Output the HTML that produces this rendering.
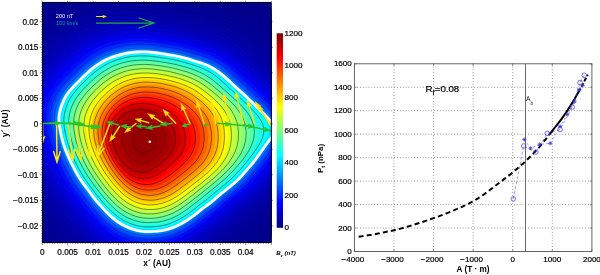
<!DOCTYPE html>
<html lang="en"><head><meta charset="utf-8"><title>Figure</title><style>html,body{margin:0;padding:0;background:#fff;overflow:hidden}svg{display:block}svg text{font-family:"Liberation Sans",Arial,Helvetica,sans-serif}</style></head><body>
<svg width="600" height="275" viewBox="0 0 600 275">
<rect width="600" height="275" fill="#fff"/>
<defs><clipPath id="cp"><rect x="42.4" y="2.4" width="228.8" height="240.2"/></clipPath></defs>
<g clip-path="url(#cp)">
<rect x="42.4" y="2.4" width="228.8" height="240.2" fill="#000090"/>
<path d="M-40.1 141.8 -42.4 132.7 -44.4 123.5 -46.1 114.0 -47.6 104.3 -47.9 94.6 -46.9 85.0 -44.7 75.7 -41.6 66.6 -37.9 57.8 -33.3 49.3 -27.8 41.4 -21.6 34.1 -15.0 27.1 -8.3 20.4 -1.7 13.9 4.9 7.4 11.6 1.3 18.7 -4.5 25.9 -10.0 33.3 -15.2 40.9 -20.0 48.9 -24.0 57.2 -27.4 65.6 -30.3 74.1 -32.9 82.6 -35.0 91.1 -36.6 99.6 -37.8 108.2 -38.5 116.6 -38.7 125.0 -38.6 133.3 -38.2 141.4 -37.5 149.4 -36.4 157.3 -35.2 165.0 -34.1 172.6 -33.0 180.2 -31.8 187.7 -30.4 195.1 -28.8 202.4 -27.0 209.7 -25.0 216.9 -22.8 224.1 -20.5 231.3 -18.3 238.6 -16.0 245.8 -13.3 252.8 -10.2 259.6 -6.7 266.2 -2.8 272.6 1.5 278.7 6.2 284.6 11.2 290.3 16.5 295.9 21.9 301.5 27.2 307.4 32.5 313.5 37.8 319.6 43.3 325.7 49.0 331.9 54.9 338.2 61.0 344.7 67.4 351.5 73.9 358.5 80.8 365.6 88.0 372.9 95.7 380.4 103.8 386.5 112.6 386.0 122.5 379.2 132.4 372.0 141.8 365.7 150.6 360.0 158.9 354.4 166.7 348.9 174.2 343.5 181.4 338.0 188.1 332.4 194.6 327.0 200.8 321.8 206.8 316.6 212.5 311.3 218.0 305.8 223.1 300.2 227.9 294.6 232.5 289.0 237.0 283.5 241.2 278.1 245.4 272.9 249.7 268.0 254.2 263.0 258.6 257.8 262.8 252.5 266.8 247.1 270.7 241.7 274.7 236.4 278.9 231.0 283.3 225.5 287.8 219.7 292.1 213.7 296.3 207.5 300.3 201.0 304.3 194.3 307.9 187.3 311.2 180.1 314.2 172.6 316.7 165.0 318.7 157.2 320.1 149.3 321.1 141.3 321.8 133.2 322.1 125.1 321.9 117.0 321.1 108.9 319.6 101.1 317.4 93.4 314.7 85.9 311.4 78.6 307.7 71.7 303.4 65.1 298.6 58.8 293.4 52.8 288.0 47.1 282.3 41.6 276.4 36.2 270.6 30.9 264.6 25.8 258.6 20.9 252.4 16.2 246.0 11.5 239.6 6.7 233.2 1.8 226.7 -2.9 220.1 -7.5 213.3 -11.7 206.1 -15.7 198.8 -19.6 191.3 -23.5 183.6 -27.2 175.7 -30.8 167.6 -34.3 159.2 -37.4 150.6Z" fill="#000090"/>
<path d="M-38.0 141.8 -40.2 132.8 -42.2 123.7 -43.9 114.3 -45.3 104.7 -45.7 95.1 -44.6 85.6 -42.5 76.4 -39.5 67.4 -35.8 58.6 -31.3 50.3 -25.8 42.5 -19.6 35.2 -13.2 28.3 -6.5 21.7 0.0 15.2 6.5 8.8 13.2 2.7 20.2 -3.0 27.4 -8.4 34.6 -13.6 42.2 -18.3 50.1 -22.3 58.3 -25.6 66.7 -28.5 75.0 -31.0 83.4 -33.1 91.9 -34.7 100.3 -35.9 108.8 -36.6 117.1 -36.9 125.4 -36.8 133.6 -36.3 141.6 -35.6 149.6 -34.5 157.4 -33.4 165.0 -32.2 172.6 -31.1 180.0 -30.0 187.4 -28.6 194.8 -27.0 202.0 -25.2 209.2 -23.2 216.3 -21.0 223.5 -18.8 230.6 -16.6 237.8 -14.4 244.9 -11.7 251.8 -8.6 258.6 -5.1 265.2 -1.3 271.5 3.0 277.6 7.7 283.4 12.6 289.0 17.8 294.5 23.1 300.1 28.4 305.9 33.7 311.9 38.9 318.0 44.4 324.0 50.0 330.1 55.8 336.4 61.9 342.9 68.1 349.5 74.6 356.5 81.4 363.5 88.6 370.7 96.2 378.2 104.2 384.2 112.9 383.6 122.7 377.0 132.5 369.8 141.8 363.6 150.5 357.9 158.7 352.4 166.5 347.0 173.9 341.6 181.0 336.2 187.7 330.7 194.0 325.3 200.2 320.2 206.1 315.0 211.8 309.8 217.2 304.4 222.3 298.8 227.0 293.2 231.6 287.7 236.0 282.2 240.2 276.9 244.3 271.8 248.6 266.9 253.0 262.0 257.3 256.9 261.5 251.6 265.5 246.3 269.4 240.9 273.3 235.6 277.4 230.3 281.9 224.8 286.3 219.1 290.5 213.2 294.6 207.0 298.7 200.6 302.6 194.0 306.2 187.1 309.4 179.9 312.4 172.6 314.9 165.0 316.8 157.3 318.2 149.5 319.3 141.6 319.9 133.5 320.2 125.5 320.0 117.5 319.2 109.5 317.7 101.7 315.6 94.1 312.9 86.7 309.6 79.6 305.9 72.7 301.7 66.2 296.9 59.9 291.8 54.0 286.5 48.3 280.8 42.9 275.0 37.6 269.2 32.3 263.4 27.3 257.4 22.4 251.2 17.8 244.9 13.1 238.6 8.3 232.2 3.5 225.9 -1.2 219.3 -5.7 212.5 -9.9 205.5 -13.8 198.2 -17.7 190.7 -21.5 183.1 -25.2 175.3 -28.8 167.3 -32.2 159.1 -35.3 150.5Z" fill="#000091"/>
<path d="M-35.8 141.8 -38.1 132.9 -40.0 123.9 -41.7 114.6 -43.1 105.1 -43.5 95.6 -42.4 86.2 -40.3 77.1 -37.3 68.2 -33.6 59.5 -29.2 51.2 -23.8 43.5 -17.7 36.3 -11.3 29.5 -4.7 23.0 1.8 16.6 8.2 10.2 14.8 4.2 21.8 -1.4 28.8 -6.8 36.0 -11.9 43.5 -16.6 51.3 -20.6 59.5 -23.9 67.7 -26.7 76.0 -29.2 84.3 -31.3 92.6 -32.9 101.0 -34.0 109.4 -34.7 117.6 -35.0 125.8 -34.9 133.9 -34.4 141.9 -33.7 149.7 -32.7 157.4 -31.5 165.0 -30.4 172.5 -29.3 179.9 -28.2 187.2 -26.8 194.4 -25.2 201.6 -23.4 208.7 -21.5 215.8 -19.3 222.8 -17.1 229.9 -15.0 237.1 -12.7 244.1 -10.1 250.9 -7.0 257.6 -3.6 264.1 0.3 270.4 4.5 276.4 9.1 282.1 14.0 287.7 19.1 293.1 24.4 298.7 29.6 304.4 34.8 310.4 40.0 316.3 45.4 322.3 51.0 328.4 56.8 334.6 62.7 341.0 68.9 347.6 75.4 354.4 82.1 361.4 89.2 368.5 96.7 375.9 104.6 381.8 113.3 381.3 122.9 374.8 132.6 367.6 141.8 361.5 150.4 355.9 158.5 350.4 166.2 345.1 173.5 339.7 180.5 334.3 187.2 328.9 193.5 323.6 199.5 318.5 205.4 313.5 211.0 308.3 216.4 302.9 221.4 297.4 226.1 291.9 230.6 286.4 235.0 281.0 239.1 275.7 243.3 270.7 247.5 265.8 251.8 260.9 256.1 255.9 260.3 250.7 264.2 245.4 268.0 240.1 271.9 234.9 276.0 229.6 280.4 224.2 284.7 218.6 288.9 212.7 293.0 206.6 297.0 200.3 300.9 193.7 304.4 186.8 307.7 179.8 310.6 172.5 313.1 165.0 315.0 157.4 316.4 149.6 317.4 141.8 318.0 133.9 318.3 125.9 318.1 118.0 317.4 110.1 315.9 102.4 313.8 94.9 311.1 87.6 307.9 80.5 304.2 73.7 300.0 67.2 295.3 61.1 290.2 55.2 284.9 49.6 279.4 44.2 273.6 38.9 267.9 33.8 262.1 28.7 256.1 23.9 250.1 19.3 243.8 14.7 237.5 10.0 231.3 5.2 225.0 0.6 218.5 -3.9 211.8 -8.0 204.8 -11.9 197.6 -15.7 190.2 -19.5 182.7 -23.2 175.0 -26.8 167.0 -30.1 158.9 -33.2 150.5Z" fill="#000091"/>
<path d="M-33.7 141.8 -35.9 133.0 -37.8 124.1 -39.5 114.9 -40.9 105.5 -41.2 96.1 -40.2 86.8 -38.1 77.8 -35.1 69.0 -31.5 60.4 -27.1 52.2 -21.7 44.6 -15.7 37.5 -9.4 30.7 -2.9 24.2 3.5 17.9 9.9 11.7 16.4 5.7 23.3 0.1 30.3 -5.2 37.4 -10.3 44.8 -14.9 52.5 -18.8 60.6 -22.1 68.7 -24.9 76.9 -27.4 85.2 -29.4 93.4 -31.0 101.7 -32.1 109.9 -32.8 118.1 -33.1 126.3 -33.0 134.3 -32.6 142.1 -31.8 149.9 -30.8 157.5 -29.7 165.0 -28.5 172.4 -27.5 179.7 -26.3 187.0 -25.0 194.1 -23.4 201.2 -21.7 208.3 -19.7 215.3 -17.6 222.2 -15.4 229.2 -13.3 236.3 -11.1 243.2 -8.5 250.0 -5.4 256.6 -2.0 263.1 1.8 269.2 5.9 275.2 10.5 280.9 15.3 286.4 20.4 291.8 25.6 297.2 30.8 302.9 36.0 308.8 41.1 314.7 46.4 320.6 51.9 326.6 57.7 332.8 63.6 339.1 69.7 345.6 76.1 352.4 82.7 359.3 89.7 366.4 97.2 373.7 105.0 379.5 113.6 379.0 123.1 372.5 132.7 365.5 141.8 359.4 150.3 353.9 158.3 348.4 166.0 343.1 173.2 337.9 180.1 332.5 186.7 327.2 192.9 322.0 198.9 316.9 204.7 311.9 210.3 306.8 215.6 301.4 220.6 295.9 225.2 290.5 229.7 285.1 234.0 279.8 238.1 274.5 242.2 269.5 246.3 264.7 250.7 259.9 254.9 254.9 259.0 249.8 262.9 244.5 266.7 239.3 270.5 234.1 274.6 228.9 278.9 223.6 283.2 218.0 287.4 212.2 291.4 206.2 295.4 199.9 299.2 193.4 302.7 186.6 305.9 179.6 308.8 172.4 311.2 165.0 313.1 157.5 314.5 149.8 315.5 142.0 316.1 134.2 316.4 126.3 316.3 118.5 315.5 110.7 314.0 103.1 311.9 95.6 309.3 88.4 306.1 81.4 302.5 74.6 298.3 68.2 293.7 62.2 288.7 56.3 283.4 50.8 277.9 45.5 272.2 40.3 266.5 35.2 260.8 30.2 254.9 25.4 248.9 20.9 242.7 16.3 236.5 11.7 230.3 6.9 224.1 2.3 217.6 -2.1 211.0 -6.2 204.1 -10.0 197.0 -13.8 189.7 -17.6 182.3 -21.2 174.6 -24.7 166.8 -28.0 158.7 -31.0 150.4Z" fill="#000091"/>
<path d="M-31.5 141.8 -33.7 133.1 -35.6 124.3 -37.3 115.2 -38.7 105.9 -39.0 96.6 -38.0 87.4 -35.9 78.5 -33.0 69.7 -29.4 61.3 -25.0 53.2 -19.7 45.6 -13.8 38.6 -7.5 31.9 -1.1 25.5 5.3 19.2 11.6 13.1 18.0 7.1 24.8 1.6 31.8 -3.6 38.8 -8.6 46.1 -13.2 53.7 -17.1 61.7 -20.3 69.8 -23.1 77.9 -25.5 86.0 -27.6 94.2 -29.1 102.4 -30.3 110.5 -30.9 118.6 -31.2 126.7 -31.1 134.6 -30.7 142.4 -30.0 150.1 -29.0 157.6 -27.8 165.0 -26.7 172.3 -25.7 179.6 -24.5 186.7 -23.2 193.8 -21.6 200.8 -19.9 207.8 -18.0 214.7 -15.9 221.6 -13.7 228.5 -11.6 235.5 -9.4 242.4 -6.8 249.1 -3.8 255.6 -0.5 262.0 3.3 268.1 7.4 274.0 11.9 279.6 16.7 285.1 21.7 290.4 26.9 295.8 32.0 301.4 37.1 307.3 42.2 313.1 47.4 319.0 52.9 324.9 58.6 331.0 64.4 337.2 70.5 343.7 76.8 350.4 83.3 357.3 90.3 364.2 97.6 371.4 105.4 377.2 113.9 376.7 123.3 370.3 132.8 363.3 141.8 357.3 150.2 351.8 158.1 346.5 165.7 341.2 172.9 336.0 179.7 330.7 186.2 325.4 192.4 320.3 198.3 315.2 204.0 310.3 209.5 305.2 214.8 299.9 219.7 294.5 224.3 289.2 228.7 283.8 233.0 278.5 237.1 273.3 241.1 268.4 245.2 263.7 249.5 258.9 253.7 254.0 257.7 248.9 261.6 243.7 265.3 238.5 269.1 233.4 273.1 228.2 277.4 222.9 281.7 217.4 285.8 211.7 289.8 205.7 293.7 199.5 297.5 193.1 300.9 186.4 304.1 179.5 307.0 172.3 309.4 165.0 311.3 157.5 312.7 150.0 313.6 142.3 314.3 134.5 314.6 126.7 314.4 119.0 313.6 111.3 312.2 103.7 310.1 96.4 307.5 89.2 304.3 82.3 300.7 75.6 296.6 69.3 292.0 63.3 287.1 57.5 281.9 52.0 276.4 46.8 270.8 41.6 265.2 36.6 259.5 31.6 253.7 26.9 247.7 22.4 241.6 17.9 235.5 13.3 229.4 8.6 223.2 4.1 216.8 -0.3 210.3 -4.3 203.4 -8.1 196.4 -11.9 189.2 -15.6 181.8 -19.2 174.3 -22.7 166.5 -25.9 158.5 -28.9 150.3Z" fill="#000091"/>
<path d="M-29.4 141.8 -31.5 133.2 -33.4 124.4 -35.1 115.5 -36.5 106.3 -36.8 97.1 -35.8 88.0 -33.7 79.1 -30.8 70.5 -27.3 62.2 -23.0 54.1 -17.7 46.7 -11.8 39.7 -5.6 33.1 0.7 26.8 7.0 20.6 13.2 14.5 19.6 8.6 26.3 3.1 33.2 -2.0 40.1 -7.0 47.3 -11.5 54.9 -15.4 62.8 -18.6 70.8 -21.3 78.8 -23.7 86.9 -25.7 95.0 -27.3 103.1 -28.4 111.1 -29.0 119.2 -29.3 127.1 -29.2 134.9 -28.8 142.6 -28.1 150.2 -27.1 157.7 -25.9 165.0 -24.9 172.2 -23.8 179.4 -22.7 186.5 -21.4 193.5 -19.8 200.5 -18.1 207.3 -16.2 214.2 -14.2 221.0 -12.0 227.9 -9.9 234.7 -7.8 241.5 -5.2 248.2 -2.3 254.6 1.1 260.9 4.8 267.0 8.9 272.8 13.3 278.4 18.1 283.8 23.0 289.0 28.1 294.4 33.2 300.0 38.2 305.7 43.3 311.5 48.5 317.3 53.9 323.1 59.5 329.2 65.2 335.3 71.2 341.7 77.5 348.4 84.0 355.2 90.8 362.0 98.1 369.2 105.8 374.9 114.2 374.4 123.5 368.0 132.9 361.1 141.8 355.2 150.1 349.8 158.0 344.5 165.4 339.3 172.5 334.1 179.3 328.9 185.7 323.7 191.8 318.6 197.7 313.6 203.4 308.7 208.8 303.7 214.0 298.5 218.9 293.1 223.4 287.8 227.8 282.5 232.0 277.3 236.0 272.2 240.0 267.3 244.1 262.6 248.3 257.9 252.5 253.0 256.5 248.0 260.3 242.8 264.0 237.7 267.7 232.6 271.7 227.5 275.9 222.3 280.2 216.8 284.2 211.2 288.2 205.3 292.1 199.1 295.8 192.8 299.2 186.1 302.4 179.3 305.2 172.2 307.6 165.0 309.4 157.6 310.8 150.1 311.7 142.5 312.4 134.9 312.7 127.2 312.5 119.5 311.7 111.9 310.3 104.4 308.3 97.1 305.6 90.0 302.5 83.2 299.0 76.6 294.9 70.3 290.4 64.4 285.5 58.7 280.3 53.3 275.0 48.1 269.4 43.0 263.8 38.0 258.2 33.1 252.5 28.4 246.6 24.0 240.5 19.5 234.5 15.0 228.4 10.4 222.3 5.9 216.0 1.5 209.5 -2.5 202.8 -6.2 195.8 -9.9 188.7 -13.6 181.4 -17.2 173.9 -20.6 166.2 -23.8 158.3 -26.8 150.2Z" fill="#000092"/>
<path d="M-27.2 141.8 -29.4 133.3 -31.2 124.6 -32.9 115.7 -34.2 106.7 -34.5 97.6 -33.6 88.6 -31.5 79.8 -28.7 71.3 -25.2 63.0 -20.9 55.1 -15.7 47.7 -9.9 40.8 -3.7 34.3 2.5 28.0 8.8 21.9 14.9 15.9 21.2 10.1 27.9 4.7 34.7 -0.4 41.5 -5.4 48.6 -9.8 56.2 -13.6 64.0 -16.8 71.9 -19.5 79.8 -21.9 87.7 -23.9 95.7 -25.4 103.7 -26.5 111.7 -27.1 119.7 -27.4 127.5 -27.3 135.3 -26.9 142.9 -26.2 150.4 -25.2 157.8 -24.1 165.0 -23.0 172.2 -22.0 179.2 -20.9 186.2 -19.6 193.2 -18.1 200.1 -16.4 206.9 -14.5 213.6 -12.4 220.4 -10.3 227.2 -8.3 234.0 -6.1 240.7 -3.6 247.3 -0.7 253.7 2.6 259.9 6.3 265.9 10.3 271.6 14.7 277.1 19.4 282.5 24.3 287.7 29.4 293.0 34.4 298.5 39.4 304.2 44.4 309.9 49.5 315.6 54.9 321.4 60.4 327.4 66.1 333.5 72.0 339.8 78.2 346.3 84.6 353.1 91.4 359.8 98.6 366.9 106.2 372.6 114.5 372.1 123.7 365.8 133.0 359.0 141.8 353.1 150.0 347.7 157.8 342.5 165.2 337.4 172.2 332.3 178.9 327.1 185.2 321.9 191.3 316.9 197.1 312.0 202.7 307.1 208.1 302.2 213.2 297.0 218.0 291.7 222.5 286.5 226.8 281.2 231.0 276.0 235.0 271.0 238.9 266.2 243.0 261.5 247.1 256.8 251.2 252.0 255.2 247.0 259.0 242.0 262.6 236.9 266.3 231.9 270.3 226.9 274.5 221.7 278.6 216.3 282.7 210.6 286.6 204.8 290.4 198.8 294.1 192.4 297.5 185.9 300.6 179.1 303.4 172.2 305.7 165.0 307.6 157.7 308.9 150.3 309.9 142.8 310.5 135.2 310.8 127.6 310.6 120.0 309.9 112.5 308.4 105.1 306.4 97.9 303.8 90.9 300.8 84.1 297.3 77.6 293.3 71.4 288.8 65.5 283.9 59.9 278.8 54.5 273.5 49.4 268.0 44.3 262.5 39.4 256.9 34.5 251.3 30.0 245.4 25.5 239.5 21.1 233.4 16.6 227.5 12.1 221.4 7.6 215.2 3.3 208.8 -0.7 202.1 -4.4 195.2 -8.0 188.2 -11.6 181.0 -15.2 173.6 -18.6 166.0 -21.8 158.1 -24.7 150.1Z" fill="#000092"/>
<path d="M-25.1 141.8 -27.2 133.4 -29.0 124.8 -30.7 116.0 -32.0 107.1 -32.3 98.1 -31.3 89.2 -29.3 80.5 -26.5 72.1 -23.0 63.9 -18.8 56.1 -13.7 48.8 -7.9 42.0 -1.9 35.5 4.3 29.3 10.5 23.3 16.6 17.3 22.8 11.5 29.4 6.2 36.1 1.2 42.9 -3.7 49.9 -8.1 57.4 -11.9 65.1 -15.0 72.9 -17.7 80.7 -20.1 88.6 -22.0 96.5 -23.5 104.4 -24.6 112.3 -25.3 120.2 -25.5 127.9 -25.4 135.6 -25.0 143.1 -24.3 150.5 -23.4 157.8 -22.2 165.0 -21.2 172.1 -20.2 179.1 -19.1 186.0 -17.8 192.9 -16.3 199.7 -14.6 206.4 -12.8 213.1 -10.7 219.8 -8.6 226.5 -6.6 233.2 -4.5 239.8 -2.0 246.3 0.9 252.7 4.2 258.8 7.8 264.7 11.8 270.4 16.2 275.9 20.8 281.1 25.7 286.3 30.7 291.5 35.6 297.0 40.5 302.6 45.5 308.3 50.5 313.9 55.8 319.6 61.3 325.5 66.9 331.6 72.8 337.8 78.9 344.3 85.3 351.0 92.0 357.7 99.1 364.7 106.6 370.3 114.8 369.8 123.9 363.6 133.1 356.8 141.8 351.0 149.9 345.7 157.6 340.5 164.9 335.4 171.9 330.4 178.5 325.3 184.8 320.2 190.7 315.2 196.5 310.3 202.0 305.5 207.3 300.6 212.4 295.5 217.2 290.3 221.6 285.1 225.9 279.9 230.0 274.8 233.9 269.8 237.8 265.0 241.8 260.4 246.0 255.8 250.0 251.0 253.9 246.1 257.7 241.1 261.3 236.1 264.9 231.1 268.8 226.2 273.0 221.0 277.1 215.7 281.1 210.1 285.0 204.4 288.7 198.4 292.4 192.1 295.7 185.7 298.8 179.0 301.6 172.1 303.9 165.0 305.7 157.8 307.1 150.5 308.0 143.0 308.6 135.5 308.9 128.0 308.7 120.5 308.0 113.0 306.6 105.7 304.6 98.6 302.0 91.7 299.0 85.0 295.5 78.5 291.6 72.4 287.1 66.6 282.3 61.0 277.3 55.7 272.0 50.7 266.6 45.7 261.1 40.8 255.6 36.0 250.0 31.5 244.3 27.1 238.4 22.8 232.4 18.3 226.5 13.8 220.5 9.4 214.4 5.1 208.0 1.2 201.4 -2.5 194.6 -6.1 187.6 -9.7 180.5 -13.2 173.2 -16.5 165.7 -19.7 158.0 -22.6 150.0Z" fill="#000092"/>
<path d="M-22.9 141.8 -25.0 133.5 -26.8 125.0 -28.5 116.3 -29.8 107.5 -30.1 98.5 -29.1 89.8 -27.1 81.2 -24.3 72.9 -20.9 64.8 -16.7 57.1 -11.7 49.8 -6.0 43.1 0.0 36.7 6.2 30.6 12.2 24.6 18.3 18.7 24.5 13.0 30.9 7.7 37.6 2.7 44.3 -2.1 51.2 -6.4 58.6 -10.2 66.2 -13.3 73.9 -15.9 81.7 -18.2 89.5 -20.2 97.3 -21.7 105.1 -22.7 112.9 -23.4 120.7 -23.6 128.3 -23.6 135.9 -23.1 143.4 -22.5 150.7 -21.5 157.9 -20.4 165.0 -19.3 172.0 -18.3 178.9 -17.3 185.8 -16.0 192.6 -14.5 199.3 -12.8 205.9 -11.0 212.5 -9.0 219.1 -6.9 225.8 -4.9 232.4 -2.8 239.0 -0.4 245.4 2.5 251.7 5.7 257.8 9.3 263.6 13.3 269.2 17.6 274.6 22.2 279.8 27.0 284.9 31.9 290.1 36.8 295.5 41.7 301.0 46.5 306.6 51.6 312.2 56.8 317.9 62.2 323.7 67.8 329.7 73.6 335.9 79.6 342.3 85.9 348.9 92.5 355.5 99.6 362.4 107.0 367.9 115.1 367.5 124.1 361.3 133.2 354.6 141.8 348.9 149.8 343.7 157.4 338.5 164.6 333.5 171.5 328.5 178.1 323.5 184.3 318.4 190.2 313.5 195.8 308.7 201.3 303.9 206.6 299.1 211.6 294.0 216.3 288.9 220.7 283.7 224.9 278.7 229.0 273.6 232.9 268.6 236.7 263.9 240.7 259.4 244.8 254.8 248.8 250.1 252.7 245.2 256.4 240.2 259.9 235.3 263.5 230.4 267.4 225.5 271.5 220.4 275.6 215.1 279.5 209.6 283.3 203.9 287.1 198.0 290.7 191.8 294.0 185.4 297.0 178.8 299.8 172.0 302.1 165.0 303.9 157.9 305.2 150.6 306.1 143.3 306.7 135.9 307.0 128.4 306.8 121.0 306.1 113.6 304.7 106.4 302.8 99.4 300.2 92.5 297.2 85.9 293.8 79.5 289.9 73.5 285.5 67.7 280.7 62.2 275.8 57.0 270.5 51.9 265.2 47.0 259.8 42.2 254.4 37.5 248.8 33.0 243.1 28.7 237.3 24.4 231.4 19.9 225.6 15.5 219.6 11.1 213.6 6.9 207.3 3.0 200.7 -0.6 194.0 -4.1 187.1 -7.7 180.1 -11.2 172.9 -14.5 165.4 -17.6 157.8 -20.5 149.9Z" fill="#000093"/>
<path d="M-20.8 141.8 -22.9 133.6 -24.6 125.2 -26.3 116.6 -27.6 107.8 -27.9 99.0 -26.9 90.4 -24.9 81.9 -22.2 73.7 -18.8 65.7 -14.7 58.0 -9.6 50.9 -4.0 44.2 1.9 37.9 8.0 31.8 14.0 25.9 19.9 20.1 26.1 14.5 32.5 9.3 39.0 4.3 45.7 -0.4 52.5 -4.8 59.8 -8.4 67.3 -11.5 75.0 -14.1 82.6 -16.4 90.3 -18.3 98.1 -19.8 105.8 -20.9 113.5 -21.5 121.2 -21.8 128.8 -21.7 136.2 -21.3 143.6 -20.6 150.9 -19.6 158.0 -18.5 165.0 -17.5 171.9 -16.5 178.8 -15.5 185.5 -14.2 192.2 -12.7 198.9 -11.1 205.5 -9.3 212.0 -7.3 218.5 -5.2 225.1 -3.2 231.7 -1.2 238.2 1.3 244.5 4.1 250.7 7.3 256.7 10.8 262.5 14.7 268.0 19.0 273.4 23.5 278.5 28.3 283.6 33.2 288.7 38.0 294.0 42.8 299.5 47.6 305.0 52.6 310.6 57.8 316.2 63.1 321.9 68.6 327.8 74.4 333.9 80.3 340.3 86.5 346.8 93.1 353.3 100.1 360.2 107.4 365.6 115.4 365.2 124.3 359.1 133.3 352.5 141.8 346.8 149.7 341.6 157.3 336.6 164.4 331.6 171.2 326.7 177.6 321.7 183.8 316.7 189.6 311.8 195.2 307.0 200.6 302.4 205.9 297.6 210.8 292.6 215.5 287.5 219.8 282.4 224.0 277.4 228.0 272.3 231.9 267.4 235.7 262.8 239.6 258.3 243.6 253.8 247.6 249.1 251.4 244.3 255.1 239.4 258.6 234.5 262.1 229.6 266.0 224.8 270.0 219.8 274.0 214.6 277.9 209.1 281.7 203.5 285.4 197.6 289.0 191.5 292.3 185.2 295.3 178.7 298.0 171.9 300.3 165.0 302.0 157.9 303.3 150.8 304.2 143.5 304.9 136.2 305.1 128.8 305.0 121.5 304.2 114.2 302.9 107.1 300.9 100.1 298.4 93.4 295.4 86.8 292.1 80.5 288.2 74.5 283.8 68.8 279.1 63.4 274.2 58.2 269.1 53.2 263.8 48.4 258.4 43.6 253.1 38.9 247.6 34.5 242.0 30.2 236.2 26.0 230.4 21.6 224.6 17.2 218.8 12.9 212.7 8.7 206.5 4.9 200.1 1.3 193.4 -2.2 186.6 -5.7 179.7 -9.1 172.5 -12.4 165.2 -15.5 157.6 -18.3 149.8Z" fill="#000093"/>
<path d="M-18.6 141.8 -20.7 133.7 -22.5 125.4 -24.1 116.9 -25.3 108.2 -25.6 99.5 -24.7 91.0 -22.8 82.6 -20.0 74.5 -16.7 66.5 -12.6 59.0 -7.6 51.9 -2.1 45.3 3.8 39.1 9.8 33.1 15.7 27.3 21.6 21.5 27.7 16.0 34.0 10.8 40.5 5.9 47.0 1.2 53.8 -3.1 61.0 -6.7 68.5 -9.7 76.0 -12.3 83.6 -14.6 91.2 -16.5 98.8 -18.0 106.5 -19.0 114.1 -19.6 121.7 -19.9 129.2 -19.8 136.6 -19.4 143.9 -18.7 151.0 -17.8 158.1 -16.7 165.0 -15.7 171.8 -14.7 178.6 -13.6 185.3 -12.4 191.9 -10.9 198.5 -9.3 205.0 -7.5 211.5 -5.6 217.9 -3.5 224.4 -1.6 230.9 0.5 237.3 2.9 243.6 5.7 249.7 8.8 255.6 12.3 261.4 16.2 266.9 20.4 272.1 24.9 277.2 29.6 282.2 34.4 287.2 39.2 292.5 44.0 297.9 48.7 303.4 53.6 308.9 58.7 314.4 64.0 320.1 69.5 325.9 75.1 332.0 81.0 338.3 87.2 344.7 93.7 351.1 100.5 357.9 107.8 363.3 115.7 362.9 124.5 356.8 133.4 350.3 141.8 344.8 149.6 339.6 157.1 334.6 164.1 329.7 170.8 324.8 177.2 319.9 183.3 314.9 189.1 310.1 194.6 305.4 200.0 300.8 205.1 296.0 210.0 291.1 214.6 286.0 218.9 281.0 223.0 276.1 227.0 271.1 230.8 266.3 234.6 261.6 238.4 257.2 242.4 252.7 246.4 248.1 250.1 243.4 253.7 238.5 257.2 233.7 260.8 228.9 264.5 224.1 268.5 219.1 272.5 214.0 276.4 208.6 280.1 203.0 283.8 197.2 287.3 191.2 290.5 185.0 293.5 178.5 296.2 171.8 298.4 165.0 300.2 158.0 301.5 151.0 302.4 143.8 303.0 136.5 303.2 129.2 303.1 122.0 302.4 114.8 301.0 107.8 299.1 100.9 296.6 94.2 293.7 87.7 290.3 81.5 286.5 75.6 282.2 69.9 277.6 64.6 272.7 59.4 267.6 54.5 262.4 49.7 257.1 45.0 251.8 40.4 246.4 36.0 240.8 31.8 235.1 27.6 229.4 23.2 223.6 18.9 217.9 14.6 211.9 10.5 205.8 6.7 199.4 3.2 192.8 -0.3 186.1 -3.8 179.2 -7.1 172.2 -10.4 164.9 -13.4 157.4 -16.2 149.7Z" fill="#000094"/>
<path d="M-16.5 141.8 -18.5 133.8 -20.3 125.6 -21.9 117.2 -23.1 108.6 -23.4 100.0 -22.5 91.6 -20.6 83.3 -17.9 75.2 -14.6 67.4 -10.5 60.0 -5.6 53.0 -0.1 46.5 5.7 40.3 11.6 34.4 17.5 28.6 23.3 22.9 29.3 17.4 35.5 12.3 41.9 7.5 48.4 2.9 55.1 -1.4 62.2 -5.0 69.6 -8.0 77.1 -10.5 84.5 -12.8 92.1 -14.6 99.6 -16.1 107.2 -17.1 114.7 -17.7 122.2 -18.0 129.6 -17.9 136.9 -17.5 144.1 -16.8 151.2 -15.9 158.2 -14.8 165.0 -13.8 171.8 -12.9 178.4 -11.8 185.1 -10.6 191.6 -9.1 198.1 -7.6 204.5 -5.8 210.9 -3.8 217.3 -1.8 223.7 0.1 230.1 2.1 236.5 4.5 242.7 7.3 248.7 10.4 254.6 13.9 260.2 17.7 265.7 21.8 270.9 26.3 275.9 30.9 280.8 35.7 285.8 40.4 291.0 45.1 296.4 49.8 301.8 54.7 307.2 59.7 312.7 64.9 318.3 70.3 324.1 75.9 330.0 81.7 336.2 87.8 342.6 94.2 349.0 101.0 355.7 108.2 361.0 116.0 360.5 124.7 354.6 133.5 348.1 141.8 342.7 149.6 337.6 156.9 332.6 163.9 327.7 170.5 322.9 176.8 318.1 182.8 313.2 188.5 308.4 194.0 303.8 199.3 299.2 204.4 294.5 209.2 289.6 213.8 284.6 218.0 279.7 222.1 274.8 226.0 269.9 229.8 265.1 233.5 260.5 237.3 256.1 241.2 251.7 245.1 247.2 248.9 242.5 252.4 237.7 255.9 232.9 259.4 228.2 263.1 223.4 267.1 218.5 271.0 213.4 274.8 208.1 278.5 202.6 282.1 196.9 285.6 190.9 288.8 184.7 291.7 178.3 294.4 171.8 296.6 165.0 298.3 158.1 299.6 151.1 300.5 144.0 301.1 136.9 301.4 129.7 301.2 122.5 300.5 115.4 299.1 108.4 297.2 101.6 294.8 95.0 291.9 88.6 288.6 82.4 284.8 76.6 280.6 71.0 276.0 65.7 271.2 60.7 266.1 55.8 261.0 51.1 255.7 46.4 250.5 41.8 245.2 37.5 239.6 33.3 234.0 29.2 228.3 24.9 222.7 20.6 217.0 16.4 211.1 12.3 205.0 8.6 198.7 5.1 192.2 1.6 185.6 -1.8 178.8 -5.1 171.8 -8.3 164.6 -11.3 157.2 -14.1 149.6Z" fill="#000094"/>
<path d="M-14.4 141.8 -16.4 133.9 -18.1 125.8 -19.6 117.5 -20.9 109.0 -21.2 100.5 -20.3 92.2 -18.4 84.0 -15.7 76.0 -12.4 68.3 -8.4 60.9 -3.6 54.0 1.8 47.6 7.6 41.5 13.4 35.7 19.2 29.9 25.0 24.3 30.9 18.9 37.1 13.9 43.4 9.1 49.8 4.5 56.4 0.3 63.4 -3.2 70.7 -6.2 78.1 -8.7 85.5 -10.9 92.9 -12.8 100.4 -14.2 107.8 -15.2 115.3 -15.8 122.7 -16.1 130.0 -16.0 137.2 -15.6 144.4 -15.0 151.4 -14.0 158.2 -13.0 165.0 -12.0 171.7 -11.0 178.3 -10.0 184.8 -8.8 191.3 -7.4 197.7 -5.8 204.1 -4.0 210.4 -2.1 216.7 -0.1 223.0 1.8 229.4 3.8 235.6 6.1 241.7 8.9 247.7 11.9 253.5 15.4 259.1 19.1 264.5 23.3 269.6 27.6 274.6 32.2 279.5 36.9 284.4 41.6 289.5 46.2 294.8 50.9 300.2 55.7 305.5 60.7 310.9 65.8 316.5 71.2 322.2 76.7 328.1 82.4 334.2 88.5 340.5 94.8 346.8 101.5 353.4 108.6 358.7 116.3 358.2 124.9 352.4 133.6 346.0 141.8 340.6 149.5 335.5 156.7 330.6 163.6 325.8 170.2 321.1 176.4 316.3 182.3 311.4 188.0 306.7 193.4 302.1 198.6 297.6 203.6 293.0 208.4 288.2 212.9 283.2 217.1 278.3 221.2 273.5 225.0 268.6 228.7 263.9 232.4 259.4 236.2 255.1 240.1 250.7 243.9 246.2 247.6 241.6 251.1 236.8 254.5 232.1 258.0 227.4 261.7 222.7 265.6 217.9 269.5 212.8 273.2 207.6 276.9 202.2 280.5 196.5 283.9 190.6 287.0 184.5 290.0 178.2 292.6 171.7 294.8 165.0 296.5 158.2 297.7 151.3 298.6 144.3 299.2 137.2 299.5 130.1 299.3 123.0 298.6 116.0 297.3 109.1 295.4 102.4 293.0 95.8 290.1 89.5 286.9 83.4 283.1 77.6 278.9 72.2 274.4 66.9 269.6 61.9 264.7 57.1 259.5 52.4 254.4 47.8 249.2 43.3 243.9 39.0 238.5 34.9 232.9 30.8 227.3 26.6 221.7 22.3 216.1 18.1 210.3 14.2 204.3 10.4 198.1 7.0 191.6 3.6 185.1 0.2 178.3 -3.1 171.4 -6.3 164.3 -9.3 157.0 -12.0 149.5Z" fill="#000095"/>
<path d="M-12.2 141.8 -14.2 134.0 -15.9 126.0 -17.4 117.8 -18.7 109.4 -19.0 101.0 -18.1 92.8 -16.2 84.7 -13.5 76.8 -10.3 69.2 -6.4 61.9 -1.6 55.1 3.8 48.7 9.4 42.7 15.2 36.9 21.0 31.3 26.6 25.7 32.5 20.4 38.6 15.4 44.8 10.7 51.2 6.1 57.7 2.0 64.7 -1.5 71.9 -4.4 79.1 -6.9 86.4 -9.1 93.8 -10.9 101.1 -12.4 108.5 -13.4 115.9 -14.0 123.2 -14.2 130.4 -14.1 137.6 -13.7 144.6 -13.1 151.5 -12.2 158.3 -11.1 165.0 -10.1 171.6 -9.2 178.1 -8.2 184.6 -7.0 191.0 -5.6 197.3 -4.0 203.6 -2.3 209.8 -0.4 216.0 1.6 222.3 3.4 228.6 5.4 234.8 7.8 240.8 10.5 246.7 13.5 252.5 16.9 258.0 20.6 263.3 24.7 268.4 29.0 273.3 33.5 278.1 38.2 283.0 42.8 288.0 47.4 293.3 52.0 298.6 56.7 303.8 61.6 309.2 66.7 314.7 72.0 320.3 77.5 326.1 83.2 332.2 89.1 338.4 95.3 344.6 102.0 351.2 109.0 356.4 116.6 355.9 125.1 350.1 133.7 343.8 141.8 338.5 149.4 333.5 156.5 328.6 163.3 323.9 169.8 319.2 176.0 314.4 181.8 309.7 187.4 305.0 192.8 300.5 197.9 296.0 202.9 291.4 207.6 286.7 212.1 281.8 216.2 277.0 220.2 272.2 224.0 267.4 227.7 262.7 231.3 258.3 235.1 254.0 238.9 249.7 242.7 245.2 246.3 240.6 249.8 236.0 253.2 231.3 256.6 226.7 260.2 222.0 264.1 217.2 267.9 212.3 271.7 207.1 275.3 201.7 278.8 196.1 282.2 190.3 285.3 184.3 288.2 178.0 290.8 171.6 292.9 165.0 294.6 158.3 295.9 151.4 296.7 144.5 297.3 137.5 297.6 130.5 297.4 123.5 296.7 116.6 295.4 109.8 293.6 103.1 291.2 96.7 288.4 90.4 285.1 84.4 281.4 78.7 277.3 73.3 272.8 68.1 268.1 63.1 263.2 58.4 258.1 53.8 253.0 49.2 247.9 44.7 242.7 40.5 237.3 36.4 231.8 32.4 226.3 28.2 220.8 24.0 215.2 19.9 209.5 16.0 203.5 12.3 197.4 8.9 191.0 5.5 184.5 2.1 177.9 -1.1 171.1 -4.2 164.1 -7.2 156.9 -9.9 149.4Z" fill="#000095"/>
<path d="M-10.1 141.8 -12.0 134.1 -13.7 126.2 -15.2 118.1 -16.4 109.8 -16.7 101.5 -15.8 93.3 -14.0 85.4 -11.4 77.6 -8.2 70.1 -4.3 62.9 0.4 56.1 5.7 49.9 11.3 43.9 17.0 38.2 22.7 32.6 28.3 27.1 34.1 21.8 40.1 16.9 46.3 12.3 52.5 7.8 59.0 3.7 65.9 0.2 73.0 -2.6 80.2 -5.1 87.4 -7.3 94.6 -9.1 101.9 -10.5 109.2 -11.5 116.5 -12.1 123.7 -12.3 130.9 -12.2 137.9 -11.9 144.9 -11.2 151.7 -10.3 158.4 -9.3 165.0 -8.3 171.5 -7.4 178.0 -6.4 184.3 -5.2 190.7 -3.8 196.9 -2.3 203.1 -0.5 209.3 1.3 215.4 3.2 221.6 5.1 227.8 7.1 233.9 9.4 239.9 12.0 245.7 15.1 251.4 18.4 256.9 22.1 262.1 26.1 267.1 30.4 272.0 34.8 276.7 39.4 281.5 44.0 286.5 48.5 291.7 53.1 296.9 57.7 302.1 62.6 307.4 67.7 312.9 72.9 318.4 78.3 324.2 83.9 330.2 89.7 336.3 95.9 342.4 102.5 348.9 109.4 354.0 116.9 353.6 125.3 347.9 133.8 341.7 141.8 336.4 149.3 331.4 156.4 326.7 163.1 322.0 169.5 317.3 175.6 312.6 181.4 307.9 186.9 303.3 192.1 298.8 197.2 294.4 202.2 289.9 206.8 285.2 211.2 280.4 215.3 275.6 219.3 270.9 223.0 266.1 226.7 261.5 230.2 257.1 233.9 252.9 237.7 248.6 241.5 244.2 245.1 239.7 248.5 235.1 251.8 230.5 255.2 225.9 258.8 221.3 262.6 216.6 266.4 211.7 270.1 206.6 273.6 201.3 277.1 195.7 280.5 190.0 283.6 184.0 286.4 177.9 289.0 171.5 291.1 165.0 292.8 158.4 294.0 151.6 294.9 144.8 295.4 137.9 295.7 130.9 295.5 124.0 294.9 117.1 293.6 110.4 291.7 103.9 289.4 97.5 286.6 91.3 283.4 85.4 279.7 79.7 275.6 74.4 271.2 69.2 266.6 64.4 261.7 59.7 256.7 55.1 251.7 50.6 246.7 46.2 241.5 42.0 236.2 38.0 230.7 34.0 225.3 29.9 219.8 25.7 214.3 21.7 208.6 17.8 202.8 14.1 196.7 10.8 190.4 7.4 184.0 4.1 177.5 0.9 170.7 -2.2 163.8 -5.1 156.7 -7.8 149.3Z" fill="#000096"/>
<path d="M-7.9 141.8 -9.9 134.2 -11.5 126.4 -13.0 118.4 -14.2 110.2 -14.5 102.0 -13.6 93.9 -11.8 86.1 -9.2 78.4 -6.1 70.9 -2.2 63.8 2.5 57.2 7.7 51.0 13.2 45.1 18.9 39.5 24.5 34.0 30.0 28.5 35.7 23.3 41.6 18.4 47.8 13.8 53.9 9.4 60.3 5.4 67.1 2.0 74.1 -0.9 81.2 -3.3 88.3 -5.5 95.5 -7.2 102.7 -8.6 109.9 -9.6 117.1 -10.2 124.2 -10.4 131.3 -10.3 138.2 -10.0 145.1 -9.3 151.9 -8.5 158.5 -7.4 165.0 -6.5 171.4 -5.6 177.8 -4.6 184.1 -3.4 190.4 -2.0 196.5 -0.5 202.7 1.2 208.7 3.0 214.8 4.9 220.9 6.8 227.0 8.7 233.1 11.0 239.0 13.6 244.8 16.6 250.4 19.9 255.7 23.5 260.9 27.5 265.9 31.7 270.7 36.1 275.3 40.7 280.1 45.2 285.1 49.7 290.2 54.2 295.3 58.8 300.5 63.6 305.7 68.6 311.0 73.7 316.5 79.0 322.2 84.6 328.1 90.4 334.2 96.5 340.3 102.9 346.6 109.8 351.7 117.2 351.3 125.5 345.6 133.9 339.5 141.8 334.3 149.2 329.4 156.2 324.7 162.8 320.1 169.1 315.5 175.2 310.8 180.9 306.2 186.3 301.6 191.5 297.2 196.6 292.8 201.4 288.4 206.0 283.7 210.4 279.0 214.4 274.3 218.3 269.6 222.0 264.9 225.6 260.3 229.2 256.0 232.8 251.8 236.5 247.6 240.3 243.3 243.8 238.8 247.2 234.2 250.5 229.7 253.8 225.2 257.4 220.6 261.1 216.0 264.9 211.1 268.5 206.1 272.0 200.8 275.5 195.4 278.8 189.7 281.8 183.8 284.6 177.7 287.2 171.4 289.3 165.0 290.9 158.4 292.1 151.8 293.0 145.0 293.6 138.2 293.8 131.3 293.7 124.5 293.0 117.7 291.7 111.1 289.9 104.6 287.6 98.3 284.8 92.2 281.7 86.3 278.0 80.8 274.0 75.5 269.6 70.4 265.1 65.6 260.3 61.0 255.3 56.4 250.4 52.0 245.4 47.6 240.3 43.5 235.0 39.5 229.6 35.6 224.2 31.5 218.9 27.4 213.4 23.4 207.8 19.6 202.0 16.0 196.0 12.7 189.8 9.4 183.5 6.1 177.0 2.9 170.4 -0.1 163.5 -3.0 156.5 -5.6 149.3Z" fill="#000097"/>
<path d="M-5.8 141.8 -7.7 134.3 -9.3 126.5 -10.8 118.7 -12.0 110.6 -12.3 102.5 -11.4 94.5 -9.6 86.8 -7.1 79.2 -3.9 71.8 -0.1 64.8 4.5 58.2 9.6 52.1 15.1 46.3 20.7 40.7 26.2 35.3 31.7 29.9 37.3 24.8 43.2 20.0 49.2 15.4 55.3 11.1 61.6 7.1 68.3 3.7 75.2 0.9 82.3 -1.5 89.3 -3.6 96.4 -5.4 103.5 -6.8 110.6 -7.7 117.7 -8.3 124.7 -8.5 131.7 -8.5 138.6 -8.1 145.3 -7.5 152.0 -6.6 158.6 -5.6 165.0 -4.6 171.4 -3.7 177.6 -2.7 183.9 -1.6 190.0 -0.2 196.2 1.3 202.2 2.9 208.2 4.8 214.2 6.6 220.2 8.5 226.3 10.4 232.2 12.6 238.1 15.2 243.8 18.2 249.3 21.4 254.6 25.0 259.7 28.9 264.6 33.1 269.3 37.5 274.0 41.9 278.7 46.4 283.6 50.8 288.6 55.2 293.7 59.8 298.8 64.6 303.9 69.5 309.2 74.5 314.7 79.8 320.3 85.3 326.1 91.0 332.1 97.0 338.1 103.4 344.4 110.2 349.4 117.5 349.0 125.7 343.4 134.0 337.3 141.8 332.2 149.1 327.4 156.0 322.7 162.6 318.1 168.8 313.6 174.7 309.0 180.4 304.4 185.8 299.9 190.9 295.6 195.9 291.3 200.7 286.9 205.2 282.3 209.5 277.6 213.5 272.9 217.4 268.3 221.0 263.7 224.6 259.2 228.1 254.9 231.7 250.7 235.4 246.6 239.0 242.3 242.5 237.9 245.9 233.4 249.1 228.9 252.4 224.4 255.9 220.0 259.7 215.4 263.4 210.5 266.9 205.6 270.4 200.4 273.8 195.0 277.1 189.4 280.1 183.6 282.9 177.6 285.4 171.4 287.5 165.0 289.1 158.5 290.3 151.9 291.1 145.3 291.7 138.5 291.9 131.8 291.8 125.0 291.1 118.3 289.9 111.8 288.1 105.4 285.8 99.1 283.0 93.1 279.9 87.3 276.4 81.8 272.4 76.6 268.0 71.6 263.5 66.8 258.8 62.3 253.9 57.8 249.0 53.4 244.1 49.1 239.0 45.0 233.9 41.1 228.6 37.2 223.2 33.2 217.9 29.1 212.5 25.2 207.0 21.4 201.3 17.8 195.4 14.5 189.2 11.3 183.0 8.1 176.6 4.9 170.0 1.9 163.3 -0.9 156.3 -3.5 149.2Z" fill="#000098"/>
<path d="M-3.6 141.8 -5.5 134.4 -7.1 126.7 -8.6 118.9 -9.8 111.0 -10.1 103.0 -9.2 95.1 -7.4 87.4 -4.9 80.0 -1.8 72.7 1.9 65.8 6.5 59.3 11.6 53.2 17.0 47.5 22.5 42.0 27.9 36.6 33.3 31.3 38.9 26.2 44.7 21.5 50.7 17.0 56.7 12.7 62.9 8.8 69.5 5.4 76.4 2.7 83.3 0.3 90.2 -1.8 97.2 -3.5 104.2 -4.9 111.3 -5.8 118.3 -6.4 125.2 -6.6 132.1 -6.6 138.9 -6.2 145.6 -5.6 152.2 -4.7 158.6 -3.7 165.0 -2.8 171.3 -1.9 177.5 -0.9 183.6 0.2 189.7 1.6 195.8 3.0 201.7 4.7 207.7 6.5 213.6 8.3 219.5 10.1 225.5 12.0 231.4 14.2 237.2 16.8 242.8 19.7 248.2 22.9 253.5 26.5 258.5 30.3 263.4 34.5 268.0 38.8 272.6 43.2 277.2 47.6 282.1 52.0 287.1 56.3 292.1 60.8 297.1 65.5 302.2 70.4 307.4 75.4 312.8 80.6 318.3 86.0 324.1 91.6 330.0 97.6 335.9 103.9 342.1 110.6 347.1 117.8 346.7 125.9 341.2 134.1 335.2 141.8 330.1 149.0 325.3 155.8 320.7 162.3 316.2 168.5 311.7 174.3 307.2 179.9 302.7 185.2 298.2 190.3 293.9 195.2 289.7 199.9 285.3 204.4 280.8 208.7 276.1 212.6 271.5 216.4 267.0 220.1 262.4 223.5 258.0 227.0 253.7 230.5 249.7 234.2 245.6 237.8 241.3 241.3 237.0 244.6 232.5 247.8 228.1 251.0 223.7 254.5 219.3 258.2 214.7 261.8 210.0 265.4 205.0 268.8 199.9 272.2 194.6 275.4 189.1 278.4 183.3 281.1 177.4 283.6 171.3 285.6 165.0 287.2 158.6 288.4 152.1 289.2 145.5 289.8 138.9 290.0 132.2 289.9 125.5 289.2 118.9 288.0 112.4 286.2 106.1 283.9 100.0 281.3 94.0 278.2 88.3 274.7 82.9 270.7 77.7 266.5 72.8 262.0 68.1 257.3 63.6 252.5 59.1 247.7 54.8 242.8 50.6 237.8 46.5 232.7 42.7 227.5 38.8 222.2 34.8 217.0 30.8 211.6 26.9 206.2 23.2 200.5 19.7 194.7 16.4 188.6 13.2 182.5 10.0 176.2 6.9 169.7 4.0 163.0 1.2 156.1 -1.4 149.1Z" fill="#000099"/>
<path d="M-1.5 141.8 -3.3 134.4 -4.9 126.9 -6.4 119.2 -7.6 111.4 -7.8 103.5 -7.0 95.7 -5.2 88.1 -2.7 80.7 0.3 73.6 4.0 66.7 8.5 60.3 13.6 54.4 18.9 48.7 24.3 43.3 29.7 38.0 35.0 32.7 40.5 27.7 46.2 23.0 52.1 18.6 58.1 14.4 64.2 10.5 70.7 7.2 77.5 4.4 84.3 2.1 91.2 0.0 98.1 -1.7 105.0 -3.0 111.9 -4.0 118.9 -4.5 125.7 -4.8 132.5 -4.7 139.2 -4.3 145.8 -3.7 152.3 -2.9 158.7 -1.9 165.0 -0.9 171.2 -0.1 177.3 0.9 183.4 2.0 189.4 3.3 195.4 4.8 201.3 6.4 207.1 8.2 213.0 10.0 218.8 11.8 224.7 13.7 230.6 15.9 236.2 18.4 241.8 21.3 247.2 24.4 252.4 27.9 257.3 31.8 262.1 35.8 266.7 40.1 271.2 44.5 275.8 48.8 280.6 53.1 285.5 57.4 290.5 61.9 295.4 66.5 300.5 71.3 305.6 76.2 310.9 81.4 316.4 86.7 322.1 92.3 327.9 98.2 333.7 104.4 339.9 111.0 344.8 118.1 344.4 126.1 338.9 134.2 333.0 141.8 328.0 148.9 323.3 155.6 318.7 162.0 314.3 168.1 309.9 173.9 305.4 179.4 300.9 184.7 296.5 189.7 292.3 194.5 288.1 199.2 283.8 203.6 279.3 207.8 274.7 211.7 270.2 215.5 265.7 219.1 261.2 222.5 256.8 225.9 252.6 229.4 248.6 233.0 244.5 236.6 240.4 240.0 236.1 243.3 231.7 246.4 227.3 249.6 222.9 253.1 218.6 256.7 214.1 260.3 209.4 263.8 204.5 267.2 199.5 270.5 194.2 273.7 188.8 276.6 183.1 279.3 177.2 281.8 171.2 283.8 165.0 285.4 158.7 286.5 152.3 287.4 145.8 287.9 139.2 288.2 132.6 288.0 126.0 287.4 119.5 286.1 113.1 284.4 106.9 282.1 100.8 279.5 94.9 276.5 89.3 273.0 83.9 269.1 78.8 264.9 73.9 260.5 69.3 255.9 64.8 251.1 60.5 246.3 56.2 241.5 52.0 236.6 48.0 231.5 44.2 226.4 40.4 221.2 36.5 216.0 32.5 210.8 28.7 205.4 25.0 199.8 21.5 194.0 18.3 188.0 15.2 182.0 12.0 175.7 8.9 169.3 6.0 162.7 3.2 156.0 0.7 149.0Z" fill="#00009a"/>
<path d="M0.7 141.8 -1.2 134.5 -2.8 127.1 -4.2 119.5 -5.3 111.8 -5.6 104.0 -4.8 96.3 -3.0 88.8 -0.6 81.5 2.4 74.5 6.1 67.7 10.5 61.4 15.5 55.5 20.7 49.9 26.1 44.5 31.4 39.3 36.7 34.1 42.1 29.2 47.8 24.6 53.6 20.2 59.4 16.0 65.5 12.2 71.9 8.9 78.6 6.2 85.4 3.9 92.1 1.9 99.0 0.2 105.8 -1.2 112.6 -2.1 119.5 -2.6 126.2 -2.9 132.9 -2.8 139.6 -2.4 146.1 -1.8 152.5 -1.0 158.8 -0.0 165.0 0.9 171.1 1.8 177.2 2.7 183.2 3.8 189.1 5.1 195.0 6.6 200.8 8.2 206.6 9.9 212.3 11.7 218.1 13.5 224.0 15.3 229.7 17.5 235.3 20.0 240.8 22.8 246.1 26.0 251.2 29.4 256.1 33.2 260.9 37.2 265.4 41.4 269.9 45.7 274.4 50.0 279.1 54.2 284.0 58.5 288.9 62.9 293.7 67.5 298.7 72.2 303.8 77.1 309.0 82.1 314.4 87.4 320.0 92.9 325.8 98.7 331.6 104.9 337.6 111.4 342.5 118.4 342.1 126.3 336.7 134.3 330.8 141.8 325.9 148.8 321.2 155.5 316.8 161.8 312.4 167.8 308.0 173.5 303.6 178.9 299.2 184.1 294.8 189.1 290.6 193.8 286.5 198.5 282.3 202.8 277.8 207.0 273.3 210.8 268.8 214.5 264.4 218.1 259.9 221.5 255.6 224.8 251.5 228.3 247.5 231.8 243.5 235.4 239.4 238.8 235.1 242.0 230.8 245.1 226.5 248.3 222.2 251.6 217.9 255.2 213.5 258.8 208.8 262.2 204.0 265.6 199.0 268.8 193.9 272.0 188.5 274.9 182.9 277.6 177.1 279.9 171.1 282.0 165.0 283.5 158.8 284.7 152.4 285.5 146.0 286.0 139.5 286.3 133.0 286.1 126.5 285.5 120.1 284.3 113.8 282.5 107.6 280.3 101.6 277.7 95.8 274.7 90.2 271.3 85.0 267.4 79.9 263.3 75.1 258.9 70.5 254.4 66.1 249.7 61.8 245.0 57.6 240.2 53.5 235.4 49.5 230.4 45.8 225.3 42.0 220.2 38.1 215.0 34.2 209.9 30.4 204.5 26.8 199.1 23.4 193.3 20.2 187.5 17.1 181.4 14.0 175.3 11.0 169.0 8.1 162.5 5.3 155.8 2.8 148.9Z" fill="#00009b"/>
<path d="M2.8 141.8 1.0 134.6 -0.6 127.3 -2.0 119.8 -3.1 112.2 -3.4 104.5 -2.5 96.9 -0.8 89.5 1.6 82.3 4.5 75.3 8.1 68.7 12.5 62.4 17.5 56.6 22.6 51.1 27.9 45.8 33.2 40.6 38.4 35.5 43.7 30.6 49.3 26.1 55.0 21.8 60.8 17.6 66.8 13.9 73.2 10.6 79.7 8.0 86.4 5.7 93.1 3.7 99.8 2.0 106.6 0.7 113.3 -0.2 120.1 -0.8 126.7 -1.0 133.4 -0.9 139.9 -0.6 146.3 0.0 152.7 0.9 158.9 1.8 165.0 2.7 171.0 3.6 177.0 4.5 182.9 5.6 188.8 6.9 194.6 8.3 200.3 9.9 206.0 11.7 211.7 13.4 217.5 15.2 223.2 17.0 228.9 19.1 234.4 21.6 239.8 24.4 245.1 27.5 250.1 30.9 255.0 34.6 259.6 38.5 264.1 42.7 268.5 47.0 273.0 51.2 277.6 55.4 282.4 59.6 287.2 63.9 292.1 68.4 297.0 73.1 302.0 77.9 307.1 82.9 312.5 88.1 318.0 93.6 323.7 99.3 329.4 105.4 335.4 111.8 340.1 118.7 339.7 126.5 334.4 134.4 328.7 141.8 323.8 148.7 319.2 155.3 314.8 161.5 310.4 167.4 306.1 173.1 301.8 178.5 297.4 183.6 293.1 188.4 289.0 193.2 284.9 197.7 280.7 202.0 276.4 206.1 271.9 209.9 267.5 213.6 263.1 217.1 258.7 220.4 254.4 223.7 250.4 227.2 246.4 230.7 242.5 234.1 238.4 237.5 234.2 240.7 229.9 243.7 225.7 246.9 221.4 250.2 217.2 253.7 212.8 257.3 208.3 260.7 203.5 264.0 198.6 267.2 193.5 270.3 188.2 273.1 182.6 275.8 176.9 278.1 171.0 280.1 165.0 281.7 158.8 282.8 152.6 283.6 146.3 284.1 139.9 284.4 133.4 284.2 127.0 283.6 120.7 282.4 114.4 280.7 108.4 278.5 102.5 275.9 96.7 273.0 91.2 269.6 86.0 265.8 81.0 261.7 76.3 257.4 71.8 252.9 67.4 248.3 63.2 243.6 59.0 238.9 54.9 234.2 51.0 229.2 47.3 224.2 43.6 219.1 39.8 214.1 36.0 209.0 32.2 203.7 28.6 198.3 25.2 192.7 22.1 186.9 19.0 180.9 15.9 174.8 13.0 168.6 10.1 162.2 7.4 155.6 4.9 148.8Z" fill="#00009d"/>
<path d="M4.9 141.8 3.2 134.7 1.6 127.5 0.2 120.1 -0.9 112.5 -1.1 105.0 -0.3 97.5 1.4 90.2 3.7 83.1 6.7 76.2 10.2 69.6 14.6 63.5 19.4 57.7 24.5 52.3 29.7 47.1 34.9 42.0 40.0 36.9 45.3 32.1 50.8 27.6 56.5 23.4 62.2 19.3 68.1 15.5 74.4 12.4 80.9 9.7 87.5 7.5 94.0 5.5 100.7 3.9 107.3 2.6 114.0 1.7 120.6 1.1 127.2 0.9 133.8 1.0 140.2 1.3 146.6 1.9 152.8 2.7 159.0 3.7 165.0 4.6 171.0 5.4 176.9 6.3 182.7 7.4 188.5 8.7 194.2 10.1 199.9 11.7 205.5 13.4 211.1 15.1 216.8 16.8 222.4 18.6 228.0 20.7 233.5 23.2 238.8 25.9 244.0 29.0 249.0 32.3 253.8 36.0 258.4 39.9 262.8 44.0 267.1 48.2 271.5 52.4 276.1 56.5 280.9 60.7 285.6 65.0 290.4 69.4 295.2 74.0 300.2 78.8 305.3 83.7 310.5 88.8 316.0 94.2 321.6 99.8 327.2 105.8 333.1 112.2 337.8 119.0 337.4 126.7 332.2 134.5 326.5 141.8 321.7 148.6 317.2 155.1 312.8 161.3 308.5 167.1 304.3 172.7 300.0 178.0 295.7 183.0 291.5 187.8 287.4 192.5 283.3 197.0 279.2 201.3 274.9 205.3 270.5 209.0 266.1 212.6 261.8 216.1 257.5 219.4 253.2 222.7 249.2 226.0 245.4 229.5 241.5 232.9 237.5 236.2 233.3 239.4 229.1 242.4 224.9 245.5 220.7 248.8 216.5 252.2 212.2 255.7 207.7 259.1 203.0 262.3 198.2 265.5 193.1 268.6 187.9 271.4 182.4 274.0 176.8 276.3 171.0 278.3 165.0 279.8 158.9 281.0 152.8 281.7 146.5 282.3 140.2 282.5 133.8 282.4 127.5 281.7 121.3 280.6 115.1 278.9 109.1 276.7 103.3 274.2 97.6 271.2 92.2 267.9 87.1 264.2 82.2 260.1 77.5 255.9 73.0 251.4 68.7 246.9 64.5 242.3 60.4 237.7 56.4 232.9 52.6 228.1 48.9 223.1 45.2 218.1 41.5 213.1 37.7 208.1 34.0 202.9 30.4 197.6 27.1 192.0 24.0 186.3 20.9 180.4 17.9 174.4 15.0 168.3 12.2 161.9 9.5 155.4 7.1 148.7Z" fill="#00009e"/>
<path d="M7.1 141.8 5.3 134.8 3.8 127.7 2.4 120.4 1.3 112.9 1.1 105.5 1.9 98.1 3.6 90.9 5.9 83.9 8.8 77.1 12.3 70.6 16.6 64.5 21.4 58.9 26.4 53.5 31.5 48.4 36.7 43.3 41.7 38.4 46.9 33.6 52.4 29.2 57.9 25.0 63.6 20.9 69.4 17.2 75.6 14.1 82.0 11.5 88.5 9.3 95.0 7.3 101.5 5.7 108.1 4.4 114.7 3.6 121.2 3.0 127.8 2.8 134.2 2.9 140.6 3.2 146.8 3.8 153.0 4.6 159.0 5.5 165.0 6.4 170.9 7.2 176.7 8.1 182.5 9.2 188.2 10.5 193.8 11.9 199.4 13.4 205.0 15.1 210.5 16.8 216.1 18.5 221.7 20.3 227.2 22.4 232.6 24.8 237.8 27.5 242.9 30.5 247.9 33.8 252.6 37.4 257.1 41.3 261.5 45.3 265.8 49.5 270.1 53.6 274.6 57.7 279.3 61.8 284.0 66.0 288.7 70.4 293.5 74.9 298.4 79.6 303.4 84.5 308.6 89.5 314.0 94.8 319.5 100.4 325.0 106.3 330.9 112.6 335.5 119.4 335.1 126.9 330.0 134.6 324.3 141.8 319.6 148.5 315.1 154.9 310.8 161.0 306.6 166.8 302.4 172.3 298.2 177.5 293.9 182.4 289.8 187.2 285.7 191.8 281.7 196.2 277.7 200.5 273.4 204.4 269.1 208.1 264.8 211.7 260.5 215.1 256.2 218.3 252.1 221.6 248.1 224.9 244.3 228.3 240.4 231.7 236.5 235.0 232.4 238.1 228.2 241.0 224.1 244.1 219.9 247.3 215.8 250.8 211.6 254.2 207.1 257.5 202.5 260.7 197.7 263.9 192.7 266.9 187.5 269.7 182.2 272.2 176.6 274.5 170.9 276.5 165.0 278.0 159.0 279.1 152.9 279.9 146.8 280.4 140.5 280.6 134.3 280.5 128.0 279.9 121.8 278.7 115.8 277.0 109.9 274.9 104.1 272.4 98.5 269.5 93.2 266.2 88.1 262.5 83.3 258.5 78.6 254.4 74.2 250.0 70.0 245.5 65.9 240.9 61.8 236.4 57.8 231.7 54.1 226.9 50.4 222.0 46.8 217.1 43.1 212.2 39.4 207.2 35.7 202.1 32.2 196.8 28.9 191.3 25.9 185.7 22.9 179.9 19.9 174.0 17.0 167.9 14.2 161.7 11.6 155.2 9.2 148.6Z" fill="#0000a0"/>
<path d="M9.2 141.8 7.5 134.9 6.0 127.9 4.6 120.7 3.6 113.3 3.3 106.0 4.1 98.7 5.8 91.6 8.1 84.7 10.9 78.0 14.4 71.6 18.6 65.6 23.3 60.0 28.3 54.7 33.4 49.6 38.4 44.7 43.4 39.8 48.5 35.1 53.9 30.7 59.4 26.5 64.9 22.6 70.7 18.9 76.8 15.8 83.1 13.3 89.5 11.1 96.0 9.2 102.4 7.6 108.9 6.3 115.4 5.4 121.8 4.9 128.3 4.7 134.6 4.8 140.9 5.1 147.1 5.7 153.2 6.5 159.1 7.4 165.0 8.2 170.8 9.1 176.5 10.0 182.2 11.0 187.8 12.3 193.4 13.6 198.9 15.1 204.4 16.8 209.9 18.5 215.4 20.2 220.9 21.9 226.3 24.0 231.7 26.4 236.8 29.0 241.9 32.0 246.7 35.3 251.4 38.8 255.9 42.6 260.2 46.6 264.4 50.7 268.7 54.8 273.1 58.8 277.8 62.8 282.4 67.0 287.0 71.3 291.7 75.8 296.6 80.5 301.5 85.3 306.6 90.3 311.9 95.5 317.4 101.0 322.9 106.8 328.6 112.9 333.2 119.7 332.8 127.1 327.7 134.7 322.2 141.8 317.5 148.5 313.1 154.8 308.8 160.7 304.7 166.4 300.5 171.8 296.4 177.0 292.2 181.9 288.1 186.6 284.1 191.1 280.2 195.5 276.1 199.7 272.0 203.5 267.7 207.2 263.4 210.7 259.2 214.1 255.0 217.3 250.9 220.5 247.0 223.8 243.2 227.1 239.4 230.5 235.5 233.7 231.5 236.7 227.4 239.7 223.3 242.7 219.2 245.9 215.1 249.3 210.9 252.7 206.5 255.9 202.0 259.1 197.3 262.2 192.4 265.2 187.2 267.9 181.9 270.5 176.5 272.7 170.8 274.6 165.0 276.1 159.1 277.2 153.1 278.0 147.0 278.5 140.9 278.7 134.7 278.6 128.5 278.0 122.4 276.8 116.4 275.2 110.6 273.1 104.9 270.6 99.4 267.8 94.1 264.5 89.1 260.9 84.4 256.9 79.8 252.8 75.5 248.5 71.3 244.1 67.2 239.6 63.2 235.1 59.3 230.5 55.6 225.8 52.0 220.9 48.4 216.1 44.8 211.2 41.1 206.3 37.5 201.3 34.0 196.1 30.8 190.7 27.8 185.1 24.8 179.4 21.9 173.5 19.0 167.5 16.3 161.4 13.7 155.0 11.3 148.5Z" fill="#0000a2"/>
<path d="M11.4 141.8 9.7 135.0 8.2 128.1 6.9 121.0 5.8 113.7 5.5 106.4 6.3 99.3 7.9 92.3 10.2 85.5 13.0 78.9 16.4 72.5 20.6 66.6 25.3 61.1 30.2 55.9 35.2 50.9 40.1 46.0 45.1 41.2 50.1 36.5 55.4 32.2 60.8 28.1 66.3 24.2 72.0 20.6 78.0 17.6 84.3 15.1 90.6 12.9 96.9 11.0 103.3 9.4 109.6 8.2 116.0 7.3 122.4 6.8 128.8 6.6 135.0 6.6 141.2 7.0 147.3 7.5 153.3 8.3 159.2 9.2 165.0 10.1 170.7 10.9 176.4 11.8 182.0 12.8 187.5 14.1 193.0 15.4 198.5 16.9 203.9 18.5 209.3 20.2 214.7 21.9 220.1 23.6 225.5 25.6 230.7 27.9 235.9 30.6 240.8 33.5 245.6 36.8 250.2 40.3 254.6 44.0 258.9 47.9 263.0 52.0 267.3 56.0 271.7 60.0 276.2 63.9 280.8 68.0 285.3 72.3 290.0 76.7 294.7 81.3 299.6 86.0 304.7 91.0 309.9 96.1 315.3 101.5 320.7 107.3 326.4 113.3 330.9 120.0 330.5 127.3 325.5 134.8 320.0 141.8 315.4 148.4 311.0 154.6 306.9 160.5 302.7 166.1 298.7 171.4 294.6 176.5 290.4 181.3 286.4 186.0 282.4 190.4 278.6 194.8 274.6 198.9 270.5 202.7 266.2 206.3 262.1 209.8 257.9 213.1 253.7 216.3 249.7 219.4 245.8 222.6 242.1 226.0 238.4 229.3 234.5 232.4 230.6 235.4 226.5 238.3 222.5 241.3 218.4 244.5 214.4 247.8 210.3 251.1 206.0 254.4 201.5 257.5 196.8 260.6 192.0 263.5 186.9 266.2 181.7 268.7 176.3 270.9 170.7 272.8 165.0 274.3 159.2 275.4 153.2 276.1 147.3 276.6 141.2 276.8 135.1 276.7 129.0 276.1 123.0 275.0 117.1 273.4 111.4 271.3 105.8 268.8 100.3 266.0 95.1 262.8 90.2 259.2 85.5 255.4 81.0 251.3 76.7 247.0 72.6 242.6 68.6 238.2 64.6 233.8 60.7 229.3 57.1 224.6 53.6 219.8 50.0 215.0 46.4 210.3 42.8 205.4 39.2 200.5 35.8 195.3 32.6 190.0 29.7 184.5 26.7 178.8 23.8 173.1 21.0 167.2 18.3 161.1 15.7 154.9 13.4 148.4Z" fill="#0000a4"/>
<path d="M13.5 141.8 11.8 135.1 10.4 128.3 9.1 121.3 8.0 114.1 7.8 106.9 8.5 99.9 10.1 93.0 12.4 86.3 15.2 79.7 18.5 73.5 22.6 67.7 27.2 62.2 32.0 57.1 37.0 52.2 41.9 47.3 46.7 42.6 51.7 38.0 56.9 33.7 62.3 29.7 67.7 25.8 73.3 22.3 79.2 19.3 85.4 16.8 91.6 14.7 97.9 12.8 104.1 11.3 110.4 10.0 116.7 9.2 123.0 8.7 129.3 8.5 135.5 8.5 141.6 8.9 147.6 9.4 153.5 10.2 159.3 11.1 165.0 11.9 170.6 12.7 176.2 13.6 181.7 14.6 187.2 15.8 192.6 17.2 198.0 18.6 203.3 20.3 208.6 21.9 214.0 23.5 219.3 25.2 224.6 27.2 229.8 29.5 234.9 32.1 239.8 35.0 244.5 38.2 249.0 41.7 253.4 45.4 257.6 49.2 261.7 53.2 265.8 57.2 270.2 61.1 274.6 65.0 279.2 69.1 283.7 73.3 288.2 77.6 292.9 82.1 297.7 86.8 302.7 91.7 307.9 96.7 313.2 102.1 318.5 107.8 324.1 113.7 328.6 120.3 328.2 127.5 323.2 134.9 317.8 141.8 313.3 148.3 309.0 154.4 304.9 160.2 300.8 165.7 296.8 171.0 292.7 176.0 288.7 180.8 284.7 185.4 280.8 189.8 277.0 194.0 273.1 198.1 269.0 201.8 264.8 205.4 260.7 208.8 256.6 212.1 252.5 215.2 248.5 218.3 244.7 221.5 241.1 224.8 237.4 228.0 233.6 231.2 229.7 234.1 225.6 237.0 221.6 239.9 217.7 243.0 213.7 246.3 209.7 249.6 205.4 252.8 201.0 255.9 196.4 258.9 191.6 261.8 186.6 264.5 181.5 266.9 176.1 269.1 170.6 271.0 165.0 272.4 159.3 273.5 153.4 274.2 147.5 274.7 141.5 275.0 135.5 274.8 129.5 274.2 123.6 273.1 117.8 271.5 112.1 269.5 106.6 267.1 101.2 264.3 96.1 261.1 91.2 257.6 86.6 253.8 82.2 249.8 77.9 245.6 73.9 241.2 69.9 236.9 66.0 232.5 62.2 228.1 58.6 223.5 55.1 218.7 51.6 214.0 48.1 209.3 44.5 204.5 41.0 199.6 37.6 194.6 34.5 189.3 31.6 183.9 28.7 178.3 25.8 172.7 23.0 166.8 20.4 160.8 17.8 154.7 15.5 148.3Z" fill="#0000a6"/>
<path d="M15.7 141.8 14.0 135.2 12.6 128.5 11.3 121.6 10.2 114.5 10.0 107.4 10.8 100.5 12.3 93.7 14.6 87.0 17.3 80.6 20.6 74.5 24.6 68.7 29.2 63.4 33.9 58.3 38.8 53.4 43.6 48.7 48.4 44.0 53.3 39.5 58.5 35.3 63.8 31.3 69.1 27.5 74.6 24.0 80.5 21.1 86.5 18.6 92.6 16.5 98.8 14.6 105.0 13.1 111.2 11.9 117.4 11.1 123.6 10.6 129.8 10.3 135.9 10.4 141.9 10.7 147.8 11.3 153.6 12.0 159.4 12.9 165.0 13.8 170.6 14.6 176.1 15.4 181.5 16.4 186.9 17.6 192.2 18.9 197.5 20.4 202.8 22.0 208.0 23.6 213.3 25.2 218.6 26.9 223.8 28.8 228.9 31.1 233.9 33.7 238.7 36.5 243.4 39.7 247.8 43.1 252.1 46.7 256.2 50.6 260.3 54.5 264.4 58.4 268.7 62.2 273.1 66.1 277.5 70.1 282.0 74.3 286.5 78.6 291.1 83.0 295.9 87.6 300.8 92.4 305.9 97.4 311.1 102.7 316.4 108.2 321.9 114.1 326.2 120.6 325.9 127.7 321.0 135.0 315.7 141.8 311.2 148.2 307.0 154.2 302.9 160.0 298.9 165.4 294.9 170.6 290.9 175.5 286.9 180.2 283.0 184.7 279.2 189.1 275.4 193.3 271.6 197.3 267.5 201.0 263.4 204.5 259.4 207.9 255.3 211.1 251.3 214.2 247.3 217.2 243.6 220.4 240.0 223.6 236.3 226.8 232.6 229.9 228.7 232.8 224.8 235.7 220.8 238.5 217.0 241.6 213.1 244.8 209.0 248.1 204.8 251.2 200.5 254.3 195.9 257.2 191.2 260.1 186.3 262.7 181.2 265.2 176.0 267.3 170.6 269.2 165.0 270.6 159.3 271.6 153.6 272.4 147.7 272.9 141.9 273.1 135.9 272.9 130.0 272.4 124.2 271.3 118.5 269.7 112.9 267.7 107.4 265.3 102.1 262.6 97.1 259.5 92.3 256.0 87.7 252.2 83.3 248.2 79.2 244.1 75.2 239.8 71.3 235.5 67.4 231.2 63.7 226.8 60.1 222.3 56.7 217.7 53.3 213.0 49.7 208.3 46.2 203.6 42.7 198.8 39.4 193.8 36.3 188.6 33.4 183.3 30.6 177.8 27.8 172.2 25.0 166.5 22.4 160.6 19.9 154.5 17.6 148.2Z" fill="#0000a9"/>
<path d="M17.8 141.8 16.2 135.3 14.8 128.7 13.5 121.9 12.5 114.9 12.2 107.9 13.0 101.1 14.5 94.4 16.7 87.8 19.4 81.5 22.7 75.4 26.6 69.8 31.1 64.5 35.8 59.5 40.6 54.7 45.4 50.0 50.1 45.4 54.9 40.9 60.0 36.8 65.2 32.9 70.5 29.1 75.9 25.7 81.7 22.8 87.6 20.4 93.7 18.3 99.8 16.5 105.8 14.9 112.0 13.8 118.1 12.9 124.2 12.4 130.3 12.2 136.3 12.3 142.2 12.6 148.1 13.2 153.8 13.9 159.5 14.8 165.0 15.6 170.5 16.4 175.9 17.2 181.3 18.2 186.6 19.4 191.8 20.7 197.1 22.1 202.2 23.7 207.4 25.3 212.6 26.9 217.8 28.5 223.0 30.5 228.0 32.7 232.9 35.2 237.6 38.1 242.2 41.2 246.6 44.5 250.9 48.1 254.9 51.9 258.9 55.7 263.0 59.6 267.2 63.4 271.5 67.2 275.9 71.1 280.3 75.2 284.7 79.5 289.3 83.8 294.0 88.4 298.8 93.1 303.9 98.0 309.0 103.2 314.2 108.7 319.6 114.5 323.9 120.9 323.6 127.9 318.7 135.1 313.5 141.8 309.1 148.1 304.9 154.0 300.9 159.7 297.0 165.1 293.1 170.2 289.1 175.1 285.2 179.7 281.3 184.1 277.5 188.4 273.8 192.5 270.0 196.5 266.1 200.1 262.0 203.6 258.0 206.9 254.0 210.1 250.0 213.1 246.1 216.2 242.5 219.3 238.9 222.4 235.3 225.6 231.6 228.6 227.8 231.5 223.9 234.3 220.0 237.1 216.2 240.2 212.4 243.4 208.4 246.6 204.3 249.7 199.9 252.6 195.5 255.6 190.8 258.4 186.0 261.0 181.0 263.4 175.8 265.5 170.5 267.3 165.0 268.7 159.4 269.8 153.7 270.5 148.0 271.0 142.2 271.2 136.3 271.1 130.5 270.5 124.8 269.4 119.1 267.8 113.6 265.9 108.2 263.5 103.0 260.8 98.0 257.8 93.3 254.3 88.8 250.6 84.5 246.7 80.4 242.6 76.5 238.4 72.6 234.2 68.8 230.0 65.1 225.6 61.6 221.1 58.2 216.6 54.9 212.0 51.4 207.4 47.9 202.8 44.5 198.0 41.2 193.1 38.2 188.0 35.3 182.7 32.5 177.3 29.7 171.8 27.0 166.1 24.5 160.3 22.0 154.3 19.8 148.1Z" fill="#0000ac"/>
<path d="M20.0 141.8 18.3 135.4 17.0 128.8 15.7 122.1 14.7 115.3 14.4 108.4 15.2 101.7 16.7 95.0 18.9 88.6 21.5 82.4 24.7 76.4 28.7 70.8 33.1 65.6 37.7 60.7 42.4 56.0 47.1 51.3 51.8 46.8 56.5 42.4 61.5 38.3 66.7 34.5 71.8 30.8 77.2 27.4 82.9 24.5 88.8 22.1 94.7 20.1 100.7 18.3 106.7 16.8 112.7 15.6 118.8 14.8 124.8 14.3 130.8 14.1 136.7 14.2 142.6 14.5 148.3 15.0 154.0 15.8 159.5 16.6 165.0 17.4 170.4 18.2 175.7 19.0 181.0 20.0 186.3 21.2 191.5 22.5 196.6 23.9 201.7 25.4 206.8 27.0 211.9 28.6 217.0 30.2 222.1 32.1 227.1 34.3 231.9 36.8 236.6 39.6 241.1 42.6 245.4 45.9 249.6 49.5 253.6 53.2 257.6 57.0 261.5 60.8 265.7 64.5 270.0 68.3 274.3 72.2 278.6 76.2 283.0 80.4 287.5 84.7 292.1 89.2 296.9 93.8 301.8 98.7 306.9 103.8 312.0 109.2 317.4 114.9 321.6 121.2 321.3 128.1 316.5 135.2 311.4 141.8 307.0 148.0 302.9 153.9 298.9 159.4 295.1 164.7 291.2 169.8 287.3 174.6 283.4 179.1 279.6 183.5 275.9 187.7 272.2 191.8 268.5 195.7 264.6 199.3 260.6 202.7 256.6 206.0 252.7 209.1 248.8 212.1 245.0 215.1 241.3 218.1 237.8 221.3 234.3 224.4 230.7 227.4 226.9 230.2 223.1 233.0 219.2 235.7 215.5 238.7 211.7 241.9 207.8 245.0 203.7 248.1 199.4 251.0 195.0 253.9 190.5 256.7 185.7 259.3 180.8 261.6 175.7 263.7 170.4 265.5 165.0 266.9 159.5 267.9 153.9 268.6 148.2 269.1 142.5 269.3 136.8 269.2 131.0 268.6 125.4 267.5 119.8 266.0 114.4 264.1 109.1 261.7 103.9 259.1 99.0 256.1 94.4 252.7 89.9 249.0 85.7 245.2 81.6 241.2 77.7 237.0 74.0 232.8 70.2 228.7 66.6 224.4 63.1 220.0 59.8 215.5 56.5 210.9 53.0 206.4 49.6 201.9 46.2 197.2 43.0 192.3 40.0 187.3 37.2 182.1 34.5 176.8 31.7 171.3 29.1 165.8 26.5 160.0 24.1 154.1 21.9 148.0Z" fill="#0000af"/>
<path d="M22.1 141.8 20.5 135.5 19.1 129.0 17.9 122.4 16.9 115.7 16.7 108.9 17.4 102.3 18.9 95.7 21.0 89.4 23.6 83.2 26.8 77.4 30.7 71.9 35.0 66.8 39.6 61.9 44.2 57.2 48.9 52.7 53.4 48.2 58.1 43.9 63.1 39.9 68.1 36.1 73.2 32.4 78.5 29.1 84.1 26.3 89.9 23.9 95.8 21.9 101.7 20.1 107.6 18.6 113.5 17.5 119.5 16.7 125.4 16.2 131.3 16.0 137.1 16.1 142.9 16.4 148.6 16.9 154.1 17.6 159.6 18.5 165.0 19.3 170.3 20.0 175.6 20.9 180.8 21.8 186.0 23.0 191.1 24.2 196.1 25.6 201.2 27.1 206.2 28.7 211.2 30.2 216.3 31.8 221.3 33.7 226.1 35.9 230.9 38.3 235.5 41.1 240.0 44.1 244.3 47.4 248.4 50.8 252.3 54.5 256.2 58.2 260.1 62.0 264.2 65.7 268.4 69.4 272.7 73.2 276.9 77.2 281.3 81.3 285.7 85.5 290.2 89.9 294.9 94.5 299.8 99.3 304.8 104.3 309.8 109.7 315.1 115.3 319.3 121.5 318.9 128.3 314.3 135.3 309.2 141.8 304.9 147.9 300.8 153.7 296.9 159.2 293.1 164.4 289.3 169.4 285.5 174.1 281.7 178.6 277.9 182.9 274.2 187.1 270.6 191.1 267.0 194.9 263.1 198.4 259.2 201.8 255.3 205.0 251.4 208.1 247.5 211.1 243.8 214.0 240.2 217.0 236.7 220.1 233.3 223.2 229.7 226.1 226.0 228.9 222.2 231.6 218.4 234.4 214.7 237.3 211.0 240.4 207.1 243.5 203.1 246.5 198.9 249.4 194.6 252.3 190.1 255.0 185.4 257.5 180.5 259.8 175.5 261.9 170.3 263.7 165.0 265.0 159.6 266.0 154.1 266.7 148.5 267.2 142.9 267.4 137.2 267.3 131.5 266.7 125.9 265.7 120.5 264.2 115.1 262.3 109.9 260.0 104.8 257.4 100.0 254.4 95.4 251.0 91.0 247.4 86.8 243.7 82.9 239.7 79.0 235.6 75.3 231.5 71.6 227.4 68.0 223.2 64.6 218.8 61.3 214.4 58.1 209.9 54.7 205.5 51.3 201.0 48.0 196.4 44.8 191.6 41.9 186.6 39.1 181.5 36.4 176.3 33.7 170.9 31.1 165.4 28.6 159.8 26.2 153.9 24.0 148.0Z" fill="#0000b2"/>
<path d="M24.3 141.8 22.7 135.6 21.3 129.2 20.1 122.7 19.1 116.1 18.9 109.4 19.6 102.8 21.1 96.4 23.2 90.2 25.8 84.1 28.9 78.3 32.7 72.9 37.0 67.9 41.5 63.1 46.0 58.5 50.6 54.0 55.1 49.6 59.7 45.3 64.6 41.4 69.6 37.7 74.6 34.1 79.8 30.8 85.3 28.0 91.0 25.7 96.8 23.7 102.6 21.9 108.4 20.5 114.3 19.4 120.1 18.6 126.0 18.1 131.8 17.9 137.5 18.0 143.2 18.3 148.8 18.8 154.3 19.5 159.7 20.3 165.0 21.1 170.2 21.9 175.4 22.7 180.6 23.6 185.6 24.8 190.7 26.0 195.7 27.4 200.6 28.9 205.5 30.4 210.5 31.9 215.5 33.5 220.4 35.3 225.2 37.5 229.9 39.9 234.5 42.6 238.9 45.6 243.1 48.8 247.1 52.2 251.0 55.8 254.8 59.5 258.7 63.2 262.7 66.8 266.9 70.5 271.1 74.2 275.3 78.1 279.5 82.2 283.9 86.4 288.3 90.7 293.0 95.2 297.8 99.9 302.7 104.9 307.7 110.2 312.9 115.7 317.0 121.8 316.6 128.5 312.0 135.4 307.0 141.8 302.8 147.8 298.8 153.5 295.0 158.9 291.2 164.1 287.5 169.0 283.7 173.6 279.9 178.0 276.2 182.3 272.6 186.4 269.1 190.3 265.4 194.1 261.6 197.6 257.8 200.9 253.9 204.1 250.1 207.1 246.3 210.0 242.6 212.9 239.1 215.9 235.7 218.9 232.2 221.9 228.7 224.8 225.1 227.6 221.4 230.3 217.6 233.0 214.0 235.9 210.3 238.9 206.5 242.0 202.5 244.9 198.4 247.8 194.2 250.6 189.7 253.3 185.1 255.8 180.3 258.1 175.4 260.1 170.2 261.8 165.0 263.2 159.7 264.2 154.2 264.9 148.7 265.3 143.2 265.5 137.6 265.4 132.0 264.9 126.5 263.8 121.1 262.3 115.9 260.4 110.7 258.2 105.7 255.6 101.0 252.7 96.5 249.4 92.1 245.8 88.0 242.1 84.1 238.2 80.3 234.2 76.6 230.2 73.0 226.1 69.5 221.9 66.1 217.7 62.9 213.3 59.7 208.9 56.4 204.5 53.0 200.1 49.8 195.5 46.6 190.8 43.7 185.9 41.0 180.9 38.3 175.7 35.7 170.5 33.1 165.1 30.6 159.5 28.3 153.8 26.1 147.9Z" fill="#0000b6"/>
<path d="M26.4 141.8 24.8 135.7 23.5 129.4 22.3 123.0 21.3 116.5 21.1 109.9 21.8 103.4 23.3 97.1 25.4 91.0 27.9 85.0 31.0 79.3 34.7 74.0 38.9 69.0 43.3 64.3 47.9 59.8 52.3 55.4 56.8 51.0 61.3 46.8 66.1 42.9 71.0 39.2 76.0 35.7 81.1 32.5 86.5 29.7 92.1 27.4 97.8 25.5 103.6 23.8 109.3 22.3 115.1 21.2 120.8 20.5 126.6 20.0 132.3 19.8 138.0 19.9 143.6 20.2 149.1 20.7 154.5 21.4 159.8 22.2 165.0 23.0 170.2 23.7 175.3 24.5 180.3 25.4 185.3 26.5 190.3 27.7 195.2 29.1 200.1 30.6 204.9 32.1 209.8 33.6 214.7 35.1 219.6 37.0 224.3 39.1 228.9 41.5 233.4 44.1 237.7 47.0 241.9 50.2 245.8 53.6 249.7 57.1 253.4 60.8 257.3 64.4 261.2 68.0 265.3 71.5 269.5 75.2 273.6 79.1 277.8 83.1 282.1 87.2 286.5 91.5 291.0 95.9 295.8 100.6 300.6 105.5 305.5 110.7 310.6 116.1 314.7 122.1 314.3 128.7 309.8 135.5 304.9 141.8 300.7 147.7 296.8 153.3 293.0 158.6 289.3 163.7 285.6 168.5 281.9 173.1 278.2 177.5 274.5 181.7 271.0 185.7 267.5 189.6 263.9 193.3 260.2 196.7 256.4 200.0 252.6 203.1 248.8 206.1 245.1 209.0 241.4 211.8 237.9 214.7 234.6 217.7 231.2 220.7 227.7 223.6 224.2 226.3 220.5 228.9 216.8 231.6 213.2 234.4 209.6 237.4 205.9 240.5 202.0 243.4 197.9 246.2 193.7 248.9 189.3 251.6 184.8 254.0 180.1 256.3 175.2 258.3 170.2 260.0 165.0 261.3 159.7 262.3 154.4 263.0 149.0 263.4 143.5 263.6 138.0 263.5 132.5 263.0 127.1 262.0 121.8 260.5 116.6 258.6 111.5 256.4 106.6 253.9 101.9 251.0 97.5 247.8 93.3 244.3 89.2 240.6 85.3 236.8 81.6 232.8 78.0 228.8 74.4 224.8 70.9 220.7 67.6 216.5 64.4 212.2 61.3 207.9 58.0 203.6 54.7 199.2 51.5 194.7 48.4 190.1 45.6 185.3 42.9 180.3 40.3 175.2 37.6 170.0 35.1 164.7 32.6 159.2 30.3 153.6 28.2 147.8Z" fill="#0000bb"/>
<path d="M28.5 141.8 27.0 135.8 25.7 129.6 24.5 123.3 23.6 116.9 23.3 110.4 24.0 104.0 25.5 97.8 27.5 91.8 30.0 85.9 33.0 80.3 36.7 75.0 40.9 70.1 45.2 65.5 49.7 61.0 54.1 56.7 58.5 52.4 62.9 48.3 67.7 44.5 72.5 40.8 77.3 37.3 82.4 34.2 87.7 31.5 93.3 29.2 98.9 27.3 104.5 25.6 110.2 24.2 115.8 23.1 121.5 22.3 127.2 21.9 132.8 21.7 138.4 21.7 143.9 22.0 149.3 22.5 154.6 23.2 159.9 24.0 165.0 24.8 170.1 25.5 175.1 26.3 180.1 27.2 185.0 28.3 189.9 29.5 194.7 30.8 199.5 32.3 204.3 33.8 209.1 35.3 214.0 36.8 218.7 38.6 223.4 40.7 227.9 43.0 232.4 45.6 236.6 48.5 240.7 51.6 244.6 54.9 248.4 58.4 252.1 62.0 255.8 65.6 259.7 69.1 263.8 72.6 267.8 76.3 271.9 80.1 276.0 84.0 280.3 88.1 284.6 92.3 289.1 96.6 293.7 101.2 298.5 106.0 303.3 111.1 308.3 116.5 312.4 122.4 312.0 128.9 307.5 135.6 302.7 141.8 298.6 147.6 294.7 153.1 291.0 158.4 287.4 163.4 283.7 168.1 280.1 172.6 276.4 176.9 272.8 181.0 269.3 185.0 265.9 188.8 262.4 192.5 258.7 195.9 254.9 199.1 251.2 202.2 247.5 205.1 243.8 207.9 240.2 210.7 236.8 213.6 233.5 216.6 230.2 219.5 226.8 222.3 223.2 225.0 219.6 227.6 216.0 230.2 212.5 233.0 208.9 236.0 205.2 238.9 201.4 241.8 197.4 244.6 193.3 247.3 189.0 249.9 184.5 252.3 179.8 254.5 175.0 256.5 170.1 258.2 165.0 259.5 159.8 260.4 154.6 261.1 149.2 261.6 143.8 261.8 138.4 261.6 133.0 261.1 127.7 260.1 122.5 258.7 117.4 256.8 112.4 254.7 107.5 252.2 102.9 249.3 98.5 246.1 94.4 242.7 90.4 239.1 86.6 235.3 82.9 231.4 79.3 227.5 75.8 223.5 72.4 219.5 69.1 215.4 66.0 211.1 62.9 206.9 59.7 202.6 56.4 198.3 53.3 193.9 50.2 189.3 47.4 184.6 44.8 179.7 42.2 174.7 39.6 169.6 37.1 164.4 34.7 159.0 32.4 153.4 30.3 147.7Z" fill="#0000c0"/>
<path d="M30.7 141.8 29.2 135.9 27.9 129.8 26.7 123.6 25.8 117.3 25.6 110.9 26.3 104.6 27.7 98.5 29.7 92.5 32.1 86.8 35.1 81.2 38.7 76.1 42.8 71.3 47.1 66.7 51.5 62.3 55.8 58.0 60.1 53.8 64.6 49.8 69.2 46.0 73.9 42.4 78.7 39.0 83.7 35.8 89.0 33.2 94.4 31.0 99.9 29.1 105.5 27.4 111.0 26.0 116.6 25.0 122.2 24.2 127.8 23.8 133.3 23.6 138.8 23.6 144.2 23.9 149.5 24.4 154.8 25.1 159.9 25.9 165.0 26.6 170.0 27.3 174.9 28.1 179.8 29.0 184.7 30.1 189.5 31.3 194.3 32.6 199.0 34.0 203.7 35.5 208.4 36.9 213.2 38.5 217.9 40.2 222.5 42.3 226.9 44.6 231.3 47.1 235.5 50.0 239.5 53.0 243.3 56.3 247.1 59.7 250.7 63.3 254.4 66.8 258.3 70.2 262.2 73.7 266.2 77.3 270.2 81.1 274.3 84.9 278.4 88.9 282.7 93.0 287.1 97.4 291.7 101.8 296.4 106.6 301.1 111.6 306.1 116.9 310.0 122.7 309.7 129.1 305.3 135.7 300.5 141.8 296.5 147.5 292.7 153.0 289.0 158.1 285.4 163.0 281.9 167.7 278.3 172.2 274.7 176.4 271.1 180.4 267.7 184.3 264.3 188.1 260.8 191.7 257.2 195.0 253.5 198.2 249.9 201.2 246.2 204.1 242.6 206.9 239.1 209.7 235.7 212.5 232.4 215.4 229.2 218.3 225.8 221.0 222.3 223.7 218.8 226.2 215.2 228.8 211.7 231.6 208.2 234.5 204.6 237.4 200.8 240.2 196.9 243.0 192.8 245.6 188.6 248.2 184.2 250.6 179.6 252.7 174.9 254.7 170.0 256.4 165.0 257.6 159.9 258.6 154.7 259.2 149.5 259.7 144.2 259.9 138.9 259.8 133.5 259.2 128.3 258.2 123.1 256.8 118.1 255.0 113.2 252.9 108.5 250.4 103.9 247.6 99.6 244.5 95.5 241.1 91.5 237.5 87.8 233.8 84.2 230.0 80.7 226.1 77.2 222.2 73.9 218.3 70.6 214.2 67.6 210.0 64.5 205.8 61.3 201.7 58.1 197.4 55.0 193.1 52.0 188.6 49.3 183.9 46.7 179.1 44.1 174.2 41.6 169.2 39.1 164.0 36.7 158.7 34.5 153.2 32.5 147.6Z" fill="#0000c5"/>
<path d="M32.8 141.8 31.4 136.0 30.1 130.0 28.9 123.9 28.0 117.6 27.8 111.4 28.5 105.2 29.9 99.2 31.8 93.3 34.3 87.6 37.2 82.2 40.8 77.1 44.8 72.4 49.0 67.9 53.3 63.6 57.6 59.4 61.8 55.2 66.2 51.2 70.7 47.5 75.4 44.0 80.1 40.6 85.0 37.5 90.2 34.9 95.5 32.8 101.0 30.9 106.4 29.3 111.9 27.9 117.4 26.8 122.9 26.1 128.4 25.6 133.8 25.5 139.2 25.5 144.5 25.8 149.8 26.3 155.0 27.0 160.0 27.7 165.0 28.5 169.9 29.2 174.8 29.9 179.6 30.8 184.4 31.9 189.1 33.0 193.8 34.3 198.4 35.7 203.1 37.2 207.7 38.6 212.4 40.1 217.0 41.8 221.6 43.8 226.0 46.1 230.2 48.6 234.4 51.4 238.3 54.4 242.1 57.7 245.8 61.0 249.3 64.5 253.0 68.0 256.8 71.4 260.7 74.8 264.6 78.3 268.5 82.0 272.5 85.8 276.6 89.7 280.8 93.8 285.2 98.1 289.7 102.5 294.3 107.2 299.0 112.1 303.8 117.3 307.7 123.0 307.4 129.3 303.1 135.8 298.4 141.8 294.4 147.4 290.7 152.8 287.0 157.9 283.5 162.7 280.0 167.3 276.5 171.7 272.9 175.8 269.4 179.8 266.0 183.7 262.7 187.4 259.3 190.9 255.8 194.2 252.1 197.3 248.5 200.3 244.9 203.1 241.4 205.9 237.9 208.6 234.6 211.4 231.4 214.2 228.1 217.0 224.8 219.8 221.4 222.4 217.9 224.9 214.4 227.4 211.0 230.1 207.5 233.0 204.0 235.9 200.2 238.6 196.4 241.3 192.4 244.0 188.2 246.5 183.9 248.8 179.4 251.0 174.7 252.9 169.9 254.5 165.0 255.8 160.0 256.7 154.9 257.4 149.7 257.8 144.5 258.0 139.3 257.9 134.0 257.4 128.9 256.4 123.8 255.0 118.9 253.2 114.0 251.1 109.4 248.7 104.9 245.9 100.6 242.8 96.6 239.5 92.7 236.0 89.0 232.3 85.5 228.6 82.0 224.8 78.6 221.0 75.3 217.1 72.1 213.0 69.1 208.9 66.1 204.8 63.0 200.7 59.8 196.5 56.8 192.3 53.8 187.8 51.1 183.3 48.6 178.5 46.0 173.7 43.5 168.7 41.1 163.6 38.8 158.4 36.6 153.0 34.6 147.5Z" fill="#0000cb"/>
<path d="M35.0 141.8 33.5 136.1 32.3 130.2 31.1 124.2 30.2 118.0 30.0 111.9 30.7 105.8 32.1 99.9 34.0 94.1 36.4 88.5 39.3 83.2 42.8 78.2 46.7 73.5 50.9 69.1 55.1 64.9 59.3 60.7 63.5 56.6 67.8 52.7 72.2 49.0 76.8 45.6 81.5 42.3 86.3 39.2 91.4 36.7 96.7 34.5 102.0 32.7 107.4 31.1 112.7 29.7 118.2 28.7 123.6 28.0 129.0 27.5 134.3 27.3 139.6 27.4 144.9 27.7 150.0 28.2 155.1 28.8 160.1 29.6 165.0 30.3 169.8 31.0 174.6 31.8 179.4 32.6 184.1 33.7 188.7 34.8 193.3 36.1 197.9 37.5 202.5 38.9 207.0 40.3 211.7 41.8 216.2 43.4 220.6 45.4 225.0 47.7 229.2 50.1 233.2 52.9 237.1 55.9 240.8 59.0 244.4 62.4 248.0 65.8 251.5 69.2 255.3 72.5 259.1 75.9 263.0 79.4 266.9 83.0 270.8 86.7 274.8 90.6 278.9 94.6 283.2 98.8 287.7 103.1 292.2 107.7 296.8 112.6 301.6 117.7 305.4 123.3 305.1 129.5 300.8 135.9 296.2 141.8 292.3 147.4 288.6 152.6 285.1 157.6 281.6 162.4 278.1 166.9 274.7 171.2 271.2 175.3 267.7 179.2 264.4 183.0 261.1 186.6 257.8 190.1 254.3 193.3 250.7 196.4 247.2 199.3 243.6 202.1 240.1 204.8 236.7 207.5 233.4 210.2 230.3 213.0 227.1 215.8 223.9 218.5 220.5 221.1 217.1 223.5 213.6 226.0 210.2 228.7 206.8 231.5 203.3 234.4 199.7 237.1 195.9 239.7 191.9 242.3 187.8 244.8 183.6 247.1 179.1 249.2 174.6 251.1 169.8 252.7 165.0 253.9 160.1 254.8 155.1 255.5 150.0 255.9 144.8 256.1 139.7 256.0 134.5 255.5 129.5 254.5 124.5 253.2 119.6 251.4 114.9 249.3 110.3 247.0 105.9 244.2 101.7 241.2 97.7 237.9 93.9 234.5 90.3 230.9 86.8 227.2 83.4 223.4 80.0 219.7 76.8 215.8 73.7 211.9 70.7 207.9 67.7 203.8 64.6 199.7 61.5 195.7 58.5 191.4 55.6 187.1 53.0 182.6 50.4 177.9 48.0 173.2 45.5 168.3 43.1 163.3 40.8 158.1 38.7 152.9 36.7 147.4Z" fill="#0000d2"/>
<path d="M37.1 141.8 35.7 136.2 34.5 130.4 33.4 124.5 32.5 118.4 32.3 112.4 32.9 106.4 34.3 100.6 36.2 94.9 38.5 89.4 41.3 84.1 44.8 79.2 48.7 74.6 52.7 70.3 56.9 66.1 61.1 62.0 65.2 58.0 69.4 54.2 73.8 50.6 78.3 47.2 82.9 43.9 87.6 40.9 92.6 38.4 97.8 36.3 103.0 34.5 108.3 32.9 113.6 31.6 118.9 30.6 124.3 29.8 129.6 29.4 134.8 29.2 140.1 29.3 145.2 29.6 150.3 30.0 155.3 30.7 160.2 31.4 165.0 32.2 169.8 32.8 174.5 33.6 179.1 34.4 183.8 35.5 188.3 36.6 192.9 37.8 197.4 39.2 201.8 40.6 206.4 42.0 210.9 43.4 215.4 45.1 219.7 47.0 224.0 49.2 228.1 51.7 232.1 54.4 235.9 57.3 239.6 60.4 243.1 63.7 246.6 67.0 250.1 70.4 253.8 73.7 257.6 77.0 261.4 80.4 265.2 84.0 269.0 87.6 273.0 91.4 277.1 95.4 281.3 99.5 285.6 103.8 290.1 108.3 294.6 113.1 299.3 118.1 303.1 123.6 302.8 129.7 298.6 136.0 294.0 141.8 290.2 147.3 286.6 152.4 283.1 157.3 279.7 162.0 276.3 166.5 272.8 170.7 269.4 174.7 266.0 178.6 262.8 182.3 259.5 185.9 256.2 189.3 252.8 192.5 249.3 195.5 245.8 198.4 242.3 201.1 238.9 203.8 235.5 206.4 232.3 209.1 229.2 211.9 226.1 214.6 222.9 217.2 219.6 219.8 216.2 222.2 212.8 224.6 209.5 227.3 206.2 230.0 202.7 232.8 199.1 235.5 195.4 238.1 191.5 240.7 187.5 243.1 183.3 245.4 178.9 247.4 174.4 249.3 169.8 250.9 165.0 252.1 160.1 253.0 155.2 253.6 150.2 254.0 145.2 254.2 140.1 254.1 135.0 253.6 130.0 252.7 125.1 251.3 120.3 249.6 115.7 247.6 111.2 245.2 106.8 242.6 102.7 239.6 98.8 236.3 95.1 233.0 91.5 229.4 88.1 225.8 84.7 222.1 81.4 218.4 78.2 214.6 75.2 210.7 72.2 206.8 69.3 202.8 66.3 198.8 63.3 194.8 60.3 190.6 57.4 186.4 54.8 181.9 52.3 177.3 49.9 172.6 47.5 167.9 45.1 162.9 42.9 157.9 40.8 152.7 38.8 147.3Z" fill="#0000d9"/>
<path d="M39.3 141.8 37.9 136.2 36.7 130.6 35.6 124.8 34.7 118.8 34.5 112.9 35.1 107.0 36.5 101.3 38.3 95.7 40.6 90.3 43.4 85.1 46.8 80.3 50.6 75.8 54.6 71.5 58.7 67.4 62.8 63.4 66.8 59.4 71.0 55.6 75.3 52.1 79.7 48.8 84.2 45.5 88.9 42.6 93.8 40.1 98.9 38.1 104.1 36.3 109.3 34.7 114.5 33.4 119.7 32.4 124.9 31.7 130.2 31.3 135.3 31.1 140.5 31.2 145.5 31.4 150.5 31.9 155.4 32.5 160.3 33.3 165.0 34.0 169.7 34.7 174.3 35.4 178.9 36.2 183.4 37.2 187.9 38.3 192.4 39.6 196.8 40.9 201.2 42.3 205.7 43.6 210.1 45.1 214.5 46.7 218.8 48.6 223.0 50.8 227.1 53.2 231.0 55.8 234.7 58.7 238.3 61.8 241.8 65.0 245.2 68.3 248.7 71.6 252.3 74.8 256.0 78.1 259.8 81.4 263.5 84.9 267.3 88.5 271.2 92.3 275.2 96.2 279.3 100.2 283.6 104.4 288.0 108.8 292.4 113.5 297.1 118.5 300.8 123.9 300.5 129.9 296.3 136.1 291.9 141.8 288.1 147.2 284.5 152.3 281.1 157.1 277.7 161.7 274.4 166.1 271.0 170.2 267.7 174.2 264.3 178.0 261.1 181.6 258.0 185.1 254.7 188.5 251.3 191.6 247.9 194.6 244.4 197.4 241.0 200.1 237.6 202.7 234.3 205.3 231.2 208.0 228.1 210.7 225.1 213.4 221.9 216.0 218.7 218.4 215.3 220.8 212.0 223.2 208.7 225.8 205.5 228.6 202.1 231.3 198.5 233.9 194.9 236.5 191.0 239.0 187.1 241.4 183.0 243.6 178.7 245.7 174.2 247.5 169.7 249.0 165.0 250.2 160.2 251.1 155.4 251.7 150.5 252.1 145.5 252.3 140.5 252.2 135.5 251.7 130.6 250.8 125.8 249.5 121.1 247.8 116.5 245.8 112.1 243.5 107.8 240.9 103.8 237.9 99.9 234.7 96.2 231.4 92.7 227.9 89.4 224.3 86.1 220.7 82.8 217.1 79.7 213.4 76.7 209.6 73.8 205.7 70.9 201.7 67.9 197.8 65.0 193.9 62.1 189.8 59.3 185.6 56.6 181.2 54.2 176.7 51.8 172.1 49.5 167.4 47.1 162.6 44.9 157.6 42.8 152.5 40.9 147.2Z" fill="#0000e1"/>
<path d="M41.4 141.8 40.0 136.3 38.8 130.8 37.8 125.0 36.9 119.2 36.7 113.4 37.3 107.6 38.6 102.0 40.5 96.5 42.7 91.2 45.5 86.1 48.8 81.3 52.6 76.9 56.5 72.7 60.5 68.7 64.5 64.7 68.5 60.8 72.6 57.1 76.8 53.6 81.2 50.4 85.6 47.2 90.2 44.3 95.0 41.9 100.0 39.8 105.1 38.1 110.2 36.6 115.3 35.3 120.5 34.3 125.6 33.6 130.8 33.2 135.8 33.0 140.9 33.1 145.9 33.3 150.8 33.8 155.6 34.4 160.3 35.1 165.0 35.8 169.6 36.5 174.2 37.2 178.7 38.0 183.1 39.0 187.5 40.1 191.9 41.3 196.3 42.6 200.6 44.0 205.0 45.3 209.3 46.7 213.7 48.3 217.9 50.2 222.0 52.3 226.0 54.7 229.9 57.3 233.5 60.1 237.1 63.1 240.5 66.3 243.9 69.5 247.3 72.8 250.8 76.0 254.5 79.2 258.1 82.5 261.8 85.9 265.5 89.5 269.4 93.1 273.3 96.9 277.4 100.9 281.6 105.0 285.9 109.4 290.3 114.0 294.8 118.9 298.5 124.2 298.1 130.2 294.1 136.2 289.7 141.8 286.0 147.1 282.5 152.1 279.1 156.8 275.8 161.3 272.5 165.6 269.2 169.7 265.9 173.6 262.6 177.3 259.5 180.9 256.4 184.4 253.2 187.7 249.9 190.8 246.5 193.7 243.1 196.5 239.7 199.1 236.4 201.7 233.1 204.2 230.0 206.8 227.1 209.5 224.0 212.2 220.9 214.7 217.8 217.1 214.5 219.5 211.2 221.9 208.0 224.4 204.8 227.1 201.4 229.8 198.0 232.4 194.3 234.9 190.6 237.3 186.7 239.7 182.6 241.9 178.4 243.9 174.1 245.7 169.6 247.2 165.0 248.4 160.3 249.3 155.5 249.9 150.7 250.3 145.8 250.4 140.9 250.3 136.0 249.9 131.2 248.9 126.5 247.6 121.8 246.0 117.3 244.0 113.0 241.8 108.8 239.2 104.8 236.3 101.0 233.2 97.4 229.9 94.0 226.5 90.7 222.9 87.4 219.4 84.2 215.8 81.1 212.2 78.2 208.4 75.3 204.6 72.5 200.7 69.6 196.9 66.7 193.0 63.8 189.0 61.1 184.9 58.5 180.6 56.1 176.1 53.8 171.6 51.4 167.0 49.2 162.2 47.0 157.3 44.9 152.3 43.0 147.1Z" fill="#0000ea"/>
<path d="M43.6 141.8 42.2 136.4 41.0 131.0 40.0 125.3 39.1 119.6 38.9 113.9 39.6 108.2 40.8 102.7 42.6 97.3 44.9 92.0 47.6 87.0 50.8 82.4 54.5 78.0 58.4 73.9 62.4 69.9 66.3 66.1 70.2 62.2 74.2 58.6 78.4 55.2 82.7 51.9 87.0 48.8 91.5 46.0 96.2 43.6 101.2 41.6 106.2 39.9 111.2 38.4 116.2 37.1 121.2 36.2 126.3 35.5 131.3 35.1 136.4 34.9 141.3 35.0 146.2 35.2 151.0 35.7 155.8 36.3 160.4 37.0 165.0 37.7 169.5 38.3 174.0 39.0 178.4 39.8 182.8 40.8 187.2 41.9 191.5 43.1 195.7 44.4 200.0 45.7 204.3 47.0 208.6 48.4 212.8 49.9 217.0 51.8 221.0 53.9 224.9 56.2 228.7 58.8 232.4 61.5 235.8 64.5 239.2 67.6 242.5 70.8 245.8 74.0 249.3 77.1 252.9 80.2 256.5 83.5 260.1 86.9 263.8 90.4 267.6 94.0 271.4 97.7 275.4 101.6 279.6 105.7 283.8 110.0 288.1 114.5 292.6 119.3 296.1 124.5 295.8 130.4 291.9 136.3 287.5 141.8 283.9 147.0 280.5 151.9 277.1 156.6 273.9 161.0 270.7 165.2 267.4 169.2 264.1 173.1 260.9 176.7 257.8 180.3 254.8 183.7 251.7 186.9 248.4 189.9 245.0 192.8 241.7 195.5 238.4 198.2 235.2 200.7 232.0 203.2 228.9 205.7 226.0 208.3 223.0 210.9 220.0 213.4 216.8 215.8 213.6 218.1 210.4 220.5 207.3 223.0 204.1 225.6 200.8 228.2 197.4 230.8 193.8 233.3 190.2 235.7 186.3 238.0 182.3 240.1 178.2 242.1 173.9 243.9 169.5 245.4 165.0 246.5 160.4 247.4 155.7 248.0 151.0 248.4 146.2 248.6 141.4 248.4 136.5 248.0 131.8 247.1 127.1 245.8 122.6 244.2 118.2 242.2 113.9 240.0 109.8 237.5 105.9 234.6 102.1 231.6 98.6 228.4 95.2 225.0 91.9 221.5 88.8 218.0 85.6 214.5 82.6 211.0 79.7 207.3 76.9 203.5 74.1 199.7 71.3 195.9 68.4 192.1 65.6 188.2 62.9 184.1 60.3 179.9 58.0 175.5 55.7 171.1 53.4 166.5 51.2 161.9 49.0 157.1 47.0 152.1 45.2 147.0Z" fill="#0000f4"/>
<path d="M45.7 141.8 44.4 136.5 43.2 131.1 42.2 125.6 41.4 120.0 41.2 114.3 41.8 108.8 43.0 103.3 44.8 98.1 47.0 92.9 49.6 88.0 52.9 83.4 56.5 79.1 60.3 75.1 64.2 71.2 68.0 67.4 71.9 63.6 75.8 60.0 79.9 56.7 84.1 53.5 88.4 50.5 92.8 47.7 97.5 45.3 102.3 43.4 107.2 41.7 112.1 40.2 117.1 39.0 122.0 38.0 127.0 37.4 131.9 36.9 136.9 36.8 141.7 36.8 146.5 37.1 151.3 37.5 155.9 38.1 160.5 38.8 165.0 39.5 169.4 40.1 173.8 40.8 178.2 41.6 182.5 42.6 186.8 43.6 191.0 44.8 195.2 46.1 199.4 47.4 203.6 48.7 207.8 50.0 212.0 51.6 216.0 53.4 220.0 55.4 223.9 57.7 227.6 60.2 231.2 62.9 234.6 65.9 237.9 68.9 241.1 72.0 244.4 75.2 247.8 78.2 251.4 81.3 254.9 84.5 258.5 87.8 262.1 91.3 265.8 94.8 269.5 98.5 273.5 102.3 277.5 106.3 281.7 110.5 285.9 115.0 290.3 119.7 293.8 124.8 293.5 130.6 289.6 136.4 285.4 141.8 281.8 146.9 278.4 151.7 275.2 156.3 272.0 160.7 268.8 164.8 265.6 168.8 262.4 172.5 259.3 176.1 256.2 179.6 253.2 182.9 250.1 186.1 246.9 189.1 243.6 191.9 240.4 194.6 237.1 197.2 233.9 199.6 230.8 202.1 227.8 204.6 224.9 207.2 222.0 209.7 219.0 212.2 215.9 214.5 212.8 216.8 209.6 219.1 206.5 221.5 203.4 224.1 200.2 226.7 196.8 229.2 193.3 231.6 189.7 234.0 185.9 236.3 182.0 238.4 178.0 240.3 173.8 242.1 169.4 243.5 165.0 244.7 160.5 245.5 155.9 246.1 151.2 246.5 146.5 246.7 141.8 246.6 137.1 246.1 132.4 245.2 127.8 244.0 123.3 242.4 119.0 240.5 114.8 238.3 110.7 235.8 106.9 233.0 103.2 230.0 99.8 226.8 96.4 223.5 93.2 220.1 90.1 216.7 87.0 213.3 84.0 209.7 81.2 206.1 78.4 202.4 75.7 198.7 72.9 195.0 70.1 191.2 67.3 187.3 64.7 183.4 62.2 179.2 59.9 174.9 57.6 170.6 55.4 166.1 53.2 161.5 51.1 156.8 49.1 151.9 47.3 146.9Z" fill="#0001ff"/>
<path d="M47.8 141.8 46.5 136.6 45.4 131.3 44.4 125.9 43.6 120.4 43.4 114.8 44.0 109.4 45.2 104.0 47.0 98.8 49.1 93.8 51.7 89.0 54.9 84.5 58.4 80.3 62.2 76.3 66.0 72.5 69.8 68.7 73.5 65.0 77.4 61.5 81.4 58.2 85.6 55.1 89.7 52.1 94.1 49.4 98.7 47.1 103.4 45.1 108.2 43.5 113.1 42.0 117.9 40.8 122.8 39.9 127.7 39.2 132.5 38.8 137.4 38.7 142.1 38.7 146.9 39.0 151.5 39.4 156.1 40.0 160.6 40.7 165.0 41.4 169.4 42.0 173.7 42.6 177.9 43.4 182.2 44.4 186.4 45.4 190.5 46.5 194.6 47.8 198.7 49.1 202.9 50.3 207.0 51.7 211.1 53.2 215.1 55.0 219.0 57.0 222.8 59.2 226.5 61.7 230.0 64.4 233.3 67.2 236.6 70.2 239.8 73.3 243.0 76.4 246.3 79.4 249.8 82.4 253.3 85.5 256.8 88.8 260.3 92.2 263.9 95.7 267.7 99.3 271.5 103.0 275.5 107.0 279.6 111.1 283.7 115.5 288.1 120.1 291.5 125.1 291.2 130.8 287.4 136.5 283.2 141.8 279.7 146.8 276.4 151.5 273.2 156.0 270.0 160.3 266.9 164.4 263.8 168.3 260.6 172.0 257.6 175.5 254.6 178.9 251.6 182.2 248.6 185.3 245.4 188.2 242.2 191.0 239.0 193.6 235.8 196.2 232.7 198.6 229.6 201.0 226.7 203.5 223.8 206.0 221.0 208.5 218.0 210.9 215.0 213.2 211.9 215.4 208.8 217.7 205.8 220.1 202.7 222.6 199.5 225.2 196.2 227.6 192.8 230.0 189.3 232.4 185.6 234.6 181.7 236.7 177.7 238.6 173.6 240.3 169.4 241.7 165.0 242.8 160.6 243.7 156.0 244.2 151.5 244.6 146.8 244.8 142.2 244.7 137.6 244.2 133.0 243.4 128.5 242.1 124.1 240.6 119.8 238.7 115.7 236.6 111.7 234.1 107.9 231.4 104.4 228.4 100.9 225.3 97.7 222.1 94.5 218.7 91.5 215.3 88.4 212.0 85.5 208.5 82.7 205.0 80.0 201.3 77.3 197.7 74.6 194.0 71.8 190.3 69.1 186.5 66.5 182.6 64.0 178.5 61.8 174.3 59.6 170.1 57.3 165.7 55.2 161.2 53.1 156.5 51.2 151.8 49.4 146.8Z" fill="#000dff"/>
<path d="M50.0 141.8 48.7 136.7 47.6 131.5 46.6 126.2 45.8 120.8 45.6 115.3 46.2 110.0 47.4 104.7 49.1 99.6 51.2 94.7 53.8 89.9 56.9 85.5 60.4 81.4 64.0 77.5 67.8 73.7 71.5 70.1 75.2 66.5 79.0 63.0 83.0 59.8 87.0 56.7 91.1 53.8 95.4 51.1 99.9 48.8 104.5 46.9 109.3 45.3 114.0 43.9 118.8 42.7 123.6 41.8 128.4 41.1 133.1 40.7 137.9 40.6 142.6 40.6 147.2 40.9 151.8 41.3 156.3 41.9 160.7 42.5 165.0 43.2 169.3 43.8 173.5 44.5 177.7 45.2 181.9 46.2 186.0 47.2 190.1 48.3 194.1 49.5 198.1 50.8 202.2 52.0 206.3 53.3 210.3 54.8 214.2 56.6 218.0 58.5 221.8 60.7 225.3 63.2 228.8 65.8 232.1 68.6 235.3 71.5 238.4 74.6 241.6 77.6 244.9 80.5 248.3 83.5 251.7 86.6 255.1 89.8 258.6 93.1 262.1 96.5 265.8 100.1 269.6 103.7 273.5 107.6 277.5 111.7 281.6 116.0 285.8 120.5 289.2 125.4 288.9 131.0 285.1 136.6 281.1 141.8 277.6 146.7 274.3 151.4 271.2 155.8 268.1 160.0 265.1 164.0 262.0 167.8 258.9 171.4 255.9 174.9 252.9 178.2 250.0 181.4 247.1 184.5 244.0 187.4 240.8 190.1 237.7 192.7 234.6 195.2 231.4 197.5 228.4 199.9 225.5 202.3 222.7 204.8 219.9 207.3 217.1 209.6 214.1 211.9 211.0 214.1 208.0 216.3 205.0 218.7 202.0 221.2 198.9 223.7 195.7 226.1 192.3 228.4 188.8 230.7 185.2 232.9 181.4 234.9 177.5 236.8 173.5 238.5 169.3 239.9 165.0 241.0 160.6 241.8 156.2 242.4 151.7 242.7 147.2 242.9 142.6 242.8 138.1 242.4 133.6 241.5 129.2 240.3 124.8 238.7 120.6 236.9 116.6 234.8 112.7 232.4 109.0 229.7 105.5 226.8 102.1 223.8 98.9 220.6 95.8 217.3 92.8 214.0 89.8 210.7 87.0 207.3 84.2 203.8 81.6 200.2 78.9 196.6 76.2 193.1 73.5 189.4 70.8 185.7 68.3 181.9 65.9 177.9 63.7 173.7 61.5 169.5 59.3 165.2 57.2 160.8 55.2 156.3 53.3 151.6 51.5 146.8Z" fill="#001bff"/>
<path d="M52.1 141.8 50.9 136.8 49.8 131.7 48.8 126.5 48.0 121.2 47.8 115.8 48.4 110.6 49.6 105.4 51.3 100.4 53.3 95.6 55.9 90.9 58.9 86.6 62.3 82.5 65.9 78.7 69.6 75.0 73.3 71.4 76.9 67.9 80.6 64.5 84.5 61.3 88.5 58.3 92.5 55.4 96.7 52.8 101.1 50.5 105.7 48.7 110.3 47.1 115.0 45.7 119.6 44.5 124.3 43.6 129.0 43.0 133.7 42.6 138.4 42.4 143.0 42.5 147.5 42.7 152.0 43.2 156.4 43.7 160.7 44.4 165.0 45.0 169.2 45.6 173.4 46.3 177.5 47.1 181.5 47.9 185.6 48.9 189.6 50.0 193.6 51.2 197.5 52.5 201.5 53.7 205.5 55.0 209.4 56.4 213.3 58.2 217.1 60.1 220.7 62.2 224.2 64.6 227.6 67.2 230.8 70.0 234.0 72.8 237.0 75.8 240.1 78.8 243.4 81.7 246.7 84.6 250.1 87.6 253.4 90.8 256.8 94.0 260.3 97.3 263.9 100.8 267.6 104.5 271.5 108.2 275.4 112.2 279.4 116.4 283.6 120.9 286.9 125.8 286.6 131.2 282.9 136.7 278.9 141.8 275.5 146.6 272.3 151.2 269.2 155.5 266.2 159.6 263.2 163.6 260.2 167.3 257.1 170.9 254.2 174.3 251.3 177.5 248.4 180.7 245.5 183.7 242.5 186.5 239.4 189.2 236.3 191.7 233.3 194.2 230.2 196.5 227.2 198.8 224.4 201.2 221.7 203.6 218.9 206.1 216.1 208.4 213.2 210.6 210.2 212.7 207.2 214.9 204.3 217.2 201.3 219.7 198.3 222.1 195.1 224.5 191.8 226.8 188.4 229.0 184.8 231.2 181.1 233.2 177.3 235.0 173.3 236.7 169.2 238.1 165.0 239.1 160.7 239.9 156.4 240.5 152.0 240.9 147.5 241.0 143.0 240.9 138.6 240.5 134.1 239.6 129.8 238.5 125.6 236.9 121.5 235.1 117.5 233.1 113.7 230.7 110.0 228.1 106.6 225.2 103.3 222.2 100.1 219.1 97.1 215.9 94.1 212.7 91.2 209.4 88.4 206.1 85.7 202.6 83.1 199.1 80.5 195.6 77.9 192.1 75.2 188.5 72.6 184.9 70.1 181.1 67.7 177.2 65.6 173.2 63.4 169.0 61.3 164.8 59.2 160.5 57.2 156.0 55.3 151.4 53.6 146.7Z" fill="#002bff"/>
<path d="M54.3 141.8 53.0 136.9 52.0 131.9 51.0 126.8 50.2 121.6 50.1 116.3 50.6 111.2 51.8 106.1 53.5 101.2 55.5 96.4 57.9 91.9 60.9 87.6 64.3 83.7 67.8 79.9 71.4 76.3 75.0 72.7 78.6 69.3 82.2 65.9 86.0 62.8 89.9 59.9 93.9 57.0 98.0 54.5 102.3 52.3 106.8 50.4 111.4 48.9 115.9 47.5 120.5 46.4 125.1 45.5 129.7 44.9 134.3 44.5 138.9 44.3 143.4 44.4 147.9 44.6 152.3 45.0 156.6 45.6 160.8 46.2 165.0 46.9 169.1 47.5 173.2 48.1 177.2 48.9 181.2 49.7 185.2 50.7 189.1 51.8 193.0 53.0 196.9 54.2 200.8 55.4 204.7 56.6 208.6 58.1 212.4 59.7 216.1 61.6 219.6 63.8 223.1 66.1 226.4 68.6 229.6 71.3 232.7 74.1 235.7 77.1 238.7 80.0 241.9 82.8 245.1 85.7 248.4 88.6 251.7 91.7 255.1 94.9 258.5 98.2 262.0 101.6 265.7 105.2 269.5 108.9 273.3 112.8 277.2 116.9 281.3 121.3 284.6 126.1 284.3 131.4 280.7 136.8 276.7 141.8 273.4 146.5 270.3 151.0 267.2 155.3 264.3 159.3 261.3 163.2 258.4 166.8 255.4 170.3 252.5 173.6 249.6 176.9 246.9 180.0 244.0 182.9 241.0 185.7 238.0 188.3 235.0 190.8 232.0 193.2 229.0 195.5 226.0 197.7 223.3 200.1 220.6 202.5 217.9 204.8 215.1 207.1 212.3 209.3 209.3 211.4 206.4 213.5 203.5 215.8 200.6 218.2 197.6 220.6 194.5 222.9 191.3 225.2 187.9 227.4 184.4 229.5 180.8 231.5 177.0 233.3 173.1 234.9 169.1 236.2 165.0 237.3 160.8 238.1 156.5 238.6 152.2 239.0 147.8 239.1 143.4 239.0 139.1 238.6 134.7 237.8 130.5 236.6 126.3 235.1 122.3 233.4 118.4 231.3 114.6 229.0 111.1 226.4 107.7 223.7 104.4 220.7 101.4 217.6 98.4 214.5 95.5 211.3 92.6 208.1 89.9 204.8 87.2 201.5 84.7 198.0 82.1 194.6 79.5 191.1 76.9 187.7 74.3 184.1 71.9 180.4 69.6 176.5 67.5 172.6 65.4 168.5 63.3 164.4 61.2 160.1 59.3 155.7 57.4 151.2 55.7 146.6Z" fill="#003eff"/>
<path d="M56.4 141.8 55.2 137.0 54.2 132.1 53.2 127.1 52.5 122.0 52.3 116.8 52.8 111.7 54.0 106.8 55.6 102.0 57.6 97.3 60.0 92.8 62.9 88.7 66.2 84.8 69.7 81.1 73.2 77.5 76.8 74.1 80.2 70.7 83.8 67.4 87.5 64.3 91.4 61.5 95.3 58.7 99.3 56.2 103.5 54.0 107.9 52.2 112.4 50.7 116.9 49.3 121.4 48.2 125.9 47.4 130.4 46.7 134.9 46.4 139.4 46.2 143.8 46.3 148.2 46.5 152.5 46.9 156.7 47.5 160.9 48.1 165.0 48.7 169.0 49.3 173.0 49.9 177.0 50.7 180.9 51.5 184.8 52.5 188.7 53.5 192.5 54.7 196.3 55.9 200.1 57.0 204.0 58.3 207.8 59.7 211.5 61.3 215.1 63.2 218.6 65.3 222.0 67.6 225.2 70.0 228.3 72.7 231.3 75.5 234.3 78.3 237.3 81.2 240.4 84.0 243.6 86.8 246.8 89.7 250.1 92.7 253.3 95.8 256.7 99.0 260.1 102.4 263.7 105.9 267.4 109.5 271.2 113.3 275.0 117.4 279.1 121.7 282.2 126.4 282.0 131.6 278.4 136.8 274.6 141.8 271.3 146.4 268.2 150.8 265.3 155.0 262.4 159.0 259.5 162.7 256.6 166.3 253.6 169.7 250.8 173.0 248.0 176.2 245.3 179.2 242.5 182.1 239.6 184.8 236.6 187.4 233.6 189.8 230.7 192.2 227.7 194.4 224.9 196.7 222.1 198.9 219.5 201.3 216.9 203.6 214.1 205.9 211.3 208.0 208.5 210.0 205.6 212.1 202.8 214.4 199.9 216.7 197.0 219.1 194.0 221.4 190.8 223.6 187.5 225.7 184.1 227.8 180.5 229.7 176.8 231.5 173.0 233.1 169.0 234.4 165.0 235.4 160.9 236.2 156.7 236.7 152.5 237.1 148.2 237.2 143.9 237.1 139.6 236.7 135.3 235.9 131.2 234.8 127.1 233.3 123.1 231.6 119.3 229.6 115.6 227.3 112.1 224.8 108.8 222.1 105.6 219.2 102.6 216.2 99.7 213.1 96.8 210.0 94.0 206.8 91.3 203.6 88.7 200.3 86.2 197.0 83.7 193.6 81.2 190.2 78.6 186.8 76.1 183.3 73.7 179.6 71.4 175.9 69.3 172.0 67.3 168.0 65.2 163.9 63.2 159.7 61.3 155.4 59.5 151.0 57.9 146.5Z" fill="#0055ff"/>
<path d="M58.6 141.8 57.4 137.1 56.4 132.3 55.4 127.4 54.7 122.3 54.5 117.3 55.1 112.3 56.2 107.5 57.8 102.8 59.7 98.2 62.1 93.8 65.0 89.7 68.2 85.9 71.6 82.3 75.0 78.8 78.5 75.4 81.9 72.1 85.4 68.9 89.1 65.9 92.8 63.0 96.6 60.3 100.6 57.8 104.7 55.7 109.1 54.0 113.4 52.5 117.8 51.2 122.2 50.1 126.7 49.2 131.1 48.6 135.5 48.3 139.9 48.1 144.2 48.2 148.5 48.4 152.8 48.8 156.9 49.3 161.0 49.9 165.0 50.5 169.0 51.1 172.9 51.7 176.8 52.5 180.6 53.3 184.4 54.2 188.2 55.3 191.9 56.4 195.7 57.6 199.4 58.7 203.2 59.9 206.9 61.3 210.5 62.9 214.1 64.7 217.5 66.8 220.8 69.0 224.0 71.5 227.1 74.0 230.0 76.8 232.9 79.6 235.8 82.4 238.9 85.1 242.0 87.9 245.2 90.7 248.4 93.7 251.6 96.7 254.9 99.9 258.3 103.2 261.8 106.6 265.4 110.1 269.1 113.9 272.9 117.9 276.8 122.1 279.9 126.7 279.7 131.8 276.2 136.9 272.4 141.8 269.2 146.3 266.2 150.7 263.3 154.7 260.4 158.6 257.6 162.3 254.8 165.9 251.9 169.2 249.1 172.4 246.4 175.5 243.7 178.5 240.9 181.3 238.1 184.0 235.1 186.5 232.2 188.9 229.4 191.2 226.5 193.4 223.7 195.6 221.0 197.8 218.4 200.1 215.8 202.4 213.2 204.6 210.4 206.7 207.6 208.7 204.8 210.7 202.0 212.9 199.2 215.2 196.4 217.6 193.4 219.8 190.3 222.0 187.0 224.1 183.7 226.1 180.2 228.0 176.6 229.7 172.8 231.3 169.0 232.6 165.0 233.6 161.0 234.3 156.9 234.9 152.7 235.2 148.5 235.4 144.3 235.3 140.1 234.8 135.9 234.1 131.8 232.9 127.8 231.5 124.0 229.8 120.2 227.9 116.6 225.7 113.2 223.2 109.9 220.5 106.8 217.7 103.8 214.7 101.0 211.7 98.2 208.6 95.4 205.5 92.8 202.4 90.2 199.2 87.8 195.9 85.4 192.5 82.8 189.2 80.3 185.9 77.9 182.4 75.5 178.9 73.3 175.2 71.2 171.4 69.2 167.5 67.2 163.5 65.2 159.4 63.4 155.2 61.6 150.8 60.0 146.4Z" fill="#0075ff"/>
<path d="M60.7 141.8 59.6 137.2 58.6 132.5 57.6 127.7 56.9 122.7 56.7 117.8 57.3 112.9 58.4 108.2 59.9 103.6 61.8 99.1 64.2 94.8 67.0 90.8 70.1 87.0 73.5 83.5 76.9 80.1 80.2 76.8 83.6 73.5 87.0 70.3 90.6 67.4 94.3 64.6 98.0 62.0 101.9 59.5 106.0 57.5 110.2 55.8 114.5 54.3 118.8 53.0 123.1 51.9 127.4 51.1 131.8 50.5 136.1 50.1 140.4 50.0 144.7 50.0 148.9 50.3 153.0 50.7 157.1 51.2 161.1 51.8 165.0 52.4 168.9 52.9 172.7 53.5 176.5 54.3 180.3 55.1 184.0 56.0 187.7 57.0 191.4 58.1 195.0 59.3 198.7 60.4 202.4 61.6 206.1 62.9 209.6 64.5 213.1 66.3 216.5 68.3 219.7 70.5 222.8 72.9 225.8 75.4 228.7 78.1 231.5 80.8 234.4 83.6 237.4 86.2 240.5 88.9 243.6 91.7 246.7 94.6 249.8 97.6 253.1 100.7 256.4 103.9 259.8 107.3 263.4 110.8 267.0 114.5 270.7 118.4 274.5 122.5 277.6 127.0 277.3 132.0 273.9 137.0 270.2 141.8 267.1 146.3 264.1 150.5 261.3 154.5 258.5 158.3 255.7 161.9 252.9 165.4 250.1 168.6 247.4 171.8 244.7 174.8 242.1 177.8 239.4 180.5 236.6 183.1 233.7 185.6 230.9 187.9 228.1 190.2 225.2 192.4 222.5 194.5 219.9 196.7 217.4 198.9 214.8 201.2 212.2 203.3 209.5 205.4 206.8 207.3 204.0 209.4 201.3 211.5 198.6 213.8 195.7 216.0 192.8 218.2 189.8 220.3 186.6 222.4 183.3 224.4 179.9 226.2 176.3 227.9 172.7 229.5 168.9 230.7 165.0 231.7 161.0 232.5 157.0 233.0 153.0 233.3 148.8 233.5 144.7 233.4 140.6 233.0 136.5 232.2 132.5 231.1 128.6 229.7 124.8 228.0 121.1 226.1 117.6 224.0 114.2 221.5 111.0 218.9 108.0 216.1 105.1 213.2 102.3 210.3 99.5 207.3 96.8 204.3 94.2 201.2 91.7 198.0 89.3 194.8 87.0 191.5 84.5 188.3 82.0 185.0 79.6 181.6 77.3 178.1 75.1 174.5 73.1 170.8 71.1 166.9 69.2 163.0 67.3 159.0 65.4 154.9 63.7 150.7 62.1 146.3Z" fill="#00abff"/>
<path d="M62.9 141.8 61.7 137.3 60.7 132.7 59.9 128.0 59.1 123.1 59.0 118.3 59.5 113.5 60.6 108.9 62.1 104.3 64.0 99.9 66.2 95.7 69.0 91.8 72.1 88.2 75.3 84.7 78.7 81.4 82.0 78.1 85.3 74.9 88.6 71.8 92.1 68.9 95.7 66.2 99.4 63.6 103.2 61.2 107.2 59.2 111.3 57.5 115.5 56.1 119.7 54.8 124.0 53.8 128.2 53.0 132.5 52.4 136.7 52.0 140.9 51.9 145.1 51.9 149.2 52.2 153.2 52.5 157.2 53.0 161.2 53.6 165.0 54.2 168.8 54.8 172.6 55.4 176.3 56.1 180.0 56.9 183.6 57.8 187.3 58.7 190.8 59.8 194.4 61.0 198.0 62.1 201.6 63.2 205.2 64.5 208.7 66.1 212.1 67.9 215.4 69.8 218.6 72.0 221.6 74.3 224.6 76.8 227.4 79.4 230.2 82.1 233.0 84.8 235.9 87.4 238.9 90.0 242.0 92.8 245.0 95.6 248.1 98.5 251.3 101.6 254.5 104.7 257.9 108.0 261.4 111.4 264.9 115.0 268.5 118.8 272.3 122.9 275.3 127.3 275.0 132.2 271.7 137.1 268.1 141.8 265.0 146.2 262.1 150.3 259.3 154.2 256.6 157.9 253.9 161.5 251.1 164.9 248.4 168.1 245.7 171.2 243.1 174.1 240.5 177.0 237.9 179.7 235.1 182.3 232.3 184.7 229.5 187.0 226.8 189.2 224.0 191.3 221.3 193.4 218.8 195.6 216.3 197.8 213.8 200.0 211.2 202.1 208.6 204.1 205.9 206.0 203.2 208.0 200.5 210.1 197.9 212.3 195.1 214.5 192.2 216.6 189.3 218.7 186.2 220.8 182.9 222.7 179.6 224.5 176.1 226.2 172.5 227.7 168.8 228.9 165.0 229.9 161.1 230.6 157.2 231.1 153.2 231.4 149.2 231.6 145.1 231.5 141.1 231.1 137.1 230.3 133.2 229.3 129.3 227.9 125.6 226.3 122.0 224.4 118.5 222.3 115.3 219.9 112.1 217.3 109.1 214.6 106.3 211.8 103.6 208.9 100.9 205.9 98.2 203.0 95.7 200.0 93.2 196.9 90.9 193.7 88.6 190.5 86.2 187.3 83.7 184.1 81.4 180.8 79.1 177.4 77.0 173.8 75.0 170.2 73.1 166.4 71.1 162.6 69.3 158.7 67.5 154.6 65.8 150.5 64.2 146.2Z" fill="#00e5ff"/>
<path d="M65.1 141.5 64.0 137.1 63.0 132.6 62.1 128.0 61.5 123.3 61.4 118.6 61.9 113.9 62.9 109.4 64.4 105.0 66.2 100.7 68.4 96.6 71.1 92.7 74.0 89.2 77.2 85.7 80.4 82.5 83.6 79.3 86.8 76.2 90.1 73.2 93.5 70.4 97.0 67.7 100.6 65.2 104.3 62.9 108.1 60.9 112.2 59.3 116.2 57.8 120.3 56.6 124.4 55.6 128.6 54.8 132.7 54.2 136.8 53.9 140.9 53.7 145.0 53.8 149.0 54.0 152.9 54.4 156.8 54.9 160.6 55.4 164.3 56.0 168.0 56.5 171.7 57.1 175.3 57.8 178.9 58.6 182.4 59.5 185.9 60.4 189.4 61.5 192.9 62.6 196.4 63.6 199.9 64.8 203.4 66.1 206.8 67.6 210.1 69.3 213.3 71.3 216.4 73.4 219.3 75.6 222.2 78.0 225.0 80.6 227.7 83.1 230.5 85.7 233.3 88.3 236.2 90.9 239.2 93.6 242.2 96.4 245.2 99.2 248.3 102.2 251.5 105.2 254.7 108.4 258.1 111.8 261.5 115.3 264.8 119.1 267.6 123.2 269.2 127.6 269.1 132.3 267.4 137.0 264.8 141.5 261.8 145.8 258.9 149.8 256.2 153.6 253.4 157.3 250.8 160.8 248.1 164.1 245.5 167.2 242.8 170.2 240.3 173.1 237.7 175.9 235.1 178.5 232.5 181.0 229.8 183.4 227.1 185.6 224.4 187.8 221.7 189.9 219.1 191.9 216.6 194.0 214.2 196.2 211.7 198.3 209.2 200.3 206.7 202.3 204.1 204.2 201.5 206.1 198.9 208.2 196.3 210.3 193.6 212.5 190.8 214.6 187.9 216.6 184.9 218.6 181.7 220.5 178.5 222.2 175.1 223.8 171.6 225.3 168.0 226.5 164.3 227.4 160.5 228.2 156.7 228.7 152.8 229.0 148.9 229.1 145.0 229.0 141.1 228.6 137.2 227.9 133.4 226.8 129.7 225.5 126.0 223.9 122.5 222.1 119.2 220.0 116.0 217.7 112.9 215.2 110.0 212.5 107.3 209.8 104.6 207.0 102.0 204.1 99.4 201.2 97.0 198.3 94.6 195.2 92.3 192.2 90.0 189.1 87.7 185.9 85.3 182.8 83.0 179.6 80.8 176.2 78.8 172.8 76.8 169.2 75.0 165.5 73.1 161.8 71.3 158.0 69.5 154.0 67.9 150.0 66.4 145.8Z" fill="#00ffff"/>
<path d="M67.3 141.5 66.2 137.2 65.2 132.8 64.4 128.3 63.9 123.8 63.8 119.2 64.3 114.6 65.3 110.2 66.7 105.9 68.4 101.7 70.6 97.7 73.2 94.0 76.0 90.4 79.0 87.1 82.1 83.9 85.3 80.8 88.4 77.8 91.6 74.9 94.9 72.1 98.3 69.5 101.8 67.1 105.4 64.9 109.2 62.9 113.0 61.3 117.0 59.9 121.0 58.7 125.0 57.7 129.0 56.9 133.0 56.4 137.0 56.0 141.0 55.9 144.9 55.9 148.8 56.1 152.6 56.5 156.4 57.0 160.1 57.5 163.7 58.0 167.3 58.6 170.8 59.2 174.4 59.8 177.8 60.6 181.3 61.5 184.7 62.4 188.1 63.4 191.5 64.4 194.9 65.5 198.3 66.7 201.7 68.0 204.9 69.5 208.1 71.1 211.3 73.0 214.3 75.0 217.2 77.2 220.0 79.6 222.7 82.0 225.4 84.5 228.1 87.0 230.9 89.5 233.7 92.0 236.6 94.7 239.5 97.4 242.5 100.1 245.5 103.0 248.6 106.0 251.8 109.2 255.0 112.5 258.0 116.0 260.6 119.8 262.6 123.9 263.7 128.2 263.7 132.7 262.7 137.1 260.9 141.5 258.5 145.7 255.9 149.6 253.2 153.4 250.6 156.9 247.9 160.3 245.3 163.6 242.7 166.6 240.2 169.6 237.6 172.4 235.1 175.1 232.6 177.6 230.0 180.1 227.4 182.4 224.7 184.6 222.1 186.7 219.6 188.8 217.0 190.8 214.6 192.8 212.2 194.9 209.8 196.9 207.4 198.9 204.9 200.8 202.4 202.7 199.8 204.6 197.3 206.6 194.8 208.7 192.1 210.7 189.4 212.8 186.6 214.8 183.7 216.7 180.6 218.5 177.5 220.2 174.2 221.8 170.8 223.2 167.3 224.4 163.7 225.3 160.0 226.0 156.3 226.5 152.6 226.8 148.8 226.9 144.9 226.8 141.1 226.4 137.4 225.7 133.7 224.7 130.1 223.4 126.5 221.9 123.1 220.1 119.9 218.1 116.8 215.8 113.8 213.4 111.0 210.8 108.3 208.1 105.7 205.4 103.1 202.6 100.7 199.8 98.3 196.9 95.9 193.9 93.7 190.9 91.4 187.9 89.2 184.9 86.9 181.8 84.7 178.6 82.6 175.4 80.6 172.0 78.7 168.5 76.8 165.0 75.0 161.3 73.3 157.6 71.6 153.7 70.0 149.8 68.6 145.7Z" fill="#1affe5"/>
<path d="M69.5 141.5 68.4 137.3 67.5 133.0 66.8 128.7 66.3 124.2 66.3 119.8 66.7 115.3 67.6 111.0 69.0 106.8 70.7 102.7 72.8 98.9 75.3 95.2 78.0 91.7 80.9 88.5 83.9 85.3 86.9 82.3 90.0 79.4 93.1 76.5 96.4 73.9 99.7 71.3 103.1 69.0 106.6 66.8 110.2 64.9 114.0 63.3 117.8 61.9 121.7 60.8 125.6 59.8 129.5 59.1 133.4 58.5 137.2 58.2 141.1 58.0 144.9 58.1 148.7 58.3 152.4 58.6 156.1 59.0 159.7 59.5 163.2 60.1 166.7 60.6 170.1 61.2 173.6 61.9 176.9 62.6 180.3 63.4 183.6 64.3 186.9 65.3 190.2 66.3 193.5 67.4 196.8 68.5 200.1 69.8 203.3 71.3 206.4 72.9 209.4 74.7 212.3 76.7 215.1 78.8 217.9 81.1 220.6 83.4 223.3 85.8 225.9 88.2 228.7 90.7 231.4 93.1 234.3 95.7 237.1 98.3 240.0 101.0 243.0 103.9 246.0 106.8 248.9 109.9 251.7 113.3 254.3 116.8 256.4 120.6 257.9 124.6 258.7 128.8 258.8 133.0 258.2 137.3 256.9 141.5 255.0 145.6 252.8 149.4 250.4 153.1 247.9 156.6 245.3 159.9 242.7 163.1 240.2 166.1 237.7 168.9 235.2 171.7 232.7 174.3 230.2 176.8 227.7 179.2 225.1 181.4 222.6 183.6 220.1 185.7 217.6 187.7 215.1 189.6 212.7 191.6 210.4 193.6 208.0 195.6 205.7 197.5 203.2 199.4 200.8 201.2 198.4 203.1 195.9 205.1 193.4 207.0 190.8 209.0 188.2 211.0 185.5 213.0 182.6 214.8 179.6 216.6 176.6 218.3 173.4 219.8 170.1 221.1 166.7 222.3 163.2 223.2 159.6 223.9 156.0 224.4 152.4 224.7 148.7 224.8 145.0 224.6 141.3 224.2 137.6 223.6 134.0 222.6 130.5 221.3 127.1 219.8 123.8 218.1 120.6 216.1 117.6 213.9 114.7 211.6 112.0 209.1 109.3 206.5 106.8 203.8 104.3 201.1 101.9 198.3 99.6 195.5 97.3 192.6 95.1 189.7 92.9 186.8 90.8 183.8 88.6 180.8 86.5 177.7 84.4 174.5 82.4 171.2 80.6 167.9 78.8 164.4 77.0 160.8 75.3 157.2 73.7 153.4 72.1 149.6 70.8 145.6Z" fill="#33ffcc"/>
<path d="M71.8 141.5 70.7 137.4 69.8 133.2 69.1 129.0 68.8 124.7 68.7 120.3 69.2 116.0 70.0 111.8 71.3 107.7 73.0 103.8 75.1 100.0 77.4 96.4 80.0 93.0 82.8 89.8 85.7 86.7 88.7 83.8 91.7 80.9 94.7 78.2 97.8 75.6 101.1 73.1 104.4 70.9 107.8 68.8 111.3 66.9 115.0 65.4 118.7 64.0 122.4 62.9 126.2 61.9 130.0 61.2 133.8 60.7 137.6 60.3 141.3 60.2 145.0 60.2 148.7 60.4 152.3 60.7 155.8 61.1 159.3 61.6 162.8 62.1 166.2 62.6 169.5 63.2 172.8 63.9 176.1 64.6 179.4 65.4 182.6 66.3 185.8 67.2 189.1 68.2 192.3 69.3 195.4 70.4 198.6 71.7 201.7 73.1 204.7 74.7 207.6 76.5 210.5 78.4 213.3 80.4 215.9 82.6 218.6 84.8 221.2 87.1 223.9 89.5 226.6 91.8 229.3 94.2 232.0 96.7 234.8 99.3 237.6 101.9 240.5 104.7 243.2 107.7 245.9 110.8 248.4 114.1 250.6 117.6 252.3 121.4 253.5 125.3 254.2 129.3 254.3 133.4 253.9 137.5 252.9 141.5 251.4 145.4 249.6 149.2 247.5 152.8 245.2 156.2 242.8 159.5 240.3 162.6 237.8 165.5 235.3 168.3 232.9 171.0 230.4 173.5 228.0 176.0 225.5 178.3 223.1 180.5 220.6 182.6 218.1 184.6 215.7 186.6 213.3 188.5 211.0 190.4 208.7 192.3 206.4 194.2 204.1 196.1 201.7 198.0 199.4 199.8 197.0 201.6 194.6 203.5 192.1 205.4 189.6 207.3 187.1 209.3 184.4 211.1 181.6 213.0 178.8 214.7 175.8 216.3 172.7 217.8 169.5 219.1 166.2 220.2 162.8 221.1 159.3 221.8 155.8 222.2 152.3 222.5 148.7 222.6 145.1 222.5 141.5 222.1 137.9 221.4 134.5 220.5 131.0 219.2 127.7 217.8 124.5 216.1 121.4 214.2 118.5 212.0 115.7 209.8 113.0 207.3 110.4 204.8 107.9 202.2 105.5 199.6 103.2 196.9 101.0 194.1 98.8 191.4 96.6 188.5 94.5 185.7 92.4 182.8 90.3 179.8 88.2 176.8 86.2 173.7 84.3 170.5 82.5 167.2 80.7 163.8 79.0 160.3 77.4 156.8 75.8 153.1 74.3 149.4 73.0 145.5Z" fill="#4dffb2"/>
<path d="M74.0 141.5 73.0 137.5 72.1 133.5 71.5 129.3 71.2 125.1 71.2 120.9 71.6 116.7 72.4 112.6 73.7 108.6 75.3 104.8 77.3 101.1 79.6 97.6 82.1 94.3 84.7 91.2 87.5 88.2 90.4 85.3 93.3 82.5 96.3 79.8 99.3 77.3 102.5 74.9 105.7 72.7 109.0 70.7 112.5 68.9 116.0 67.4 119.6 66.0 123.2 64.9 126.9 64.0 130.6 63.3 134.2 62.8 137.9 62.4 141.5 62.3 145.1 62.3 148.7 62.5 152.2 62.8 155.7 63.2 159.1 63.6 162.4 64.1 165.7 64.6 169.0 65.2 172.2 65.8 175.4 66.6 178.6 67.3 181.7 68.2 184.8 69.1 187.9 70.1 191.0 71.1 194.1 72.2 197.2 73.5 200.2 74.9 203.1 76.4 206.0 78.2 208.8 80.0 211.5 82.0 214.1 84.1 216.7 86.2 219.3 88.4 221.9 90.7 224.5 93.0 227.2 95.3 229.9 97.7 232.6 100.2 235.3 102.9 238.0 105.6 240.5 108.6 242.9 111.7 245.1 115.0 247.0 118.4 248.4 122.1 249.4 125.9 250.0 129.8 250.1 133.7 249.8 137.6 249.1 141.5 247.9 145.3 246.4 149.0 244.5 152.5 242.4 155.9 240.2 159.1 237.9 162.1 235.5 165.0 233.1 167.7 230.7 170.3 228.3 172.8 225.9 175.1 223.5 177.4 221.1 179.6 218.7 181.6 216.3 183.6 213.9 185.5 211.6 187.4 209.3 189.2 207.1 191.1 204.8 192.9 202.5 194.8 200.3 196.6 198.0 198.3 195.7 200.1 193.3 202.0 190.9 203.8 188.5 205.7 186.0 207.5 183.4 209.4 180.7 211.1 177.9 212.8 175.0 214.3 172.0 215.8 168.9 217.0 165.7 218.1 162.4 219.0 159.0 219.6 155.6 220.1 152.2 220.4 148.7 220.5 145.2 220.3 141.7 219.9 138.3 219.3 134.9 218.3 131.6 217.2 128.4 215.7 125.3 214.1 122.3 212.2 119.4 210.2 116.7 208.0 114.0 205.6 111.5 203.2 109.1 200.7 106.8 198.1 104.5 195.5 102.3 192.8 100.2 190.1 98.1 187.3 96.0 184.5 94.0 181.7 91.9 178.8 89.9 175.9 88.0 172.9 86.2 169.7 84.4 166.5 82.7 163.2 81.0 159.9 79.4 156.4 77.9 152.8 76.5 149.2 75.1 145.4Z" fill="#66ff99"/>
<path d="M76.2 141.5 75.3 137.6 74.5 133.7 73.9 129.7 73.6 125.6 73.6 121.5 74.0 117.4 74.9 113.4 76.1 109.6 77.6 105.8 79.5 102.2 81.7 98.8 84.1 95.6 86.7 92.5 89.4 89.6 92.1 86.8 95.0 84.1 97.9 81.5 100.8 79.0 103.9 76.7 107.0 74.6 110.3 72.6 113.6 70.9 117.0 69.4 120.5 68.1 124.0 67.0 127.6 66.1 131.2 65.4 134.7 64.9 138.3 64.6 141.8 64.4 145.3 64.4 148.8 64.6 152.2 64.8 155.5 65.2 158.8 65.6 162.0 66.1 165.3 66.6 168.4 67.2 171.6 67.8 174.7 68.5 177.7 69.3 180.8 70.1 183.8 71.0 186.9 71.9 189.9 72.9 192.9 74.1 195.8 75.3 198.7 76.7 201.6 78.2 204.4 79.8 207.1 81.6 209.7 83.5 212.3 85.5 214.8 87.6 217.4 89.7 220.0 91.9 222.5 94.1 225.1 96.4 227.7 98.8 230.3 101.3 232.9 103.9 235.4 106.6 237.7 109.5 239.9 112.6 241.8 115.8 243.4 119.2 244.7 122.8 245.5 126.5 246.0 130.2 246.2 134.0 245.9 137.8 245.3 141.5 244.4 145.2 243.1 148.7 241.5 152.2 239.6 155.5 237.6 158.6 235.4 161.6 233.2 164.4 230.9 167.1 228.5 169.6 226.2 172.0 223.9 174.3 221.5 176.5 219.2 178.6 216.8 180.6 214.5 182.6 212.2 184.4 209.9 186.3 207.7 188.1 205.5 189.9 203.3 191.6 201.1 193.4 198.9 195.2 196.6 196.9 194.4 198.6 192.1 200.4 189.8 202.2 187.4 204.0 185.0 205.8 182.5 207.6 179.8 209.3 177.1 210.9 174.3 212.4 171.4 213.8 168.3 215.0 165.2 216.0 162.0 216.9 158.8 217.5 155.5 218.0 152.1 218.3 148.8 218.3 145.4 218.2 142.0 217.8 138.7 217.1 135.4 216.2 132.2 215.1 129.1 213.7 126.0 212.1 123.1 210.3 120.3 208.3 117.7 206.2 115.1 203.9 112.7 201.5 110.3 199.1 108.1 196.6 105.9 194.1 103.7 191.5 101.6 188.8 99.6 186.1 97.6 183.4 95.6 180.7 93.6 177.9 91.7 175.0 89.8 172.0 88.0 169.0 86.3 165.9 84.6 162.7 83.0 159.4 81.5 156.0 80.0 152.5 78.6 148.9 77.4 145.3Z" fill="#80ff80"/>
<path d="M78.5 141.5 77.6 137.7 76.8 133.9 76.3 130.0 76.1 126.0 76.1 122.1 76.5 118.1 77.3 114.3 78.5 110.5 80.0 106.9 81.8 103.4 83.9 100.0 86.2 96.9 88.7 93.9 91.3 91.0 93.9 88.3 96.7 85.6 99.5 83.1 102.4 80.8 105.3 78.5 108.4 76.5 111.5 74.6 114.8 72.9 118.1 71.4 121.5 70.1 124.9 69.1 128.3 68.2 131.8 67.5 135.2 67.0 138.7 66.7 142.1 66.6 145.5 66.6 148.8 66.7 152.1 66.9 155.4 67.3 158.6 67.7 161.7 68.2 164.8 68.7 167.9 69.2 170.9 69.8 173.9 70.5 176.9 71.2 179.9 72.0 182.8 72.9 185.8 73.8 188.7 74.8 191.6 75.9 194.5 77.1 197.3 78.5 200.0 79.9 202.7 81.5 205.4 83.3 207.9 85.1 210.5 87.0 213.0 89.0 215.5 91.1 218.0 93.2 220.5 95.3 223.0 97.6 225.5 99.9 228.0 102.3 230.4 104.9 232.7 107.6 234.9 110.5 236.8 113.5 238.5 116.7 239.9 120.0 241.0 123.5 241.7 127.1 242.2 130.7 242.3 134.3 242.1 137.9 241.6 141.5 240.9 145.0 239.8 148.5 238.4 151.8 236.7 155.0 234.9 158.1 232.9 161.0 230.8 163.8 228.6 166.4 226.4 168.9 224.1 171.3 221.8 173.5 219.5 175.7 217.2 177.7 215.0 179.7 212.7 181.5 210.4 183.4 208.2 185.1 206.1 186.9 203.9 188.6 201.7 190.3 199.6 192.0 197.4 193.7 195.3 195.4 193.1 197.1 190.9 198.9 188.6 200.6 186.3 202.3 184.0 204.1 181.5 205.7 179.0 207.4 176.3 208.9 173.6 210.4 170.7 211.7 167.8 212.9 164.8 213.9 161.7 214.7 158.6 215.4 155.4 215.8 152.1 216.1 148.9 216.1 145.6 216.0 142.3 215.6 139.1 215.0 135.9 214.1 132.8 213.0 129.8 211.6 126.8 210.1 124.0 208.4 121.3 206.4 118.7 204.4 116.2 202.2 113.8 199.9 111.6 197.5 109.4 195.1 107.2 192.6 105.1 190.1 103.1 187.5 101.1 184.9 99.2 182.3 97.2 179.6 95.3 176.9 93.5 174.1 91.7 171.2 89.9 168.2 88.2 165.2 86.6 162.1 85.1 158.9 83.6 155.6 82.1 152.2 80.8 148.7 79.6 145.2Z" fill="#99ff66"/>
<path d="M80.9 141.5 80.0 137.8 79.3 134.1 78.8 130.3 78.6 126.5 78.7 122.7 79.1 118.8 79.8 115.1 80.9 111.4 82.4 107.9 84.1 104.5 86.1 101.3 88.3 98.2 90.7 95.2 93.2 92.4 95.8 89.8 98.4 87.2 101.1 84.8 103.9 82.5 106.8 80.4 109.8 78.4 112.8 76.5 116.0 74.9 119.2 73.5 122.4 72.2 125.7 71.2 129.1 70.3 132.4 69.7 135.7 69.2 139.1 68.9 142.4 68.7 145.7 68.7 148.9 68.8 152.1 69.0 155.2 69.4 158.3 69.8 161.4 70.2 164.4 70.7 167.4 71.2 170.3 71.8 173.2 72.5 176.1 73.2 179.0 74.0 181.8 74.8 184.7 75.7 187.5 76.7 190.3 77.8 193.1 78.9 195.8 80.2 198.5 81.7 201.1 83.2 203.7 84.9 206.2 86.7 208.6 88.5 211.1 90.4 213.5 92.4 216.0 94.5 218.4 96.6 220.8 98.8 223.2 101.0 225.6 103.4 227.8 106.0 230.0 108.6 232.0 111.5 233.7 114.5 235.2 117.6 236.5 120.8 237.4 124.2 238.0 127.6 238.4 131.1 238.5 134.6 238.4 138.0 238.0 141.5 237.4 144.9 236.4 148.2 235.2 151.5 233.7 154.6 232.1 157.6 230.2 160.5 228.3 163.2 226.2 165.7 224.1 168.2 221.9 170.5 219.7 172.7 217.5 174.8 215.3 176.8 213.1 178.7 210.9 180.5 208.7 182.3 206.5 184.0 204.4 185.7 202.3 187.4 200.2 189.0 198.1 190.7 196.0 192.3 193.9 194.0 191.8 195.6 189.6 197.3 187.5 199.0 185.2 200.6 182.9 202.3 180.5 203.9 178.1 205.5 175.5 207.0 172.9 208.4 170.1 209.7 167.3 210.8 164.4 211.8 161.4 212.6 158.3 213.2 155.2 213.7 152.1 213.9 148.9 213.9 145.8 213.8 142.6 213.4 139.5 212.8 136.4 211.9 133.4 210.9 130.5 209.6 127.6 208.1 124.9 206.4 122.3 204.5 119.8 202.5 117.3 200.4 115.0 198.2 112.8 195.9 110.7 193.6 108.6 191.2 106.6 188.7 104.6 186.2 102.7 183.7 100.8 181.1 98.9 178.5 97.1 175.9 95.3 173.1 93.6 170.4 91.9 167.5 90.2 164.5 88.7 161.5 87.1 158.4 85.7 155.2 84.3 151.9 83.1 148.5 81.9 145.1Z" fill="#b2ff4d"/>
<path d="M83.3 141.5 82.4 138.0 81.8 134.3 81.3 130.7 81.1 127.0 81.2 123.2 81.7 119.6 82.4 115.9 83.5 112.4 84.8 108.9 86.5 105.6 88.4 102.5 90.5 99.5 92.8 96.6 95.1 93.9 97.6 91.3 100.2 88.8 102.8 86.5 105.6 84.3 108.4 82.2 111.2 80.2 114.2 78.5 117.2 76.9 120.3 75.5 123.4 74.3 126.6 73.3 129.9 72.5 133.1 71.8 136.3 71.3 139.5 71.0 142.7 70.9 145.9 70.8 149.0 70.9 152.1 71.2 155.1 71.5 158.1 71.8 161.1 72.3 164.0 72.7 166.9 73.3 169.7 73.8 172.5 74.5 175.3 75.2 178.1 75.9 180.9 76.7 183.6 77.6 186.4 78.6 189.1 79.6 191.7 80.8 194.4 82.0 197.0 83.4 199.5 84.9 202.0 86.5 204.4 88.2 206.8 90.0 209.2 91.9 211.6 93.8 213.9 95.8 216.3 97.8 218.6 100.0 220.9 102.2 223.1 104.6 225.2 107.1 227.2 109.7 229.0 112.5 230.6 115.4 232.0 118.4 233.1 121.6 233.9 124.9 234.4 128.2 234.8 131.5 234.9 134.8 234.8 138.2 234.5 141.5 233.9 144.8 233.1 148.0 232.1 151.1 230.8 154.2 229.3 157.1 227.6 159.9 225.8 162.5 223.9 165.1 221.8 167.5 219.8 169.7 217.7 171.9 215.5 173.9 213.4 175.9 211.2 177.7 209.1 179.5 207.0 181.2 204.9 182.9 202.8 184.5 200.7 186.1 198.7 187.7 196.7 189.3 194.6 190.9 192.6 192.5 190.5 194.1 188.4 195.7 186.3 197.3 184.2 198.9 181.9 200.5 179.6 202.1 177.2 203.6 174.7 205.1 172.2 206.4 169.5 207.6 166.8 208.7 164.0 209.7 161.1 210.5 158.1 211.1 155.1 211.5 152.1 211.7 149.1 211.8 146.0 211.6 143.0 211.2 139.9 210.6 137.0 209.8 134.1 208.8 131.2 207.5 128.5 206.1 125.8 204.4 123.3 202.7 120.9 200.7 118.5 198.7 116.3 196.6 114.1 194.3 112.0 192.1 110.0 189.7 108.1 187.4 106.2 184.9 104.3 182.5 102.5 180.0 100.7 177.5 98.9 174.9 97.2 172.2 95.5 169.5 93.8 166.7 92.3 163.9 90.7 160.9 89.3 157.9 87.9 154.8 86.6 151.6 85.4 148.3 84.2 145.0Z" fill="#ccff33"/>
<path d="M85.7 141.5 84.9 138.1 84.3 134.6 83.9 131.0 83.8 127.4 83.9 123.8 84.3 120.3 85.0 116.8 86.0 113.3 87.3 110.0 88.9 106.8 90.7 103.7 92.7 100.8 94.9 98.0 97.2 95.4 99.6 92.8 102.0 90.4 104.6 88.2 107.2 86.0 109.9 84.0 112.7 82.1 115.6 80.4 118.5 78.9 121.5 77.6 124.5 76.4 127.6 75.4 130.7 74.6 133.8 74.0 136.9 73.5 140.0 73.2 143.1 73.0 146.1 73.0 149.2 73.1 152.1 73.3 155.1 73.6 157.9 73.9 160.8 74.3 163.6 74.8 166.4 75.3 169.1 75.9 171.9 76.5 174.6 77.2 177.3 77.9 179.9 78.7 182.6 79.5 185.2 80.5 187.8 81.5 190.4 82.6 192.9 83.8 195.5 85.2 197.9 86.6 200.3 88.2 202.7 89.8 205.0 91.5 207.3 93.3 209.6 95.2 211.9 97.1 214.1 99.1 216.4 101.2 218.5 103.4 220.6 105.7 222.6 108.2 224.5 110.8 226.1 113.5 227.6 116.3 228.8 119.3 229.7 122.4 230.5 125.5 231.0 128.7 231.3 131.9 231.4 135.1 231.3 138.3 231.0 141.5 230.6 144.7 229.9 147.8 229.0 150.8 227.8 153.7 226.5 156.6 224.9 159.3 223.2 161.9 221.4 164.4 219.6 166.7 217.6 168.9 215.6 171.0 213.5 173.0 211.4 174.9 209.4 176.7 207.3 178.4 205.2 180.1 203.2 181.7 201.2 183.3 199.2 184.9 197.2 186.4 195.2 188.0 193.3 189.5 191.3 191.0 189.3 192.6 187.3 194.1 185.2 195.7 183.1 197.2 180.9 198.8 178.7 200.3 176.4 201.7 174.0 203.1 171.5 204.4 168.9 205.6 166.3 206.6 163.6 207.5 160.8 208.3 158.0 208.9 155.1 209.3 152.2 209.5 149.2 209.5 146.3 209.4 143.3 209.0 140.4 208.4 137.6 207.6 134.8 206.6 132.0 205.4 129.4 204.0 126.8 202.5 124.4 200.7 122.0 198.9 119.7 196.9 117.6 194.9 115.5 192.7 113.5 190.5 111.5 188.3 109.6 186.0 107.8 183.6 106.0 181.3 104.2 178.9 102.4 176.4 100.7 173.9 99.1 171.3 97.5 168.7 95.9 166.0 94.4 163.2 92.9 160.3 91.5 157.4 90.1 154.4 88.9 151.3 87.7 148.1 86.6 144.9Z" fill="#e6ff19"/>
<path d="M88.2 141.5 87.4 138.2 86.9 134.8 86.5 131.4 86.4 127.9 86.5 124.4 86.9 121.0 87.6 117.6 88.6 114.3 89.8 111.1 91.3 108.0 93.0 105.0 95.0 102.2 97.0 99.4 99.2 96.9 101.5 94.4 103.9 92.1 106.4 89.9 108.9 87.8 111.5 85.9 114.2 84.1 116.9 82.5 119.7 81.0 122.6 79.7 125.5 78.5 128.5 77.6 131.5 76.8 134.5 76.2 137.5 75.7 140.5 75.4 143.4 75.2 146.4 75.2 149.3 75.3 152.1 75.5 155.0 75.7 157.7 76.1 160.5 76.5 163.2 76.9 165.9 77.4 168.5 77.9 171.2 78.5 173.8 79.2 176.4 79.9 178.9 80.7 181.5 81.5 184.0 82.4 186.5 83.4 189.0 84.5 191.5 85.7 193.9 87.0 196.3 88.4 198.6 89.8 200.9 91.4 203.2 93.1 205.4 94.8 207.6 96.6 209.8 98.5 211.9 100.4 214.1 102.5 216.1 104.7 218.1 106.9 219.9 109.3 221.6 111.8 223.2 114.5 224.5 117.3 225.6 120.2 226.4 123.1 227.1 126.2 227.5 129.2 227.8 132.3 227.9 135.4 227.8 138.4 227.6 141.5 227.2 144.5 226.6 147.5 225.8 150.4 224.8 153.3 223.6 156.0 222.2 158.7 220.6 161.2 219.0 163.6 217.2 165.9 215.3 168.1 213.4 170.1 211.4 172.1 209.4 173.9 207.4 175.7 205.4 177.4 203.4 179.0 201.5 180.5 199.5 182.1 197.6 183.6 195.7 185.1 193.7 186.6 191.8 188.0 189.9 189.5 188.0 191.0 186.0 192.5 184.0 194.0 182.0 195.5 179.9 197.0 177.7 198.4 175.5 199.8 173.2 201.1 170.8 202.4 168.3 203.5 165.8 204.5 163.2 205.4 160.5 206.1 157.8 206.6 155.0 207.0 152.2 207.2 149.3 207.3 146.5 207.1 143.7 206.7 140.9 206.2 138.1 205.4 135.4 204.4 132.8 203.3 130.2 201.9 127.8 200.4 125.4 198.8 123.1 197.0 120.9 195.1 118.8 193.1 116.8 191.1 114.9 189.0 113.0 186.8 111.1 184.6 109.3 182.3 107.6 180.0 105.9 177.7 104.2 175.3 102.6 172.9 101.0 170.4 99.4 167.8 97.9 165.2 96.4 162.5 95.0 159.7 93.7 156.9 92.4 154.0 91.2 151.0 90.1 147.9 89.0 144.7Z" fill="#ffff00"/>
<path d="M90.6 141.5 89.9 138.3 89.4 135.0 89.0 131.7 88.9 128.4 89.1 125.1 89.5 121.7 90.2 118.5 91.1 115.3 92.3 112.2 93.7 109.2 95.3 106.3 97.1 103.5 99.1 100.9 101.2 98.4 103.4 96.1 105.7 93.8 108.1 91.7 110.5 89.7 113.0 87.8 115.6 86.1 118.2 84.5 121.0 83.1 123.7 81.8 126.5 80.7 129.4 79.8 132.2 79.0 135.1 78.4 138.0 78.0 140.9 77.7 143.7 77.5 146.5 77.5 149.3 77.5 152.1 77.7 154.8 77.9 157.5 78.3 160.1 78.6 162.7 79.1 165.3 79.5 167.9 80.1 170.4 80.6 172.9 81.3 175.4 82.0 177.9 82.7 180.3 83.5 182.8 84.4 185.2 85.4 187.6 86.4 190.0 87.6 192.3 88.8 194.6 90.1 196.8 91.6 199.0 93.1 201.2 94.7 203.4 96.4 205.5 98.1 207.6 99.9 209.6 101.8 211.7 103.8 213.6 105.9 215.4 108.2 217.2 110.5 218.7 113.0 220.1 115.5 221.3 118.2 222.3 121.0 223.1 123.9 223.7 126.8 224.1 129.7 224.3 132.7 224.4 135.6 224.4 138.6 224.2 141.5 223.9 144.4 223.4 147.3 222.7 150.1 221.8 152.8 220.7 155.5 219.4 158.1 218.0 160.5 216.4 162.9 214.7 165.1 213.0 167.2 211.1 169.2 209.3 171.1 207.4 172.9 205.4 174.6 203.5 176.2 201.6 177.8 199.7 179.3 197.8 180.8 195.9 182.2 194.0 183.7 192.2 185.1 190.3 186.5 188.5 188.0 186.6 189.4 184.7 190.8 182.8 192.3 180.8 193.7 178.8 195.1 176.7 196.5 174.6 197.8 172.4 199.1 170.1 200.3 167.7 201.3 165.2 202.3 162.7 203.1 160.1 203.8 157.5 204.4 154.8 204.7 152.1 204.9 149.4 204.9 146.7 204.8 144.0 204.4 141.3 203.9 138.6 203.1 136.0 202.2 133.5 201.1 131.1 199.8 128.7 198.4 126.4 196.8 124.2 195.1 122.1 193.3 120.0 191.4 118.1 189.4 116.2 187.4 114.4 185.3 112.6 183.1 110.9 180.9 109.2 178.7 107.6 176.5 105.9 174.2 104.4 171.8 102.8 169.4 101.3 166.9 99.9 164.4 98.5 161.8 97.1 159.1 95.8 156.4 94.6 153.6 93.4 150.7 92.4 147.7 91.4 144.6Z" fill="#ffe400"/>
<path d="M92.9 141.5 92.2 138.4 91.7 135.3 91.5 132.1 91.4 128.9 91.5 125.7 91.9 122.5 92.6 119.3 93.5 116.3 94.6 113.3 95.9 110.4 97.5 107.6 99.2 104.9 101.1 102.4 103.1 100.0 105.2 97.7 107.4 95.6 109.6 93.5 112.0 91.6 114.4 89.8 116.9 88.1 119.4 86.6 122.0 85.2 124.7 84.0 127.4 83.0 130.1 82.1 132.9 81.3 135.6 80.8 138.4 80.3 141.1 80.0 143.9 79.8 146.6 79.8 149.3 79.8 151.9 80.0 154.5 80.2 157.1 80.5 159.7 80.9 162.2 81.3 164.6 81.7 167.1 82.2 169.5 82.8 171.9 83.4 174.3 84.1 176.7 84.8 179.1 85.6 181.4 86.5 183.7 87.4 186.0 88.4 188.3 89.5 190.5 90.7 192.7 92.0 194.9 93.4 197.0 94.8 199.1 96.4 201.2 98.0 203.3 99.7 205.3 101.4 207.2 103.2 209.2 105.2 211.0 107.2 212.8 109.4 214.5 111.6 216.0 114.0 217.3 116.5 218.4 119.1 219.4 121.8 220.1 124.5 220.6 127.3 221.0 130.2 221.3 133.0 221.4 135.8 221.4 138.7 221.2 141.5 220.9 144.3 220.4 147.1 219.7 149.8 218.8 152.4 217.8 155.0 216.6 157.5 215.2 159.9 213.7 162.1 212.1 164.3 210.4 166.3 208.7 168.2 206.9 170.1 205.0 171.8 203.2 173.4 201.4 175.0 199.5 176.5 197.7 178.0 195.9 179.4 194.1 180.8 192.3 182.2 190.5 183.6 188.7 185.0 186.9 186.3 185.1 187.7 183.3 189.1 181.5 190.5 179.6 191.8 177.6 193.2 175.6 194.5 173.5 195.8 171.4 197.0 169.2 198.1 166.9 199.1 164.5 200.1 162.1 200.9 159.7 201.5 157.1 202.0 154.6 202.4 152.0 202.6 149.4 202.6 146.8 202.4 144.2 202.1 141.6 201.5 139.0 200.8 136.5 199.9 134.1 198.9 131.8 197.6 129.5 196.3 127.3 194.7 125.1 193.1 123.1 191.4 121.1 189.6 119.3 187.7 117.4 185.7 115.7 183.7 114.0 181.6 112.3 179.5 110.7 177.4 109.1 175.2 107.6 173.0 106.1 170.7 104.6 168.4 103.1 166.0 101.7 163.6 100.4 161.1 99.1 158.5 97.8 155.9 96.7 153.1 95.6 150.3 94.6 147.5 93.6 144.5Z" fill="#ffc900"/>
<path d="M95.0 141.5 94.4 138.5 94.0 135.5 93.8 132.5 93.7 129.4 93.9 126.3 94.2 123.3 94.9 120.2 95.7 117.3 96.8 114.4 98.1 111.6 99.5 108.9 101.2 106.4 102.9 103.9 104.8 101.6 106.8 99.4 108.9 97.3 111.1 95.4 113.4 93.5 115.7 91.8 118.1 90.2 120.5 88.7 123.0 87.4 125.6 86.3 128.1 85.2 130.7 84.4 133.4 83.7 136.0 83.1 138.7 82.7 141.3 82.4 143.9 82.2 146.5 82.1 149.1 82.2 151.6 82.3 154.1 82.5 156.6 82.8 159.1 83.1 161.5 83.5 163.8 84.0 166.2 84.5 168.5 85.0 170.8 85.6 173.1 86.2 175.4 86.9 177.7 87.7 179.9 88.5 182.2 89.4 184.4 90.4 186.5 91.5 188.7 92.7 190.8 93.9 192.9 95.2 194.9 96.6 196.9 98.1 198.9 99.6 200.9 101.2 202.8 102.9 204.7 104.7 206.6 106.5 208.3 108.5 210.0 110.6 211.6 112.8 213.0 115.1 214.3 117.5 215.4 120.0 216.3 122.5 217.0 125.2 217.5 127.9 217.9 130.6 218.1 133.3 218.2 136.1 218.2 138.8 218.0 141.5 217.7 144.2 217.3 146.9 216.6 149.5 215.8 152.0 214.8 154.5 213.6 156.9 212.3 159.2 210.9 161.3 209.4 163.4 207.8 165.4 206.1 167.2 204.4 169.0 202.6 170.7 200.8 172.2 199.1 173.8 197.3 175.2 195.6 176.6 193.8 178.0 192.1 179.4 190.4 180.7 188.7 182.0 187.0 183.4 185.2 184.7 183.5 186.0 181.8 187.3 180.0 188.6 178.2 190.0 176.3 191.2 174.4 192.5 172.4 193.7 170.3 194.9 168.2 195.9 166.0 196.9 163.7 197.8 161.4 198.5 159.1 199.2 156.6 199.7 154.2 200.0 151.7 200.2 149.2 200.2 146.7 200.0 144.2 199.7 141.7 199.2 139.3 198.5 136.9 197.6 134.6 196.6 132.3 195.4 130.1 194.1 128.0 192.7 126.0 191.1 124.0 189.5 122.1 187.7 120.3 185.9 118.6 184.0 116.9 182.1 115.2 180.1 113.6 178.1 112.1 176.1 110.5 174.0 109.1 171.8 107.6 169.6 106.2 167.4 104.8 165.1 103.5 162.8 102.2 160.3 100.9 157.9 99.8 155.3 98.6 152.7 97.6 150.0 96.6 147.2 95.8 144.4Z" fill="#ffae00"/>
<path d="M97.1 141.5 96.5 138.7 96.1 135.8 95.9 132.8 95.9 129.9 96.0 126.9 96.4 124.0 97.0 121.1 97.8 118.3 98.8 115.5 100.0 112.9 101.4 110.3 103.0 107.8 104.7 105.5 106.5 103.2 108.4 101.1 110.4 99.1 112.5 97.2 114.6 95.4 116.8 93.8 119.1 92.3 121.5 90.9 123.9 89.6 126.3 88.5 128.8 87.5 131.3 86.7 133.8 86.0 136.3 85.4 138.8 85.0 141.4 84.7 143.9 84.6 146.3 84.5 148.8 84.5 151.2 84.6 153.6 84.8 156.0 85.1 158.3 85.4 160.7 85.8 162.9 86.2 165.2 86.7 167.4 87.2 169.6 87.8 171.8 88.4 174.0 89.1 176.2 89.8 178.3 90.6 180.5 91.5 182.6 92.5 184.7 93.5 186.7 94.6 188.7 95.8 190.7 97.0 192.7 98.4 194.6 99.8 196.5 101.3 198.4 102.8 200.3 104.4 202.1 106.1 203.9 107.9 205.6 109.8 207.2 111.8 208.7 113.9 210.0 116.1 211.2 118.4 212.3 120.8 213.1 123.3 213.8 125.8 214.3 128.4 214.7 131.0 214.9 133.7 215.0 136.3 215.0 138.9 214.8 141.5 214.5 144.1 214.1 146.6 213.4 149.1 212.7 151.6 211.7 154.0 210.6 156.3 209.4 158.5 208.0 160.5 206.5 162.5 205.0 164.4 203.4 166.2 201.8 167.9 200.1 169.5 198.4 171.0 196.7 172.5 195.0 173.9 193.3 175.3 191.7 176.6 190.0 177.9 188.4 179.2 186.7 180.5 185.1 181.8 183.5 183.0 181.8 184.3 180.1 185.6 178.4 186.8 176.7 188.1 174.9 189.3 173.0 190.5 171.1 191.6 169.1 192.7 167.1 193.8 165.0 194.7 162.8 195.5 160.6 196.2 158.3 196.8 156.0 197.3 153.7 197.6 151.3 197.8 148.9 197.8 146.5 197.6 144.2 197.3 141.8 196.8 139.5 196.1 137.2 195.3 135.0 194.3 132.8 193.2 130.7 192.0 128.7 190.6 126.7 189.1 124.8 187.5 123.0 185.9 121.2 184.2 119.6 182.4 117.9 180.5 116.3 178.6 114.8 176.7 113.3 174.7 111.9 172.7 110.4 170.6 109.0 168.5 107.7 166.4 106.4 164.2 105.1 161.9 103.9 159.6 102.7 157.2 101.5 154.8 100.5 152.2 99.5 149.7 98.6 147.0 97.8 144.3Z" fill="#ff9400"/>
<path d="M99.1 141.5 98.6 138.8 98.2 136.0 98.0 133.2 98.0 130.4 98.1 127.6 98.5 124.8 99.1 122.0 99.8 119.3 100.8 116.7 101.9 114.1 103.3 111.7 104.7 109.3 106.3 107.0 108.0 104.9 109.8 102.8 111.7 100.9 113.7 99.1 115.8 97.4 117.9 95.8 120.1 94.4 122.3 93.0 124.6 91.8 126.9 90.8 129.3 89.8 131.7 89.0 134.1 88.4 136.5 87.8 138.9 87.4 141.3 87.1 143.7 87.0 146.1 86.9 148.4 86.9 150.7 87.0 153.0 87.2 155.3 87.4 157.5 87.7 159.7 88.1 161.9 88.5 164.1 89.0 166.2 89.5 168.3 90.0 170.4 90.6 172.5 91.3 174.6 92.0 176.6 92.8 178.7 93.6 180.7 94.5 182.7 95.5 184.6 96.6 186.5 97.7 188.4 98.9 190.3 100.2 192.2 101.5 194.0 103.0 195.8 104.4 197.6 106.0 199.3 107.6 201.0 109.3 202.6 111.1 204.2 113.1 205.6 115.1 206.9 117.2 208.0 119.4 209.0 121.7 209.8 124.1 210.5 126.5 210.9 129.0 211.3 131.5 211.5 134.0 211.6 136.5 211.6 139.0 211.4 141.5 211.1 144.0 210.7 146.4 210.1 148.8 209.4 151.2 208.5 153.4 207.4 155.6 206.3 157.7 205.0 159.7 203.6 161.7 202.1 163.5 200.6 165.2 199.0 166.8 197.4 168.3 195.8 169.8 194.2 171.2 192.6 172.6 191.0 173.9 189.4 175.2 187.8 176.4 186.2 177.7 184.7 178.9 183.1 180.1 181.5 181.3 179.9 182.5 178.3 183.7 176.7 184.9 175.0 186.1 173.3 187.3 171.5 188.4 169.7 189.5 167.8 190.6 165.9 191.5 163.9 192.4 161.8 193.2 159.7 193.9 157.5 194.4 155.3 194.9 153.1 195.2 150.8 195.3 148.5 195.3 146.3 195.1 144.0 194.8 141.7 194.4 139.5 193.7 137.3 193.0 135.2 192.0 133.1 191.0 131.1 189.8 129.2 188.5 127.3 187.1 125.5 185.6 123.8 184.0 122.1 182.4 120.5 180.6 118.9 178.9 117.4 177.1 115.9 175.2 114.5 173.3 113.1 171.4 111.7 169.4 110.4 167.4 109.1 165.4 107.9 163.2 106.6 161.1 105.5 158.8 104.3 156.6 103.3 154.2 102.2 151.8 101.3 149.3 100.5 146.8 99.7 144.2Z" fill="#ff7900"/>
<path d="M101.0 141.5 100.6 138.9 100.2 136.3 100.1 133.6 100.0 130.9 100.2 128.3 100.6 125.6 101.1 123.0 101.8 120.4 102.7 117.9 103.8 115.4 105.0 113.1 106.4 110.8 107.9 108.7 109.5 106.6 111.3 104.7 113.1 102.8 115.0 101.1 116.9 99.5 118.9 98.0 121.0 96.6 123.1 95.3 125.3 94.2 127.5 93.2 129.7 92.3 132.0 91.5 134.3 90.9 136.6 90.3 138.9 90.0 141.1 89.7 143.4 89.5 145.7 89.4 147.9 89.4 150.1 89.5 152.3 89.7 154.4 89.9 156.6 90.2 158.7 90.5 160.8 90.9 162.8 91.3 164.8 91.8 166.9 92.4 168.9 92.9 170.8 93.6 172.8 94.3 174.8 95.0 176.7 95.8 178.6 96.7 180.5 97.6 182.3 98.7 184.2 99.7 186.0 100.9 187.8 102.1 189.6 103.4 191.3 104.7 193.0 106.1 194.7 107.6 196.4 109.2 198.0 110.8 199.5 112.5 200.9 114.4 202.3 116.3 203.5 118.3 204.6 120.4 205.5 122.6 206.3 124.9 206.9 127.2 207.4 129.6 207.7 132.0 207.9 134.3 208.0 136.7 208.0 139.1 207.8 141.5 207.6 143.9 207.1 146.2 206.6 148.5 205.9 150.7 205.0 152.9 204.0 155.0 202.9 157.0 201.7 158.9 200.4 160.7 199.0 162.5 197.5 164.1 196.1 165.7 194.6 167.1 193.0 168.5 191.5 169.9 190.0 171.2 188.4 172.4 186.9 173.7 185.4 174.9 183.9 176.0 182.4 177.2 181.0 178.4 179.5 179.5 177.9 180.7 176.4 181.8 174.8 183.0 173.2 184.1 171.6 185.2 169.9 186.3 168.2 187.3 166.4 188.3 164.5 189.2 162.6 190.0 160.6 190.8 158.6 191.4 156.6 191.9 154.5 192.3 152.4 192.6 150.2 192.7 148.0 192.7 145.9 192.6 143.7 192.3 141.6 191.8 139.5 191.2 137.4 190.5 135.4 189.6 133.4 188.6 131.5 187.5 129.6 186.3 127.9 184.9 126.1 183.5 124.5 182.0 122.9 180.5 121.3 178.8 119.8 177.2 118.4 175.5 117.0 173.7 115.6 171.9 114.3 170.0 113.0 168.2 111.7 166.2 110.5 164.3 109.3 162.2 108.1 160.2 107.0 158.1 106.0 155.9 104.9 153.6 104.0 151.3 103.1 149.0 102.3 146.5 101.6 144.0Z" fill="#ff5e00"/>
<path d="M102.9 141.5 102.5 139.0 102.2 136.5 102.0 134.0 102.0 131.5 102.2 129.0 102.5 126.4 103.0 123.9 103.7 121.5 104.6 119.1 105.6 116.8 106.7 114.6 108.0 112.4 109.4 110.4 111.0 108.4 112.6 106.5 114.3 104.8 116.1 103.2 117.9 101.6 119.8 100.2 121.8 98.9 123.8 97.7 125.9 96.6 127.9 95.6 130.1 94.8 132.2 94.0 134.4 93.4 136.5 92.9 138.7 92.6 140.9 92.3 143.0 92.1 145.1 92.0 147.3 92.0 149.3 92.1 151.4 92.2 153.5 92.4 155.5 92.7 157.5 93.0 159.4 93.4 161.4 93.8 163.3 94.3 165.2 94.8 167.1 95.3 169.0 95.9 170.9 96.6 172.7 97.3 174.5 98.1 176.3 98.9 178.1 99.8 179.9 100.8 181.6 101.8 183.4 102.9 185.1 104.1 186.7 105.3 188.4 106.5 190.0 107.9 191.6 109.3 193.2 110.8 194.7 112.3 196.1 114.0 197.5 115.7 198.8 117.6 199.9 119.5 200.9 121.5 201.8 123.6 202.5 125.7 203.1 127.9 203.6 130.2 203.9 132.4 204.1 134.7 204.2 137.0 204.2 139.2 204.0 141.5 203.7 143.7 203.4 145.9 202.8 148.1 202.2 150.2 201.4 152.3 200.4 154.3 199.4 156.2 198.2 158.0 197.0 159.8 195.7 161.4 194.3 163.0 192.9 164.5 191.5 165.9 190.0 167.2 188.6 168.5 187.2 169.7 185.7 170.9 184.3 172.1 182.9 173.2 181.4 174.4 180.0 175.5 178.6 176.6 177.2 177.7 175.7 178.8 174.3 179.9 172.8 181.0 171.3 182.0 169.7 183.1 168.1 184.1 166.5 185.0 164.7 185.9 163.0 186.8 161.2 187.6 159.3 188.3 157.4 188.9 155.5 189.3 153.5 189.7 151.5 190.0 149.4 190.1 147.4 190.1 145.4 189.9 143.3 189.7 141.3 189.2 139.3 188.7 137.3 188.0 135.4 187.2 133.6 186.2 131.7 185.2 130.0 184.0 128.3 182.7 126.6 181.4 125.1 180.0 123.5 178.5 122.1 177.0 120.6 175.4 119.3 173.8 117.9 172.1 116.6 170.4 115.4 168.6 114.1 166.9 112.9 165.0 111.8 163.1 110.6 161.2 109.5 159.3 108.5 157.2 107.5 155.2 106.5 153.0 105.6 150.8 104.8 148.6 104.1 146.3 103.4 143.9Z" fill="#ff4300"/>
<path d="M104.4 141.5 104.0 139.2 103.7 136.8 103.6 134.4 103.6 132.0 103.8 129.7 104.1 127.3 104.6 124.9 105.2 122.6 106.0 120.4 107.0 118.2 108.1 116.0 109.3 114.0 110.6 112.1 112.0 110.2 113.5 108.5 115.1 106.8 116.8 105.2 118.6 103.8 120.4 102.4 122.2 101.2 124.1 100.0 126.0 99.0 128.0 98.1 130.0 97.3 132.0 96.6 134.1 96.0 136.1 95.6 138.2 95.2 140.2 94.9 142.2 94.7 144.2 94.7 146.2 94.6 148.2 94.7 150.2 94.8 152.1 95.0 154.0 95.3 155.9 95.6 157.7 95.9 159.6 96.3 161.4 96.8 163.2 97.3 165.0 97.8 166.8 98.4 168.5 99.0 170.3 99.7 172.0 100.4 173.7 101.2 175.4 102.1 177.1 103.0 178.7 103.9 180.3 105.0 181.9 106.0 183.5 107.2 185.1 108.4 186.6 109.7 188.1 111.0 189.6 112.4 191.0 113.9 192.4 115.5 193.7 117.1 194.9 118.9 195.9 120.7 196.9 122.6 197.7 124.6 198.4 126.6 199.0 128.7 199.4 130.8 199.7 132.9 199.9 135.1 200.0 137.2 199.9 139.4 199.8 141.5 199.6 143.6 199.2 145.7 198.7 147.8 198.1 149.8 197.3 151.7 196.4 153.6 195.5 155.4 194.4 157.1 193.2 158.8 192.0 160.4 190.7 161.8 189.4 163.2 188.0 164.6 186.7 165.9 185.3 167.1 183.9 168.3 182.6 169.4 181.2 170.5 179.9 171.6 178.6 172.7 177.2 173.7 175.9 174.8 174.5 175.8 173.2 176.8 171.8 177.9 170.4 178.9 168.9 179.9 167.5 180.9 165.9 181.8 164.4 182.7 162.8 183.6 161.1 184.4 159.4 185.1 157.6 185.7 155.8 186.3 154.0 186.7 152.1 187.1 150.2 187.3 148.3 187.4 146.4 187.4 144.5 187.3 142.5 187.0 140.6 186.6 138.8 186.1 136.9 185.4 135.1 184.7 133.3 183.8 131.6 182.8 129.9 181.7 128.3 180.5 126.8 179.3 125.3 177.9 123.8 176.5 122.4 175.1 121.1 173.6 119.8 172.1 118.5 170.5 117.3 168.9 116.1 167.2 114.9 165.5 113.8 163.8 112.7 162.0 111.6 160.2 110.6 158.3 109.6 156.4 108.7 154.4 107.8 152.4 106.9 150.3 106.2 148.2 105.5 146.0 104.9 143.8Z" fill="#ff2800"/>
<path d="M105.8 141.5 105.4 139.3 105.2 137.1 105.1 134.9 105.1 132.6 105.3 130.4 105.6 128.1 106.0 125.9 106.6 123.8 107.4 121.6 108.3 119.6 109.3 117.6 110.4 115.7 111.6 113.8 112.9 112.1 114.4 110.4 115.9 108.9 117.4 107.4 119.1 106.0 120.7 104.8 122.5 103.6 124.3 102.5 126.1 101.6 127.9 100.7 129.8 99.9 131.7 99.3 133.6 98.7 135.5 98.3 137.4 97.9 139.3 97.7 141.2 97.5 143.1 97.4 145.0 97.4 146.8 97.4 148.7 97.6 150.5 97.7 152.3 98.0 154.1 98.3 155.8 98.6 157.5 99.0 159.2 99.4 160.9 99.8 162.6 100.3 164.3 100.9 165.9 101.5 167.6 102.1 169.2 102.8 170.8 103.6 172.4 104.4 173.9 105.2 175.5 106.1 177.0 107.1 178.5 108.1 180.0 109.2 181.5 110.3 182.9 111.5 184.3 112.8 185.7 114.1 187.1 115.5 188.3 117.0 189.5 118.6 190.6 120.2 191.6 121.9 192.5 123.7 193.3 125.6 193.9 127.5 194.5 129.4 194.9 131.4 195.2 133.4 195.3 135.5 195.4 137.5 195.4 139.5 195.3 141.5 195.0 143.5 194.7 145.5 194.2 147.4 193.6 149.3 192.9 151.1 192.1 152.9 191.2 154.6 190.2 156.2 189.1 157.8 187.9 159.2 186.8 160.6 185.5 162.0 184.3 163.2 183.0 164.4 181.7 165.6 180.4 166.7 179.2 167.8 177.9 168.8 176.6 169.9 175.4 170.9 174.1 171.9 172.9 172.9 171.6 173.8 170.3 174.8 169.0 175.8 167.7 176.7 166.3 177.7 164.9 178.6 163.5 179.5 162.0 180.3 160.5 181.1 158.9 181.8 157.3 182.5 155.7 183.1 154.0 183.6 152.3 184.0 150.5 184.3 148.8 184.5 147.0 184.6 145.2 184.6 143.4 184.5 141.6 184.2 139.8 183.9 138.0 183.4 136.3 182.8 134.6 182.0 132.9 181.2 131.3 180.3 129.7 179.3 128.2 178.2 126.7 177.0 125.3 175.8 124.0 174.5 122.6 173.1 121.4 171.7 120.1 170.3 118.9 168.8 117.8 167.3 116.7 165.7 115.6 164.1 114.5 162.5 113.5 160.8 112.5 159.1 111.5 157.3 110.6 155.5 109.7 153.7 108.9 151.8 108.1 149.8 107.4 147.8 106.8 145.8 106.2 143.6Z" fill="#ff0e00"/>
<path d="M107.4 141.5 107.1 139.5 106.9 137.4 106.8 135.3 106.9 133.2 107.0 131.2 107.3 129.1 107.7 127.0 108.3 125.0 109.0 123.0 109.8 121.1 110.7 119.3 111.7 117.5 112.9 115.8 114.1 114.1 115.4 112.6 116.8 111.1 118.2 109.8 119.7 108.5 121.3 107.3 122.9 106.2 124.6 105.2 126.3 104.3 128.0 103.5 129.7 102.8 131.5 102.2 133.2 101.7 135.0 101.2 136.8 100.9 138.5 100.7 140.3 100.5 142.1 100.4 143.8 100.4 145.5 100.4 147.2 100.5 148.9 100.7 150.6 100.9 152.2 101.1 153.8 101.4 155.5 101.8 157.0 102.2 158.6 102.6 160.2 103.1 161.7 103.6 163.3 104.2 164.8 104.8 166.3 105.4 167.8 106.1 169.2 106.9 170.7 107.7 172.1 108.5 173.6 109.4 175.0 110.4 176.3 111.4 177.7 112.4 179.1 113.5 180.4 114.7 181.6 116.0 182.9 117.3 184.0 118.7 185.1 120.1 186.2 121.7 187.1 123.3 187.9 124.9 188.6 126.7 189.2 128.4 189.7 130.3 190.1 132.1 190.4 134.0 190.5 135.9 190.6 137.7 190.6 139.6 190.5 141.5 190.2 143.4 189.9 145.2 189.5 147.0 188.9 148.7 188.3 150.5 187.5 152.1 186.7 153.7 185.8 155.2 184.8 156.7 183.7 158.1 182.6 159.4 181.5 160.6 180.3 161.8 179.1 162.9 178.0 164.0 176.8 165.0 175.6 166.1 174.4 167.0 173.2 168.0 172.1 168.9 170.9 169.9 169.7 170.8 168.5 171.7 167.3 172.6 166.1 173.5 164.9 174.4 163.6 175.3 162.3 176.1 161.0 176.9 159.6 177.7 158.2 178.4 156.8 179.1 155.3 179.7 153.7 180.2 152.2 180.7 150.6 181.1 148.9 181.4 147.3 181.6 145.6 181.6 144.0 181.6 142.3 181.5 140.6 181.3 139.0 180.9 137.3 180.5 135.7 179.9 134.1 179.2 132.6 178.5 131.1 177.6 129.6 176.7 128.2 175.7 126.9 174.6 125.6 173.4 124.3 172.2 123.0 171.0 121.9 169.7 120.7 168.4 119.6 167.0 118.5 165.6 117.4 164.1 116.4 162.6 115.4 161.1 114.5 159.5 113.6 157.9 112.7 156.3 111.8 154.6 111.0 152.9 110.2 151.1 109.5 149.3 108.9 147.4 108.3 145.5 107.8 143.5Z" fill="#f30000"/>
<path d="M109.0 141.5 108.7 139.6 108.5 137.7 108.5 135.8 108.5 133.9 108.7 131.9 108.9 130.0 109.3 128.1 109.8 126.3 110.5 124.5 111.2 122.7 112.0 121.0 113.0 119.3 114.0 117.7 115.1 116.2 116.3 114.8 117.6 113.4 118.9 112.1 120.3 111.0 121.7 109.9 123.2 108.8 124.7 107.9 126.3 107.1 127.8 106.3 129.4 105.7 131.0 105.1 132.7 104.6 134.3 104.2 135.9 103.9 137.6 103.7 139.2 103.5 140.8 103.4 142.4 103.4 144.0 103.4 145.5 103.5 147.1 103.7 148.6 103.8 150.1 104.1 151.6 104.4 153.1 104.7 154.6 105.0 156.0 105.4 157.5 105.9 158.9 106.4 160.3 106.9 161.7 107.5 163.1 108.1 164.4 108.7 165.8 109.4 167.1 110.2 168.5 110.9 169.8 111.8 171.1 112.7 172.3 113.6 173.6 114.6 174.8 115.6 176.0 116.7 177.2 117.8 178.3 119.1 179.4 120.3 180.4 121.7 181.3 123.1 182.2 124.6 182.9 126.2 183.6 127.8 184.1 129.4 184.6 131.1 184.9 132.8 185.2 134.5 185.4 136.3 185.4 138.0 185.4 139.8 185.3 141.5 185.1 143.2 184.8 144.9 184.4 146.6 183.9 148.2 183.3 149.8 182.6 151.3 181.8 152.8 181.0 154.2 180.1 155.6 179.1 156.8 178.1 158.1 177.1 159.2 176.0 160.3 174.9 161.4 173.8 162.4 172.8 163.3 171.7 164.3 170.6 165.2 169.5 166.1 168.4 167.0 167.3 167.8 166.3 168.7 165.2 169.5 164.1 170.4 162.9 171.2 161.8 172.0 160.6 172.8 159.4 173.6 158.2 174.3 156.9 175.0 155.6 175.7 154.3 176.3 152.9 176.9 151.5 177.3 150.1 177.8 148.6 178.1 147.1 178.4 145.6 178.5 144.1 178.6 142.5 178.6 141.0 178.5 139.5 178.3 138.0 177.9 136.5 177.5 135.0 177.0 133.5 176.4 132.1 175.7 130.7 174.9 129.4 174.1 128.1 173.1 126.8 172.1 125.6 171.1 124.4 170.0 123.3 168.8 122.2 167.6 121.1 166.4 120.1 165.1 119.1 163.8 118.1 162.5 117.2 161.1 116.3 159.7 115.4 158.2 114.5 156.7 113.7 155.2 112.9 153.6 112.2 152.0 111.5 150.4 110.9 148.7 110.3 146.9 109.8 145.2 109.3 143.4Z" fill="#db0000"/>
<path d="M110.5 141.5 110.3 139.8 110.1 138.0 110.1 136.2 110.1 134.5 110.3 132.7 110.5 130.9 110.9 129.2 111.3 127.5 111.9 125.8 112.6 124.2 113.3 122.6 114.2 121.1 115.1 119.6 116.1 118.2 117.2 116.9 118.4 115.6 119.6 114.5 120.9 113.4 122.2 112.3 123.5 111.4 124.9 110.5 126.3 109.8 127.7 109.1 129.2 108.5 130.7 107.9 132.1 107.5 133.6 107.1 135.1 106.8 136.6 106.6 138.1 106.4 139.6 106.3 141.0 106.3 142.5 106.3 143.9 106.4 145.3 106.5 146.7 106.7 148.1 106.9 149.5 107.2 150.8 107.5 152.2 107.8 153.5 108.2 154.8 108.6 156.1 109.1 157.4 109.5 158.7 110.1 160.0 110.6 161.2 111.2 162.5 111.9 163.7 112.6 164.9 113.3 166.1 114.0 167.3 114.9 168.4 115.7 169.6 116.6 170.7 117.6 171.8 118.6 172.9 119.7 173.9 120.8 174.9 122.0 175.8 123.2 176.7 124.6 177.4 125.9 178.1 127.4 178.7 128.8 179.2 130.4 179.6 131.9 180.0 133.5 180.2 135.1 180.3 136.7 180.4 138.3 180.4 139.9 180.3 141.5 180.1 143.1 179.8 144.6 179.4 146.2 179.0 147.7 178.4 149.1 177.8 150.6 177.1 151.9 176.3 153.2 175.5 154.5 174.6 155.7 173.7 156.8 172.8 157.9 171.8 158.9 170.8 159.9 169.9 160.8 168.9 161.7 167.9 162.6 166.9 163.4 165.9 164.2 164.9 165.1 163.9 165.9 162.9 166.6 161.9 167.4 160.9 168.2 159.9 169.0 158.8 169.7 157.7 170.4 156.6 171.1 155.5 171.8 154.4 172.4 153.2 173.0 151.9 173.6 150.7 174.1 149.4 174.6 148.1 174.9 146.7 175.2 145.4 175.5 144.0 175.6 142.6 175.7 141.2 175.7 139.8 175.6 138.4 175.3 137.0 175.1 135.6 174.7 134.3 174.2 133.0 173.6 131.7 173.0 130.4 172.3 129.2 171.5 128.0 170.7 126.8 169.8 125.7 168.8 124.6 167.8 123.5 166.7 122.5 165.6 121.5 164.5 120.6 163.3 119.7 162.1 118.8 160.9 117.9 159.6 117.1 158.3 116.3 156.9 115.5 155.6 114.8 154.2 114.1 152.7 113.4 151.2 112.8 149.7 112.2 148.1 111.7 146.5 111.2 144.9 110.8 143.2Z" fill="#c40000"/>
<path d="M112.8 141.5 112.6 139.9 112.5 138.4 112.4 136.8 112.5 135.2 112.6 133.6 112.9 132.0 113.2 130.4 113.6 128.9 114.1 127.3 114.7 125.9 115.4 124.4 116.1 123.1 117.0 121.7 117.9 120.5 118.9 119.3 119.9 118.1 121.0 117.1 122.1 116.1 123.3 115.1 124.5 114.3 125.7 113.5 127.0 112.8 128.3 112.2 129.6 111.6 130.9 111.2 132.2 110.7 133.5 110.4 134.9 110.1 136.2 109.9 137.5 109.8 138.8 109.7 140.2 109.7 141.5 109.7 142.7 109.7 144.0 109.8 145.3 110.0 146.5 110.2 147.8 110.4 149.0 110.7 150.2 111.0 151.4 111.3 152.6 111.7 153.7 112.1 154.9 112.5 156.0 113.0 157.2 113.5 158.3 114.1 159.4 114.7 160.5 115.3 161.6 115.9 162.7 116.6 163.7 117.4 164.8 118.2 165.8 119.0 166.8 119.9 167.8 120.8 168.8 121.7 169.7 122.8 170.5 123.9 171.4 125.0 172.1 126.2 172.8 127.4 173.4 128.7 174.0 130.1 174.4 131.4 174.8 132.8 175.1 134.3 175.3 135.7 175.4 137.1 175.5 138.6 175.5 140.1 175.4 141.5 175.2 142.9 174.9 144.3 174.6 145.7 174.2 147.1 173.7 148.4 173.2 149.7 172.5 150.9 171.9 152.1 171.1 153.2 170.3 154.3 169.5 155.3 168.7 156.3 167.8 157.2 167.0 158.1 166.1 159.0 165.2 159.8 164.3 160.6 163.4 161.4 162.5 162.1 161.6 162.9 160.7 163.6 159.8 164.3 158.9 165.0 158.0 165.7 157.1 166.4 156.1 167.1 155.2 167.7 154.2 168.3 153.2 168.9 152.1 169.5 151.1 170.0 150.0 170.5 148.8 171.0 147.7 171.4 146.5 171.7 145.3 172.0 144.1 172.2 142.8 172.3 141.6 172.4 140.3 172.3 139.1 172.2 137.8 172.1 136.6 171.8 135.3 171.4 134.1 171.0 132.9 170.5 131.8 170.0 130.6 169.3 129.5 168.6 128.4 167.9 127.4 167.0 126.4 166.2 125.4 165.3 124.5 164.3 123.5 163.3 122.7 162.3 121.8 161.3 121.0 160.2 120.2 159.0 119.4 157.9 118.6 156.7 117.9 155.5 117.2 154.2 116.6 153.0 115.9 151.6 115.3 150.3 114.8 148.9 114.3 147.5 113.8 146.0 113.4 144.6 113.1 143.0Z" fill="#b40000"/>
<path d="M117.4 141.5 117.3 140.2 117.2 138.8 117.1 137.5 117.2 136.1 117.3 134.7 117.5 133.4 117.8 132.0 118.1 130.7 118.6 129.4 119.1 128.2 119.6 126.9 120.3 125.8 121.0 124.6 121.8 123.5 122.6 122.5 123.4 121.5 124.4 120.6 125.3 119.8 126.3 119.0 127.3 118.3 128.4 117.6 129.4 117.0 130.5 116.4 131.6 116.0 132.8 115.5 133.9 115.2 135.0 114.9 136.1 114.7 137.3 114.5 138.4 114.3 139.5 114.3 140.6 114.2 141.7 114.2 142.8 114.3 143.9 114.4 145.0 114.5 146.1 114.7 147.1 114.9 148.2 115.1 149.2 115.3 150.2 115.6 151.2 116.0 152.2 116.3 153.2 116.7 154.2 117.1 155.1 117.5 156.1 118.0 157.0 118.5 158.0 119.0 158.9 119.6 159.8 120.2 160.7 120.8 161.6 121.5 162.5 122.2 163.3 123.0 164.2 123.8 165.0 124.6 165.8 125.5 166.5 126.4 167.2 127.4 167.8 128.4 168.4 129.5 168.9 130.6 169.4 131.7 169.8 132.9 170.1 134.1 170.3 135.3 170.5 136.5 170.6 137.8 170.7 139.0 170.7 140.3 170.6 141.5 170.4 142.7 170.2 143.9 169.9 145.1 169.6 146.3 169.2 147.4 168.7 148.5 168.2 149.6 167.6 150.6 167.0 151.5 166.3 152.5 165.7 153.4 164.9 154.2 164.2 155.0 163.5 155.8 162.7 156.5 162.0 157.2 161.2 157.9 160.5 158.6 159.7 159.2 159.0 159.9 158.2 160.5 157.4 161.1 156.7 161.7 155.9 162.3 155.1 162.9 154.3 163.4 153.4 164.0 152.6 164.5 151.7 165.0 150.8 165.5 149.9 165.9 149.0 166.4 148.0 166.7 147.0 167.0 146.0 167.3 145.0 167.5 144.0 167.7 142.9 167.8 141.9 167.9 140.8 167.8 139.7 167.7 138.7 167.6 137.6 167.4 136.6 167.1 135.5 166.7 134.5 166.3 133.5 165.8 132.6 165.3 131.6 164.7 130.7 164.0 129.8 163.4 128.9 162.6 128.1 161.9 127.3 161.0 126.5 160.2 125.7 159.3 125.0 158.4 124.3 157.5 123.6 156.5 122.9 155.5 122.3 154.5 121.7 153.5 121.1 152.4 120.5 151.3 120.0 150.2 119.5 149.0 119.0 147.8 118.6 146.6 118.2 145.4 117.9 144.1 117.6 142.8Z" fill="#a80000"/>
<path d="M122.7 141.5 122.6 140.4 122.5 139.3 122.5 138.2 122.6 137.1 122.7 136.0 122.9 134.9 123.1 133.8 123.4 132.8 123.7 131.7 124.1 130.7 124.6 129.7 125.1 128.8 125.6 127.8 126.3 127.0 126.9 126.1 127.6 125.3 128.3 124.6 129.1 123.9 129.9 123.2 130.7 122.6 131.6 122.1 132.4 121.6 133.3 121.2 134.2 120.8 135.1 120.4 136.0 120.1 136.9 119.9 137.8 119.7 138.7 119.5 139.7 119.4 140.6 119.3 141.5 119.3 142.4 119.3 143.3 119.3 144.1 119.4 145.0 119.5 145.9 119.6 146.7 119.8 147.6 120.0 148.4 120.2 149.2 120.4 150.0 120.7 150.8 121.0 151.6 121.3 152.4 121.6 153.2 122.0 154.0 122.4 154.8 122.8 155.5 123.2 156.3 123.7 157.0 124.2 157.7 124.7 158.4 125.2 159.2 125.8 159.8 126.4 160.5 127.1 161.2 127.8 161.8 128.5 162.4 129.2 162.9 130.0 163.4 130.9 163.9 131.7 164.3 132.6 164.7 133.6 165.0 134.5 165.3 135.5 165.5 136.5 165.6 137.5 165.7 138.5 165.8 139.5 165.8 140.5 165.7 141.5 165.6 142.5 165.4 143.5 165.2 144.4 164.9 145.4 164.5 146.3 164.2 147.2 163.7 148.0 163.3 148.9 162.8 149.7 162.3 150.4 161.7 151.1 161.2 151.8 160.6 152.5 160.0 153.1 159.4 153.7 158.8 154.3 158.2 154.9 157.6 155.4 157.0 156.0 156.3 156.5 155.7 157.0 155.1 157.5 154.5 158.0 153.8 158.4 153.2 158.9 152.5 159.4 151.8 159.8 151.2 160.2 150.4 160.6 149.7 161.0 149.0 161.4 148.2 161.7 147.4 162.0 146.6 162.2 145.8 162.5 145.0 162.6 144.2 162.8 143.3 162.8 142.5 162.9 141.6 162.8 140.7 162.8 139.9 162.6 139.0 162.5 138.2 162.2 137.4 161.9 136.5 161.6 135.7 161.2 135.0 160.8 134.2 160.3 133.4 159.8 132.7 159.2 132.0 158.7 131.3 158.0 130.7 157.4 130.0 156.7 129.4 156.0 128.8 155.3 128.2 154.5 127.7 153.7 127.1 152.9 126.6 152.1 126.1 151.3 125.6 150.4 125.2 149.5 124.8 148.6 124.4 147.6 124.0 146.7 123.7 145.7 123.4 144.7 123.1 143.6 122.9 142.6Z" fill="#a00000"/>
<path d="M127.3 141.5 127.3 140.6 127.2 139.8 127.2 138.9 127.2 138.0 127.3 137.1 127.5 136.3 127.6 135.4 127.9 134.6 128.1 133.7 128.5 132.9 128.8 132.1 129.2 131.4 129.7 130.6 130.2 129.9 130.7 129.3 131.2 128.6 131.8 128.0 132.4 127.5 133.0 127.0 133.7 126.5 134.3 126.1 135.0 125.7 135.7 125.3 136.4 125.0 137.1 124.7 137.9 124.5 138.6 124.3 139.3 124.1 140.0 124.0 140.8 123.9 141.5 123.8 142.2 123.8 142.9 123.8 143.6 123.8 144.3 123.9 145.0 124.0 145.7 124.1 146.4 124.2 147.0 124.3 147.7 124.5 148.4 124.7 149.0 124.9 149.6 125.1 150.3 125.4 150.9 125.6 151.5 125.9 152.1 126.2 152.8 126.6 153.4 126.9 154.0 127.3 154.5 127.7 155.1 128.1 155.7 128.5 156.2 129.0 156.8 129.5 157.3 130.0 157.8 130.5 158.3 131.1 158.8 131.7 159.2 132.4 159.6 133.0 160.0 133.7 160.3 134.4 160.6 135.2 160.9 135.9 161.1 136.7 161.3 137.5 161.4 138.3 161.5 139.1 161.5 139.9 161.5 140.7 161.4 141.5 161.3 142.3 161.2 143.1 161.0 143.8 160.8 144.6 160.5 145.3 160.2 146.0 159.9 146.7 159.5 147.4 159.1 148.0 158.7 148.6 158.3 149.2 157.8 149.7 157.4 150.3 156.9 150.8 156.5 151.3 156.0 151.7 155.5 152.2 155.0 152.6 154.5 153.1 154.0 153.5 153.5 153.9 153.0 154.3 152.5 154.7 152.0 155.1 151.5 155.4 151.0 155.8 150.4 156.1 149.9 156.5 149.3 156.8 148.8 157.1 148.2 157.3 147.6 157.6 146.9 157.8 146.3 158.0 145.7 158.2 145.0 158.3 144.3 158.4 143.7 158.5 143.0 158.5 142.3 158.5 141.6 158.4 140.9 158.3 140.3 158.2 139.6 158.0 138.9 157.8 138.3 157.5 137.7 157.2 137.0 156.9 136.4 156.5 135.8 156.1 135.2 155.6 134.7 155.2 134.1 154.7 133.6 154.2 133.1 153.6 132.6 153.1 132.1 152.5 131.7 151.9 131.2 151.3 130.8 150.6 130.4 150.0 130.0 149.3 129.6 148.6 129.3 147.9 128.9 147.1 128.6 146.4 128.3 145.6 128.1 144.8 127.8 144.0 127.6 143.2 127.5 142.4Z" fill="#9a0000"/>
<path d="M132.9 141.5 132.8 140.9 132.8 140.3 132.8 139.7 132.8 139.1 132.9 138.5 133.0 137.9 133.1 137.3 133.3 136.7 133.5 136.2 133.7 135.6 133.9 135.1 134.2 134.5 134.5 134.0 134.8 133.6 135.2 133.1 135.6 132.7 136.0 132.2 136.4 131.9 136.8 131.5 137.2 131.2 137.7 130.9 138.2 130.6 138.6 130.3 139.1 130.1 139.6 129.9 140.1 129.8 140.6 129.6 141.1 129.5 141.6 129.4 142.1 129.3 142.6 129.3 143.1 129.3 143.6 129.3 144.0 129.3 144.5 129.3 145.0 129.4 145.5 129.4 145.9 129.5 146.4 129.6 146.9 129.7 147.3 129.9 147.8 130.0 148.2 130.2 148.6 130.3 149.1 130.5 149.5 130.7 149.9 130.9 150.3 131.2 150.8 131.4 151.2 131.7 151.6 131.9 152.0 132.2 152.4 132.5 152.7 132.9 153.1 133.2 153.5 133.6 153.8 133.9 154.2 134.3 154.5 134.8 154.8 135.2 155.0 135.7 155.3 136.1 155.5 136.6 155.7 137.1 155.9 137.7 156.1 138.2 156.2 138.7 156.3 139.3 156.3 139.8 156.3 140.4 156.3 140.9 156.3 141.5 156.2 142.0 156.1 142.6 156.0 143.1 155.8 143.6 155.7 144.1 155.4 144.6 155.2 145.1 155.0 145.6 154.7 146.0 154.4 146.4 154.1 146.8 153.8 147.2 153.5 147.6 153.2 147.9 152.9 148.3 152.6 148.6 152.2 148.9 151.9 149.2 151.6 149.5 151.2 149.8 150.9 150.1 150.6 150.4 150.2 150.6 149.9 150.9 149.5 151.1 149.1 151.4 148.8 151.6 148.4 151.8 148.0 152.1 147.6 152.3 147.2 152.4 146.8 152.6 146.3 152.8 145.9 152.9 145.4 153.0 145.0 153.1 144.5 153.1 144.1 153.2 143.6 153.2 143.2 153.2 142.7 153.1 142.2 153.1 141.8 153.0 141.3 152.8 140.8 152.7 140.4 152.5 140.0 152.3 139.5 152.1 139.1 151.8 138.7 151.5 138.3 151.3 137.9 150.9 137.5 150.6 137.2 150.2 136.8 149.9 136.5 149.5 136.1 149.1 135.8 148.7 135.5 148.2 135.2 147.8 134.9 147.4 134.7 146.9 134.4 146.4 134.2 145.9 133.9 145.4 133.7 144.9 133.5 144.3 133.4 143.8 133.2 143.2 133.1 142.7 133.0 142.1Z" fill="#950000"/>
<path d="M142.6 141.5 142.6 141.4 142.6 141.3 142.6 141.1 142.6 141.0 142.6 140.9 142.7 140.8 142.7 140.7 142.7 140.6 142.8 140.5 142.8 140.4 142.8 140.2 142.9 140.1 143.0 140.0 143.0 139.9 143.1 139.9 143.2 139.8 143.2 139.7 143.3 139.6 143.4 139.5 143.5 139.5 143.6 139.4 143.7 139.4 143.8 139.3 143.8 139.3 143.9 139.2 144.0 139.2 144.1 139.2 144.2 139.1 144.3 139.1 144.4 139.1 144.5 139.1 144.6 139.1 144.7 139.1 144.8 139.1 144.9 139.1 145.0 139.1 145.1 139.1 145.2 139.1 145.3 139.2 145.4 139.2 145.5 139.2 145.5 139.2 145.6 139.3 145.7 139.3 145.8 139.3 145.9 139.4 146.0 139.4 146.1 139.5 146.1 139.5 146.2 139.6 146.3 139.6 146.4 139.7 146.4 139.7 146.5 139.8 146.6 139.9 146.7 139.9 146.7 140.0 146.8 140.1 146.9 140.2 146.9 140.3 147.0 140.4 147.0 140.4 147.1 140.5 147.1 140.6 147.1 140.7 147.2 140.9 147.2 141.0 147.2 141.1 147.2 141.2 147.2 141.3 147.2 141.4 147.2 141.5 147.2 141.6 147.2 141.7 147.1 141.8 147.1 141.9 147.1 142.0 147.0 142.1 147.0 142.2 147.0 142.3 146.9 142.4 146.8 142.5 146.8 142.5 146.7 142.6 146.7 142.7 146.6 142.8 146.6 142.8 146.5 142.9 146.4 143.0 146.4 143.0 146.3 143.1 146.2 143.1 146.2 143.2 146.1 143.3 146.0 143.3 146.0 143.4 145.9 143.4 145.8 143.5 145.7 143.5 145.7 143.5 145.6 143.6 145.5 143.6 145.4 143.7 145.3 143.7 145.3 143.7 145.2 143.7 145.1 143.8 145.0 143.8 144.9 143.8 144.8 143.8 144.7 143.8 144.6 143.8 144.5 143.8 144.5 143.8 144.4 143.7 144.3 143.7 144.2 143.7 144.1 143.7 144.0 143.6 143.9 143.6 143.8 143.5 143.8 143.5 143.7 143.4 143.6 143.4 143.5 143.3 143.5 143.2 143.4 143.1 143.3 143.1 143.3 143.0 143.2 142.9 143.1 142.8 143.1 142.7 143.0 142.7 143.0 142.6 142.9 142.5 142.9 142.4 142.8 142.3 142.8 142.2 142.8 142.1 142.7 141.9 142.7 141.8 142.7 141.7 142.7 141.6Z" fill="#920000"/>
<g fill="none" stroke="#000" stroke-width="0.45" stroke-opacity="0.45">
<path d="M-40.1 141.8 -42.4 132.7 -44.4 123.5 -46.1 114.0 -47.6 104.3 -47.9 94.6 -46.9 85.0 -44.7 75.7 -41.6 66.6 -37.9 57.8 -33.3 49.3 -27.8 41.4 -21.6 34.1 -15.0 27.1 -8.3 20.4 -1.7 13.9 4.9 7.4 11.6 1.3 18.7 -4.5 25.9 -10.0 33.3 -15.2 40.9 -20.0 48.9 -24.0 57.2 -27.4 65.6 -30.3 74.1 -32.9 82.6 -35.0 91.1 -36.6 99.6 -37.8 108.2 -38.5 116.6 -38.7 125.0 -38.6 133.3 -38.2 141.4 -37.5 149.4 -36.4 157.3 -35.2 165.0 -34.1 172.6 -33.0 180.2 -31.8 187.7 -30.4 195.1 -28.8 202.4 -27.0 209.7 -25.0 216.9 -22.8 224.1 -20.5 231.3 -18.3 238.6 -16.0 245.8 -13.3 252.8 -10.2 259.6 -6.7 266.2 -2.8 272.6 1.5 278.7 6.2 284.6 11.2 290.3 16.5 295.9 21.9 301.5 27.2 307.4 32.5 313.5 37.8 319.6 43.3 325.7 49.0 331.9 54.9 338.2 61.0 344.7 67.4 351.5 73.9 358.5 80.8 365.6 88.0 372.9 95.7 380.4 103.8 386.5 112.6 386.0 122.5 379.2 132.4 372.0 141.8 365.7 150.6 360.0 158.9 354.4 166.7 348.9 174.2 343.5 181.4 338.0 188.1 332.4 194.6 327.0 200.8 321.8 206.8 316.6 212.5 311.3 218.0 305.8 223.1 300.2 227.9 294.6 232.5 289.0 237.0 283.5 241.2 278.1 245.4 272.9 249.7 268.0 254.2 263.0 258.6 257.8 262.8 252.5 266.8 247.1 270.7 241.7 274.7 236.4 278.9 231.0 283.3 225.5 287.8 219.7 292.1 213.7 296.3 207.5 300.3 201.0 304.3 194.3 307.9 187.3 311.2 180.1 314.2 172.6 316.7 165.0 318.7 157.2 320.1 149.3 321.1 141.3 321.8 133.2 322.1 125.1 321.9 117.0 321.1 108.9 319.6 101.1 317.4 93.4 314.7 85.9 311.4 78.6 307.7 71.7 303.4 65.1 298.6 58.8 293.4 52.8 288.0 47.1 282.3 41.6 276.4 36.2 270.6 30.9 264.6 25.8 258.6 20.9 252.4 16.2 246.0 11.5 239.6 6.7 233.2 1.8 226.7 -2.9 220.1 -7.5 213.3 -11.7 206.1 -15.7 198.8 -19.6 191.3 -23.5 183.6 -27.2 175.7 -30.8 167.6 -34.3 159.2 -37.4 150.6Z"/>
<path d="M-35.8 141.8 -38.1 132.9 -40.0 123.9 -41.7 114.6 -43.1 105.1 -43.5 95.6 -42.4 86.2 -40.3 77.1 -37.3 68.2 -33.6 59.5 -29.2 51.2 -23.8 43.5 -17.7 36.3 -11.3 29.5 -4.7 23.0 1.8 16.6 8.2 10.2 14.8 4.2 21.8 -1.4 28.8 -6.8 36.0 -11.9 43.5 -16.6 51.3 -20.6 59.5 -23.9 67.7 -26.7 76.0 -29.2 84.3 -31.3 92.6 -32.9 101.0 -34.0 109.4 -34.7 117.6 -35.0 125.8 -34.9 133.9 -34.4 141.9 -33.7 149.7 -32.7 157.4 -31.5 165.0 -30.4 172.5 -29.3 179.9 -28.2 187.2 -26.8 194.4 -25.2 201.6 -23.4 208.7 -21.5 215.8 -19.3 222.8 -17.1 229.9 -15.0 237.1 -12.7 244.1 -10.1 250.9 -7.0 257.6 -3.6 264.1 0.3 270.4 4.5 276.4 9.1 282.1 14.0 287.7 19.1 293.1 24.4 298.7 29.6 304.4 34.8 310.4 40.0 316.3 45.4 322.3 51.0 328.4 56.8 334.6 62.7 341.0 68.9 347.6 75.4 354.4 82.1 361.4 89.2 368.5 96.7 375.9 104.6 381.8 113.3 381.3 122.9 374.8 132.6 367.6 141.8 361.5 150.4 355.9 158.5 350.4 166.2 345.1 173.5 339.7 180.5 334.3 187.2 328.9 193.5 323.6 199.5 318.5 205.4 313.5 211.0 308.3 216.4 302.9 221.4 297.4 226.1 291.9 230.6 286.4 235.0 281.0 239.1 275.7 243.3 270.7 247.5 265.8 251.8 260.9 256.1 255.9 260.3 250.7 264.2 245.4 268.0 240.1 271.9 234.9 276.0 229.6 280.4 224.2 284.7 218.6 288.9 212.7 293.0 206.6 297.0 200.3 300.9 193.7 304.4 186.8 307.7 179.8 310.6 172.5 313.1 165.0 315.0 157.4 316.4 149.6 317.4 141.8 318.0 133.9 318.3 125.9 318.1 118.0 317.4 110.1 315.9 102.4 313.8 94.9 311.1 87.6 307.9 80.5 304.2 73.7 300.0 67.2 295.3 61.1 290.2 55.2 284.9 49.6 279.4 44.2 273.6 38.9 267.9 33.8 262.1 28.7 256.1 23.9 250.1 19.3 243.8 14.7 237.5 10.0 231.3 5.2 225.0 0.6 218.5 -3.9 211.8 -8.0 204.8 -11.9 197.6 -15.7 190.2 -19.5 182.7 -23.2 175.0 -26.8 167.0 -30.1 158.9 -33.2 150.5Z"/>
<path d="M-31.5 141.8 -33.7 133.1 -35.6 124.3 -37.3 115.2 -38.7 105.9 -39.0 96.6 -38.0 87.4 -35.9 78.5 -33.0 69.7 -29.4 61.3 -25.0 53.2 -19.7 45.6 -13.8 38.6 -7.5 31.9 -1.1 25.5 5.3 19.2 11.6 13.1 18.0 7.1 24.8 1.6 31.8 -3.6 38.8 -8.6 46.1 -13.2 53.7 -17.1 61.7 -20.3 69.8 -23.1 77.9 -25.5 86.0 -27.6 94.2 -29.1 102.4 -30.3 110.5 -30.9 118.6 -31.2 126.7 -31.1 134.6 -30.7 142.4 -30.0 150.1 -29.0 157.6 -27.8 165.0 -26.7 172.3 -25.7 179.6 -24.5 186.7 -23.2 193.8 -21.6 200.8 -19.9 207.8 -18.0 214.7 -15.9 221.6 -13.7 228.5 -11.6 235.5 -9.4 242.4 -6.8 249.1 -3.8 255.6 -0.5 262.0 3.3 268.1 7.4 274.0 11.9 279.6 16.7 285.1 21.7 290.4 26.9 295.8 32.0 301.4 37.1 307.3 42.2 313.1 47.4 319.0 52.9 324.9 58.6 331.0 64.4 337.2 70.5 343.7 76.8 350.4 83.3 357.3 90.3 364.2 97.6 371.4 105.4 377.2 113.9 376.7 123.3 370.3 132.8 363.3 141.8 357.3 150.2 351.8 158.1 346.5 165.7 341.2 172.9 336.0 179.7 330.7 186.2 325.4 192.4 320.3 198.3 315.2 204.0 310.3 209.5 305.2 214.8 299.9 219.7 294.5 224.3 289.2 228.7 283.8 233.0 278.5 237.1 273.3 241.1 268.4 245.2 263.7 249.5 258.9 253.7 254.0 257.7 248.9 261.6 243.7 265.3 238.5 269.1 233.4 273.1 228.2 277.4 222.9 281.7 217.4 285.8 211.7 289.8 205.7 293.7 199.5 297.5 193.1 300.9 186.4 304.1 179.5 307.0 172.3 309.4 165.0 311.3 157.5 312.7 150.0 313.6 142.3 314.3 134.5 314.6 126.7 314.4 119.0 313.6 111.3 312.2 103.7 310.1 96.4 307.5 89.2 304.3 82.3 300.7 75.6 296.6 69.3 292.0 63.3 287.1 57.5 281.9 52.0 276.4 46.8 270.8 41.6 265.2 36.6 259.5 31.6 253.7 26.9 247.7 22.4 241.6 17.9 235.5 13.3 229.4 8.6 223.2 4.1 216.8 -0.3 210.3 -4.3 203.4 -8.1 196.4 -11.9 189.2 -15.6 181.8 -19.2 174.3 -22.7 166.5 -25.9 158.5 -28.9 150.3Z"/>
<path d="M-27.2 141.8 -29.4 133.3 -31.2 124.6 -32.9 115.7 -34.2 106.7 -34.5 97.6 -33.6 88.6 -31.5 79.8 -28.7 71.3 -25.2 63.0 -20.9 55.1 -15.7 47.7 -9.9 40.8 -3.7 34.3 2.5 28.0 8.8 21.9 14.9 15.9 21.2 10.1 27.9 4.7 34.7 -0.4 41.5 -5.4 48.6 -9.8 56.2 -13.6 64.0 -16.8 71.9 -19.5 79.8 -21.9 87.7 -23.9 95.7 -25.4 103.7 -26.5 111.7 -27.1 119.7 -27.4 127.5 -27.3 135.3 -26.9 142.9 -26.2 150.4 -25.2 157.8 -24.1 165.0 -23.0 172.2 -22.0 179.2 -20.9 186.2 -19.6 193.2 -18.1 200.1 -16.4 206.9 -14.5 213.6 -12.4 220.4 -10.3 227.2 -8.3 234.0 -6.1 240.7 -3.6 247.3 -0.7 253.7 2.6 259.9 6.3 265.9 10.3 271.6 14.7 277.1 19.4 282.5 24.3 287.7 29.4 293.0 34.4 298.5 39.4 304.2 44.4 309.9 49.5 315.6 54.9 321.4 60.4 327.4 66.1 333.5 72.0 339.8 78.2 346.3 84.6 353.1 91.4 359.8 98.6 366.9 106.2 372.6 114.5 372.1 123.7 365.8 133.0 359.0 141.8 353.1 150.0 347.7 157.8 342.5 165.2 337.4 172.2 332.3 178.9 327.1 185.2 321.9 191.3 316.9 197.1 312.0 202.7 307.1 208.1 302.2 213.2 297.0 218.0 291.7 222.5 286.5 226.8 281.2 231.0 276.0 235.0 271.0 238.9 266.2 243.0 261.5 247.1 256.8 251.2 252.0 255.2 247.0 259.0 242.0 262.6 236.9 266.3 231.9 270.3 226.9 274.5 221.7 278.6 216.3 282.7 210.6 286.6 204.8 290.4 198.8 294.1 192.4 297.5 185.9 300.6 179.1 303.4 172.2 305.7 165.0 307.6 157.7 308.9 150.3 309.9 142.8 310.5 135.2 310.8 127.6 310.6 120.0 309.9 112.5 308.4 105.1 306.4 97.9 303.8 90.9 300.8 84.1 297.3 77.6 293.3 71.4 288.8 65.5 283.9 59.9 278.8 54.5 273.5 49.4 268.0 44.3 262.5 39.4 256.9 34.5 251.3 30.0 245.4 25.5 239.5 21.1 233.4 16.6 227.5 12.1 221.4 7.6 215.2 3.3 208.8 -0.7 202.1 -4.4 195.2 -8.0 188.2 -11.6 181.0 -15.2 173.6 -18.6 166.0 -21.8 158.1 -24.7 150.1Z"/>
<path d="M-22.9 141.8 -25.0 133.5 -26.8 125.0 -28.5 116.3 -29.8 107.5 -30.1 98.5 -29.1 89.8 -27.1 81.2 -24.3 72.9 -20.9 64.8 -16.7 57.1 -11.7 49.8 -6.0 43.1 0.0 36.7 6.2 30.6 12.2 24.6 18.3 18.7 24.5 13.0 30.9 7.7 37.6 2.7 44.3 -2.1 51.2 -6.4 58.6 -10.2 66.2 -13.3 73.9 -15.9 81.7 -18.2 89.5 -20.2 97.3 -21.7 105.1 -22.7 112.9 -23.4 120.7 -23.6 128.3 -23.6 135.9 -23.1 143.4 -22.5 150.7 -21.5 157.9 -20.4 165.0 -19.3 172.0 -18.3 178.9 -17.3 185.8 -16.0 192.6 -14.5 199.3 -12.8 205.9 -11.0 212.5 -9.0 219.1 -6.9 225.8 -4.9 232.4 -2.8 239.0 -0.4 245.4 2.5 251.7 5.7 257.8 9.3 263.6 13.3 269.2 17.6 274.6 22.2 279.8 27.0 284.9 31.9 290.1 36.8 295.5 41.7 301.0 46.5 306.6 51.6 312.2 56.8 317.9 62.2 323.7 67.8 329.7 73.6 335.9 79.6 342.3 85.9 348.9 92.5 355.5 99.6 362.4 107.0 367.9 115.1 367.5 124.1 361.3 133.2 354.6 141.8 348.9 149.8 343.7 157.4 338.5 164.6 333.5 171.5 328.5 178.1 323.5 184.3 318.4 190.2 313.5 195.8 308.7 201.3 303.9 206.6 299.1 211.6 294.0 216.3 288.9 220.7 283.7 224.9 278.7 229.0 273.6 232.9 268.6 236.7 263.9 240.7 259.4 244.8 254.8 248.8 250.1 252.7 245.2 256.4 240.2 259.9 235.3 263.5 230.4 267.4 225.5 271.5 220.4 275.6 215.1 279.5 209.6 283.3 203.9 287.1 198.0 290.7 191.8 294.0 185.4 297.0 178.8 299.8 172.0 302.1 165.0 303.9 157.9 305.2 150.6 306.1 143.3 306.7 135.9 307.0 128.4 306.8 121.0 306.1 113.6 304.7 106.4 302.8 99.4 300.2 92.5 297.2 85.9 293.8 79.5 289.9 73.5 285.5 67.7 280.7 62.2 275.8 57.0 270.5 51.9 265.2 47.0 259.8 42.2 254.4 37.5 248.8 33.0 243.1 28.7 237.3 24.4 231.4 19.9 225.6 15.5 219.6 11.1 213.6 6.9 207.3 3.0 200.7 -0.6 194.0 -4.1 187.1 -7.7 180.1 -11.2 172.9 -14.5 165.4 -17.6 157.8 -20.5 149.9Z"/>
<path d="M-18.6 141.8 -20.7 133.7 -22.5 125.4 -24.1 116.9 -25.3 108.2 -25.6 99.5 -24.7 91.0 -22.8 82.6 -20.0 74.5 -16.7 66.5 -12.6 59.0 -7.6 51.9 -2.1 45.3 3.8 39.1 9.8 33.1 15.7 27.3 21.6 21.5 27.7 16.0 34.0 10.8 40.5 5.9 47.0 1.2 53.8 -3.1 61.0 -6.7 68.5 -9.7 76.0 -12.3 83.6 -14.6 91.2 -16.5 98.8 -18.0 106.5 -19.0 114.1 -19.6 121.7 -19.9 129.2 -19.8 136.6 -19.4 143.9 -18.7 151.0 -17.8 158.1 -16.7 165.0 -15.7 171.8 -14.7 178.6 -13.6 185.3 -12.4 191.9 -10.9 198.5 -9.3 205.0 -7.5 211.5 -5.6 217.9 -3.5 224.4 -1.6 230.9 0.5 237.3 2.9 243.6 5.7 249.7 8.8 255.6 12.3 261.4 16.2 266.9 20.4 272.1 24.9 277.2 29.6 282.2 34.4 287.2 39.2 292.5 44.0 297.9 48.7 303.4 53.6 308.9 58.7 314.4 64.0 320.1 69.5 325.9 75.1 332.0 81.0 338.3 87.2 344.7 93.7 351.1 100.5 357.9 107.8 363.3 115.7 362.9 124.5 356.8 133.4 350.3 141.8 344.8 149.6 339.6 157.1 334.6 164.1 329.7 170.8 324.8 177.2 319.9 183.3 314.9 189.1 310.1 194.6 305.4 200.0 300.8 205.1 296.0 210.0 291.1 214.6 286.0 218.9 281.0 223.0 276.1 227.0 271.1 230.8 266.3 234.6 261.6 238.4 257.2 242.4 252.7 246.4 248.1 250.1 243.4 253.7 238.5 257.2 233.7 260.8 228.9 264.5 224.1 268.5 219.1 272.5 214.0 276.4 208.6 280.1 203.0 283.8 197.2 287.3 191.2 290.5 185.0 293.5 178.5 296.2 171.8 298.4 165.0 300.2 158.0 301.5 151.0 302.4 143.8 303.0 136.5 303.2 129.2 303.1 122.0 302.4 114.8 301.0 107.8 299.1 100.9 296.6 94.2 293.7 87.7 290.3 81.5 286.5 75.6 282.2 69.9 277.6 64.6 272.7 59.4 267.6 54.5 262.4 49.7 257.1 45.0 251.8 40.4 246.4 36.0 240.8 31.8 235.1 27.6 229.4 23.2 223.6 18.9 217.9 14.6 211.9 10.5 205.8 6.7 199.4 3.2 192.8 -0.3 186.1 -3.8 179.2 -7.1 172.2 -10.4 164.9 -13.4 157.4 -16.2 149.7Z"/>
<path d="M-14.4 141.8 -16.4 133.9 -18.1 125.8 -19.6 117.5 -20.9 109.0 -21.2 100.5 -20.3 92.2 -18.4 84.0 -15.7 76.0 -12.4 68.3 -8.4 60.9 -3.6 54.0 1.8 47.6 7.6 41.5 13.4 35.7 19.2 29.9 25.0 24.3 30.9 18.9 37.1 13.9 43.4 9.1 49.8 4.5 56.4 0.3 63.4 -3.2 70.7 -6.2 78.1 -8.7 85.5 -10.9 92.9 -12.8 100.4 -14.2 107.8 -15.2 115.3 -15.8 122.7 -16.1 130.0 -16.0 137.2 -15.6 144.4 -15.0 151.4 -14.0 158.2 -13.0 165.0 -12.0 171.7 -11.0 178.3 -10.0 184.8 -8.8 191.3 -7.4 197.7 -5.8 204.1 -4.0 210.4 -2.1 216.7 -0.1 223.0 1.8 229.4 3.8 235.6 6.1 241.7 8.9 247.7 11.9 253.5 15.4 259.1 19.1 264.5 23.3 269.6 27.6 274.6 32.2 279.5 36.9 284.4 41.6 289.5 46.2 294.8 50.9 300.2 55.7 305.5 60.7 310.9 65.8 316.5 71.2 322.2 76.7 328.1 82.4 334.2 88.5 340.5 94.8 346.8 101.5 353.4 108.6 358.7 116.3 358.2 124.9 352.4 133.6 346.0 141.8 340.6 149.5 335.5 156.7 330.6 163.6 325.8 170.2 321.1 176.4 316.3 182.3 311.4 188.0 306.7 193.4 302.1 198.6 297.6 203.6 293.0 208.4 288.2 212.9 283.2 217.1 278.3 221.2 273.5 225.0 268.6 228.7 263.9 232.4 259.4 236.2 255.1 240.1 250.7 243.9 246.2 247.6 241.6 251.1 236.8 254.5 232.1 258.0 227.4 261.7 222.7 265.6 217.9 269.5 212.8 273.2 207.6 276.9 202.2 280.5 196.5 283.9 190.6 287.0 184.5 290.0 178.2 292.6 171.7 294.8 165.0 296.5 158.2 297.7 151.3 298.6 144.3 299.2 137.2 299.5 130.1 299.3 123.0 298.6 116.0 297.3 109.1 295.4 102.4 293.0 95.8 290.1 89.5 286.9 83.4 283.1 77.6 278.9 72.2 274.4 66.9 269.6 61.9 264.7 57.1 259.5 52.4 254.4 47.8 249.2 43.3 243.9 39.0 238.5 34.9 232.9 30.8 227.3 26.6 221.7 22.3 216.1 18.1 210.3 14.2 204.3 10.4 198.1 7.0 191.6 3.6 185.1 0.2 178.3 -3.1 171.4 -6.3 164.3 -9.3 157.0 -12.0 149.5Z"/>
<path d="M-10.1 141.8 -12.0 134.1 -13.7 126.2 -15.2 118.1 -16.4 109.8 -16.7 101.5 -15.8 93.3 -14.0 85.4 -11.4 77.6 -8.2 70.1 -4.3 62.9 0.4 56.1 5.7 49.9 11.3 43.9 17.0 38.2 22.7 32.6 28.3 27.1 34.1 21.8 40.1 16.9 46.3 12.3 52.5 7.8 59.0 3.7 65.9 0.2 73.0 -2.6 80.2 -5.1 87.4 -7.3 94.6 -9.1 101.9 -10.5 109.2 -11.5 116.5 -12.1 123.7 -12.3 130.9 -12.2 137.9 -11.9 144.9 -11.2 151.7 -10.3 158.4 -9.3 165.0 -8.3 171.5 -7.4 178.0 -6.4 184.3 -5.2 190.7 -3.8 196.9 -2.3 203.1 -0.5 209.3 1.3 215.4 3.2 221.6 5.1 227.8 7.1 233.9 9.4 239.9 12.0 245.7 15.1 251.4 18.4 256.9 22.1 262.1 26.1 267.1 30.4 272.0 34.8 276.7 39.4 281.5 44.0 286.5 48.5 291.7 53.1 296.9 57.7 302.1 62.6 307.4 67.7 312.9 72.9 318.4 78.3 324.2 83.9 330.2 89.7 336.3 95.9 342.4 102.5 348.9 109.4 354.0 116.9 353.6 125.3 347.9 133.8 341.7 141.8 336.4 149.3 331.4 156.4 326.7 163.1 322.0 169.5 317.3 175.6 312.6 181.4 307.9 186.9 303.3 192.1 298.8 197.2 294.4 202.2 289.9 206.8 285.2 211.2 280.4 215.3 275.6 219.3 270.9 223.0 266.1 226.7 261.5 230.2 257.1 233.9 252.9 237.7 248.6 241.5 244.2 245.1 239.7 248.5 235.1 251.8 230.5 255.2 225.9 258.8 221.3 262.6 216.6 266.4 211.7 270.1 206.6 273.6 201.3 277.1 195.7 280.5 190.0 283.6 184.0 286.4 177.9 289.0 171.5 291.1 165.0 292.8 158.4 294.0 151.6 294.9 144.8 295.4 137.9 295.7 130.9 295.5 124.0 294.9 117.1 293.6 110.4 291.7 103.9 289.4 97.5 286.6 91.3 283.4 85.4 279.7 79.7 275.6 74.4 271.2 69.2 266.6 64.4 261.7 59.7 256.7 55.1 251.7 50.6 246.7 46.2 241.5 42.0 236.2 38.0 230.7 34.0 225.3 29.9 219.8 25.7 214.3 21.7 208.6 17.8 202.8 14.1 196.7 10.8 190.4 7.4 184.0 4.1 177.5 0.9 170.7 -2.2 163.8 -5.1 156.7 -7.8 149.3Z"/>
<path d="M-5.8 141.8 -7.7 134.3 -9.3 126.5 -10.8 118.7 -12.0 110.6 -12.3 102.5 -11.4 94.5 -9.6 86.8 -7.1 79.2 -3.9 71.8 -0.1 64.8 4.5 58.2 9.6 52.1 15.1 46.3 20.7 40.7 26.2 35.3 31.7 29.9 37.3 24.8 43.2 20.0 49.2 15.4 55.3 11.1 61.6 7.1 68.3 3.7 75.2 0.9 82.3 -1.5 89.3 -3.6 96.4 -5.4 103.5 -6.8 110.6 -7.7 117.7 -8.3 124.7 -8.5 131.7 -8.5 138.6 -8.1 145.3 -7.5 152.0 -6.6 158.6 -5.6 165.0 -4.6 171.4 -3.7 177.6 -2.7 183.9 -1.6 190.0 -0.2 196.2 1.3 202.2 2.9 208.2 4.8 214.2 6.6 220.2 8.5 226.3 10.4 232.2 12.6 238.1 15.2 243.8 18.2 249.3 21.4 254.6 25.0 259.7 28.9 264.6 33.1 269.3 37.5 274.0 41.9 278.7 46.4 283.6 50.8 288.6 55.2 293.7 59.8 298.8 64.6 303.9 69.5 309.2 74.5 314.7 79.8 320.3 85.3 326.1 91.0 332.1 97.0 338.1 103.4 344.4 110.2 349.4 117.5 349.0 125.7 343.4 134.0 337.3 141.8 332.2 149.1 327.4 156.0 322.7 162.6 318.1 168.8 313.6 174.7 309.0 180.4 304.4 185.8 299.9 190.9 295.6 195.9 291.3 200.7 286.9 205.2 282.3 209.5 277.6 213.5 272.9 217.4 268.3 221.0 263.7 224.6 259.2 228.1 254.9 231.7 250.7 235.4 246.6 239.0 242.3 242.5 237.9 245.9 233.4 249.1 228.9 252.4 224.4 255.9 220.0 259.7 215.4 263.4 210.5 266.9 205.6 270.4 200.4 273.8 195.0 277.1 189.4 280.1 183.6 282.9 177.6 285.4 171.4 287.5 165.0 289.1 158.5 290.3 151.9 291.1 145.3 291.7 138.5 291.9 131.8 291.8 125.0 291.1 118.3 289.9 111.8 288.1 105.4 285.8 99.1 283.0 93.1 279.9 87.3 276.4 81.8 272.4 76.6 268.0 71.6 263.5 66.8 258.8 62.3 253.9 57.8 249.0 53.4 244.1 49.1 239.0 45.0 233.9 41.1 228.6 37.2 223.2 33.2 217.9 29.1 212.5 25.2 207.0 21.4 201.3 17.8 195.4 14.5 189.2 11.3 183.0 8.1 176.6 4.9 170.0 1.9 163.3 -0.9 156.3 -3.5 149.2Z"/>
<path d="M-1.5 141.8 -3.3 134.4 -4.9 126.9 -6.4 119.2 -7.6 111.4 -7.8 103.5 -7.0 95.7 -5.2 88.1 -2.7 80.7 0.3 73.6 4.0 66.7 8.5 60.3 13.6 54.4 18.9 48.7 24.3 43.3 29.7 38.0 35.0 32.7 40.5 27.7 46.2 23.0 52.1 18.6 58.1 14.4 64.2 10.5 70.7 7.2 77.5 4.4 84.3 2.1 91.2 0.0 98.1 -1.7 105.0 -3.0 111.9 -4.0 118.9 -4.5 125.7 -4.8 132.5 -4.7 139.2 -4.3 145.8 -3.7 152.3 -2.9 158.7 -1.9 165.0 -0.9 171.2 -0.1 177.3 0.9 183.4 2.0 189.4 3.3 195.4 4.8 201.3 6.4 207.1 8.2 213.0 10.0 218.8 11.8 224.7 13.7 230.6 15.9 236.2 18.4 241.8 21.3 247.2 24.4 252.4 27.9 257.3 31.8 262.1 35.8 266.7 40.1 271.2 44.5 275.8 48.8 280.6 53.1 285.5 57.4 290.5 61.9 295.4 66.5 300.5 71.3 305.6 76.2 310.9 81.4 316.4 86.7 322.1 92.3 327.9 98.2 333.7 104.4 339.9 111.0 344.8 118.1 344.4 126.1 338.9 134.2 333.0 141.8 328.0 148.9 323.3 155.6 318.7 162.0 314.3 168.1 309.9 173.9 305.4 179.4 300.9 184.7 296.5 189.7 292.3 194.5 288.1 199.2 283.8 203.6 279.3 207.8 274.7 211.7 270.2 215.5 265.7 219.1 261.2 222.5 256.8 225.9 252.6 229.4 248.6 233.0 244.5 236.6 240.4 240.0 236.1 243.3 231.7 246.4 227.3 249.6 222.9 253.1 218.6 256.7 214.1 260.3 209.4 263.8 204.5 267.2 199.5 270.5 194.2 273.7 188.8 276.6 183.1 279.3 177.2 281.8 171.2 283.8 165.0 285.4 158.7 286.5 152.3 287.4 145.8 287.9 139.2 288.2 132.6 288.0 126.0 287.4 119.5 286.1 113.1 284.4 106.9 282.1 100.8 279.5 94.9 276.5 89.3 273.0 83.9 269.1 78.8 264.9 73.9 260.5 69.3 255.9 64.8 251.1 60.5 246.3 56.2 241.5 52.0 236.6 48.0 231.5 44.2 226.4 40.4 221.2 36.5 216.0 32.5 210.8 28.7 205.4 25.0 199.8 21.5 194.0 18.3 188.0 15.2 182.0 12.0 175.7 8.9 169.3 6.0 162.7 3.2 156.0 0.7 149.0Z"/>
<path d="M2.8 141.8 1.0 134.6 -0.6 127.3 -2.0 119.8 -3.1 112.2 -3.4 104.5 -2.5 96.9 -0.8 89.5 1.6 82.3 4.5 75.3 8.1 68.7 12.5 62.4 17.5 56.6 22.6 51.1 27.9 45.8 33.2 40.6 38.4 35.5 43.7 30.6 49.3 26.1 55.0 21.8 60.8 17.6 66.8 13.9 73.2 10.6 79.7 8.0 86.4 5.7 93.1 3.7 99.8 2.0 106.6 0.7 113.3 -0.2 120.1 -0.8 126.7 -1.0 133.4 -0.9 139.9 -0.6 146.3 0.0 152.7 0.9 158.9 1.8 165.0 2.7 171.0 3.6 177.0 4.5 182.9 5.6 188.8 6.9 194.6 8.3 200.3 9.9 206.0 11.7 211.7 13.4 217.5 15.2 223.2 17.0 228.9 19.1 234.4 21.6 239.8 24.4 245.1 27.5 250.1 30.9 255.0 34.6 259.6 38.5 264.1 42.7 268.5 47.0 273.0 51.2 277.6 55.4 282.4 59.6 287.2 63.9 292.1 68.4 297.0 73.1 302.0 77.9 307.1 82.9 312.5 88.1 318.0 93.6 323.7 99.3 329.4 105.4 335.4 111.8 340.1 118.7 339.7 126.5 334.4 134.4 328.7 141.8 323.8 148.7 319.2 155.3 314.8 161.5 310.4 167.4 306.1 173.1 301.8 178.5 297.4 183.6 293.1 188.4 289.0 193.2 284.9 197.7 280.7 202.0 276.4 206.1 271.9 209.9 267.5 213.6 263.1 217.1 258.7 220.4 254.4 223.7 250.4 227.2 246.4 230.7 242.5 234.1 238.4 237.5 234.2 240.7 229.9 243.7 225.7 246.9 221.4 250.2 217.2 253.7 212.8 257.3 208.3 260.7 203.5 264.0 198.6 267.2 193.5 270.3 188.2 273.1 182.6 275.8 176.9 278.1 171.0 280.1 165.0 281.7 158.8 282.8 152.6 283.6 146.3 284.1 139.9 284.4 133.4 284.2 127.0 283.6 120.7 282.4 114.4 280.7 108.4 278.5 102.5 275.9 96.7 273.0 91.2 269.6 86.0 265.8 81.0 261.7 76.3 257.4 71.8 252.9 67.4 248.3 63.2 243.6 59.0 238.9 54.9 234.2 51.0 229.2 47.3 224.2 43.6 219.1 39.8 214.1 36.0 209.0 32.2 203.7 28.6 198.3 25.2 192.7 22.1 186.9 19.0 180.9 15.9 174.8 13.0 168.6 10.1 162.2 7.4 155.6 4.9 148.8Z"/>
<path d="M7.1 141.8 5.3 134.8 3.8 127.7 2.4 120.4 1.3 112.9 1.1 105.5 1.9 98.1 3.6 90.9 5.9 83.9 8.8 77.1 12.3 70.6 16.6 64.5 21.4 58.9 26.4 53.5 31.5 48.4 36.7 43.3 41.7 38.4 46.9 33.6 52.4 29.2 57.9 25.0 63.6 20.9 69.4 17.2 75.6 14.1 82.0 11.5 88.5 9.3 95.0 7.3 101.5 5.7 108.1 4.4 114.7 3.6 121.2 3.0 127.8 2.8 134.2 2.9 140.6 3.2 146.8 3.8 153.0 4.6 159.0 5.5 165.0 6.4 170.9 7.2 176.7 8.1 182.5 9.2 188.2 10.5 193.8 11.9 199.4 13.4 205.0 15.1 210.5 16.8 216.1 18.5 221.7 20.3 227.2 22.4 232.6 24.8 237.8 27.5 242.9 30.5 247.9 33.8 252.6 37.4 257.1 41.3 261.5 45.3 265.8 49.5 270.1 53.6 274.6 57.7 279.3 61.8 284.0 66.0 288.7 70.4 293.5 74.9 298.4 79.6 303.4 84.5 308.6 89.5 314.0 94.8 319.5 100.4 325.0 106.3 330.9 112.6 335.5 119.4 335.1 126.9 330.0 134.6 324.3 141.8 319.6 148.5 315.1 154.9 310.8 161.0 306.6 166.8 302.4 172.3 298.2 177.5 293.9 182.4 289.8 187.2 285.7 191.8 281.7 196.2 277.7 200.5 273.4 204.4 269.1 208.1 264.8 211.7 260.5 215.1 256.2 218.3 252.1 221.6 248.1 224.9 244.3 228.3 240.4 231.7 236.5 235.0 232.4 238.1 228.2 241.0 224.1 244.1 219.9 247.3 215.8 250.8 211.6 254.2 207.1 257.5 202.5 260.7 197.7 263.9 192.7 266.9 187.5 269.7 182.2 272.2 176.6 274.5 170.9 276.5 165.0 278.0 159.0 279.1 152.9 279.9 146.8 280.4 140.5 280.6 134.3 280.5 128.0 279.9 121.8 278.7 115.8 277.0 109.9 274.9 104.1 272.4 98.5 269.5 93.2 266.2 88.1 262.5 83.3 258.5 78.6 254.4 74.2 250.0 70.0 245.5 65.9 240.9 61.8 236.4 57.8 231.7 54.1 226.9 50.4 222.0 46.8 217.1 43.1 212.2 39.4 207.2 35.7 202.1 32.2 196.8 28.9 191.3 25.9 185.7 22.9 179.9 19.9 174.0 17.0 167.9 14.2 161.7 11.6 155.2 9.2 148.6Z"/>
<path d="M11.4 141.8 9.7 135.0 8.2 128.1 6.9 121.0 5.8 113.7 5.5 106.4 6.3 99.3 7.9 92.3 10.2 85.5 13.0 78.9 16.4 72.5 20.6 66.6 25.3 61.1 30.2 55.9 35.2 50.9 40.1 46.0 45.1 41.2 50.1 36.5 55.4 32.2 60.8 28.1 66.3 24.2 72.0 20.6 78.0 17.6 84.3 15.1 90.6 12.9 96.9 11.0 103.3 9.4 109.6 8.2 116.0 7.3 122.4 6.8 128.8 6.6 135.0 6.6 141.2 7.0 147.3 7.5 153.3 8.3 159.2 9.2 165.0 10.1 170.7 10.9 176.4 11.8 182.0 12.8 187.5 14.1 193.0 15.4 198.5 16.9 203.9 18.5 209.3 20.2 214.7 21.9 220.1 23.6 225.5 25.6 230.7 27.9 235.9 30.6 240.8 33.5 245.6 36.8 250.2 40.3 254.6 44.0 258.9 47.9 263.0 52.0 267.3 56.0 271.7 60.0 276.2 63.9 280.8 68.0 285.3 72.3 290.0 76.7 294.7 81.3 299.6 86.0 304.7 91.0 309.9 96.1 315.3 101.5 320.7 107.3 326.4 113.3 330.9 120.0 330.5 127.3 325.5 134.8 320.0 141.8 315.4 148.4 311.0 154.6 306.9 160.5 302.7 166.1 298.7 171.4 294.6 176.5 290.4 181.3 286.4 186.0 282.4 190.4 278.6 194.8 274.6 198.9 270.5 202.7 266.2 206.3 262.1 209.8 257.9 213.1 253.7 216.3 249.7 219.4 245.8 222.6 242.1 226.0 238.4 229.3 234.5 232.4 230.6 235.4 226.5 238.3 222.5 241.3 218.4 244.5 214.4 247.8 210.3 251.1 206.0 254.4 201.5 257.5 196.8 260.6 192.0 263.5 186.9 266.2 181.7 268.7 176.3 270.9 170.7 272.8 165.0 274.3 159.2 275.4 153.2 276.1 147.3 276.6 141.2 276.8 135.1 276.7 129.0 276.1 123.0 275.0 117.1 273.4 111.4 271.3 105.8 268.8 100.3 266.0 95.1 262.8 90.2 259.2 85.5 255.4 81.0 251.3 76.7 247.0 72.6 242.6 68.6 238.2 64.6 233.8 60.7 229.3 57.1 224.6 53.6 219.8 50.0 215.0 46.4 210.3 42.8 205.4 39.2 200.5 35.8 195.3 32.6 190.0 29.7 184.5 26.7 178.8 23.8 173.1 21.0 167.2 18.3 161.1 15.7 154.9 13.4 148.4Z"/>
<path d="M15.7 141.8 14.0 135.2 12.6 128.5 11.3 121.6 10.2 114.5 10.0 107.4 10.8 100.5 12.3 93.7 14.6 87.0 17.3 80.6 20.6 74.5 24.6 68.7 29.2 63.4 33.9 58.3 38.8 53.4 43.6 48.7 48.4 44.0 53.3 39.5 58.5 35.3 63.8 31.3 69.1 27.5 74.6 24.0 80.5 21.1 86.5 18.6 92.6 16.5 98.8 14.6 105.0 13.1 111.2 11.9 117.4 11.1 123.6 10.6 129.8 10.3 135.9 10.4 141.9 10.7 147.8 11.3 153.6 12.0 159.4 12.9 165.0 13.8 170.6 14.6 176.1 15.4 181.5 16.4 186.9 17.6 192.2 18.9 197.5 20.4 202.8 22.0 208.0 23.6 213.3 25.2 218.6 26.9 223.8 28.8 228.9 31.1 233.9 33.7 238.7 36.5 243.4 39.7 247.8 43.1 252.1 46.7 256.2 50.6 260.3 54.5 264.4 58.4 268.7 62.2 273.1 66.1 277.5 70.1 282.0 74.3 286.5 78.6 291.1 83.0 295.9 87.6 300.8 92.4 305.9 97.4 311.1 102.7 316.4 108.2 321.9 114.1 326.2 120.6 325.9 127.7 321.0 135.0 315.7 141.8 311.2 148.2 307.0 154.2 302.9 160.0 298.9 165.4 294.9 170.6 290.9 175.5 286.9 180.2 283.0 184.7 279.2 189.1 275.4 193.3 271.6 197.3 267.5 201.0 263.4 204.5 259.4 207.9 255.3 211.1 251.3 214.2 247.3 217.2 243.6 220.4 240.0 223.6 236.3 226.8 232.6 229.9 228.7 232.8 224.8 235.7 220.8 238.5 217.0 241.6 213.1 244.8 209.0 248.1 204.8 251.2 200.5 254.3 195.9 257.2 191.2 260.1 186.3 262.7 181.2 265.2 176.0 267.3 170.6 269.2 165.0 270.6 159.3 271.6 153.6 272.4 147.7 272.9 141.9 273.1 135.9 272.9 130.0 272.4 124.2 271.3 118.5 269.7 112.9 267.7 107.4 265.3 102.1 262.6 97.1 259.5 92.3 256.0 87.7 252.2 83.3 248.2 79.2 244.1 75.2 239.8 71.3 235.5 67.4 231.2 63.7 226.8 60.1 222.3 56.7 217.7 53.3 213.0 49.7 208.3 46.2 203.6 42.7 198.8 39.4 193.8 36.3 188.6 33.4 183.3 30.6 177.8 27.8 172.2 25.0 166.5 22.4 160.6 19.9 154.5 17.6 148.2Z"/>
<path d="M20.0 141.8 18.3 135.4 17.0 128.8 15.7 122.1 14.7 115.3 14.4 108.4 15.2 101.7 16.7 95.0 18.9 88.6 21.5 82.4 24.7 76.4 28.7 70.8 33.1 65.6 37.7 60.7 42.4 56.0 47.1 51.3 51.8 46.8 56.5 42.4 61.5 38.3 66.7 34.5 71.8 30.8 77.2 27.4 82.9 24.5 88.8 22.1 94.7 20.1 100.7 18.3 106.7 16.8 112.7 15.6 118.8 14.8 124.8 14.3 130.8 14.1 136.7 14.2 142.6 14.5 148.3 15.0 154.0 15.8 159.5 16.6 165.0 17.4 170.4 18.2 175.7 19.0 181.0 20.0 186.3 21.2 191.5 22.5 196.6 23.9 201.7 25.4 206.8 27.0 211.9 28.6 217.0 30.2 222.1 32.1 227.1 34.3 231.9 36.8 236.6 39.6 241.1 42.6 245.4 45.9 249.6 49.5 253.6 53.2 257.6 57.0 261.5 60.8 265.7 64.5 270.0 68.3 274.3 72.2 278.6 76.2 283.0 80.4 287.5 84.7 292.1 89.2 296.9 93.8 301.8 98.7 306.9 103.8 312.0 109.2 317.4 114.9 321.6 121.2 321.3 128.1 316.5 135.2 311.4 141.8 307.0 148.0 302.9 153.9 298.9 159.4 295.1 164.7 291.2 169.8 287.3 174.6 283.4 179.1 279.6 183.5 275.9 187.7 272.2 191.8 268.5 195.7 264.6 199.3 260.6 202.7 256.6 206.0 252.7 209.1 248.8 212.1 245.0 215.1 241.3 218.1 237.8 221.3 234.3 224.4 230.7 227.4 226.9 230.2 223.1 233.0 219.2 235.7 215.5 238.7 211.7 241.9 207.8 245.0 203.7 248.1 199.4 251.0 195.0 253.9 190.5 256.7 185.7 259.3 180.8 261.6 175.7 263.7 170.4 265.5 165.0 266.9 159.5 267.9 153.9 268.6 148.2 269.1 142.5 269.3 136.8 269.2 131.0 268.6 125.4 267.5 119.8 266.0 114.4 264.1 109.1 261.7 103.9 259.1 99.0 256.1 94.4 252.7 89.9 249.0 85.7 245.2 81.6 241.2 77.7 237.0 74.0 232.8 70.2 228.7 66.6 224.4 63.1 220.0 59.8 215.5 56.5 210.9 53.0 206.4 49.6 201.9 46.2 197.2 43.0 192.3 40.0 187.3 37.2 182.1 34.5 176.8 31.7 171.3 29.1 165.8 26.5 160.0 24.1 154.1 21.9 148.0Z"/>
<path d="M24.3 141.8 22.7 135.6 21.3 129.2 20.1 122.7 19.1 116.1 18.9 109.4 19.6 102.8 21.1 96.4 23.2 90.2 25.8 84.1 28.9 78.3 32.7 72.9 37.0 67.9 41.5 63.1 46.0 58.5 50.6 54.0 55.1 49.6 59.7 45.3 64.6 41.4 69.6 37.7 74.6 34.1 79.8 30.8 85.3 28.0 91.0 25.7 96.8 23.7 102.6 21.9 108.4 20.5 114.3 19.4 120.1 18.6 126.0 18.1 131.8 17.9 137.5 18.0 143.2 18.3 148.8 18.8 154.3 19.5 159.7 20.3 165.0 21.1 170.2 21.9 175.4 22.7 180.6 23.6 185.6 24.8 190.7 26.0 195.7 27.4 200.6 28.9 205.5 30.4 210.5 31.9 215.5 33.5 220.4 35.3 225.2 37.5 229.9 39.9 234.5 42.6 238.9 45.6 243.1 48.8 247.1 52.2 251.0 55.8 254.8 59.5 258.7 63.2 262.7 66.8 266.9 70.5 271.1 74.2 275.3 78.1 279.5 82.2 283.9 86.4 288.3 90.7 293.0 95.2 297.8 99.9 302.7 104.9 307.7 110.2 312.9 115.7 317.0 121.8 316.6 128.5 312.0 135.4 307.0 141.8 302.8 147.8 298.8 153.5 295.0 158.9 291.2 164.1 287.5 169.0 283.7 173.6 279.9 178.0 276.2 182.3 272.6 186.4 269.1 190.3 265.4 194.1 261.6 197.6 257.8 200.9 253.9 204.1 250.1 207.1 246.3 210.0 242.6 212.9 239.1 215.9 235.7 218.9 232.2 221.9 228.7 224.8 225.1 227.6 221.4 230.3 217.6 233.0 214.0 235.9 210.3 238.9 206.5 242.0 202.5 244.9 198.4 247.8 194.2 250.6 189.7 253.3 185.1 255.8 180.3 258.1 175.4 260.1 170.2 261.8 165.0 263.2 159.7 264.2 154.2 264.9 148.7 265.3 143.2 265.5 137.6 265.4 132.0 264.9 126.5 263.8 121.1 262.3 115.9 260.4 110.7 258.2 105.7 255.6 101.0 252.7 96.5 249.4 92.1 245.8 88.0 242.1 84.1 238.2 80.3 234.2 76.6 230.2 73.0 226.1 69.5 221.9 66.1 217.7 62.9 213.3 59.7 208.9 56.4 204.5 53.0 200.1 49.8 195.5 46.6 190.8 43.7 185.9 41.0 180.9 38.3 175.7 35.7 170.5 33.1 165.1 30.6 159.5 28.3 153.8 26.1 147.9Z"/>
<path d="M28.5 141.8 27.0 135.8 25.7 129.6 24.5 123.3 23.6 116.9 23.3 110.4 24.0 104.0 25.5 97.8 27.5 91.8 30.0 85.9 33.0 80.3 36.7 75.0 40.9 70.1 45.2 65.5 49.7 61.0 54.1 56.7 58.5 52.4 62.9 48.3 67.7 44.5 72.5 40.8 77.3 37.3 82.4 34.2 87.7 31.5 93.3 29.2 98.9 27.3 104.5 25.6 110.2 24.2 115.8 23.1 121.5 22.3 127.2 21.9 132.8 21.7 138.4 21.7 143.9 22.0 149.3 22.5 154.6 23.2 159.9 24.0 165.0 24.8 170.1 25.5 175.1 26.3 180.1 27.2 185.0 28.3 189.9 29.5 194.7 30.8 199.5 32.3 204.3 33.8 209.1 35.3 214.0 36.8 218.7 38.6 223.4 40.7 227.9 43.0 232.4 45.6 236.6 48.5 240.7 51.6 244.6 54.9 248.4 58.4 252.1 62.0 255.8 65.6 259.7 69.1 263.8 72.6 267.8 76.3 271.9 80.1 276.0 84.0 280.3 88.1 284.6 92.3 289.1 96.6 293.7 101.2 298.5 106.0 303.3 111.1 308.3 116.5 312.4 122.4 312.0 128.9 307.5 135.6 302.7 141.8 298.6 147.6 294.7 153.1 291.0 158.4 287.4 163.4 283.7 168.1 280.1 172.6 276.4 176.9 272.8 181.0 269.3 185.0 265.9 188.8 262.4 192.5 258.7 195.9 254.9 199.1 251.2 202.2 247.5 205.1 243.8 207.9 240.2 210.7 236.8 213.6 233.5 216.6 230.2 219.5 226.8 222.3 223.2 225.0 219.6 227.6 216.0 230.2 212.5 233.0 208.9 236.0 205.2 238.9 201.4 241.8 197.4 244.6 193.3 247.3 189.0 249.9 184.5 252.3 179.8 254.5 175.0 256.5 170.1 258.2 165.0 259.5 159.8 260.4 154.6 261.1 149.2 261.6 143.8 261.8 138.4 261.6 133.0 261.1 127.7 260.1 122.5 258.7 117.4 256.8 112.4 254.7 107.5 252.2 102.9 249.3 98.5 246.1 94.4 242.7 90.4 239.1 86.6 235.3 82.9 231.4 79.3 227.5 75.8 223.5 72.4 219.5 69.1 215.4 66.0 211.1 62.9 206.9 59.7 202.6 56.4 198.3 53.3 193.9 50.2 189.3 47.4 184.6 44.8 179.7 42.2 174.7 39.6 169.6 37.1 164.4 34.7 159.0 32.4 153.4 30.3 147.7Z"/>
<path d="M32.8 141.8 31.4 136.0 30.1 130.0 28.9 123.9 28.0 117.6 27.8 111.4 28.5 105.2 29.9 99.2 31.8 93.3 34.3 87.6 37.2 82.2 40.8 77.1 44.8 72.4 49.0 67.9 53.3 63.6 57.6 59.4 61.8 55.2 66.2 51.2 70.7 47.5 75.4 44.0 80.1 40.6 85.0 37.5 90.2 34.9 95.5 32.8 101.0 30.9 106.4 29.3 111.9 27.9 117.4 26.8 122.9 26.1 128.4 25.6 133.8 25.5 139.2 25.5 144.5 25.8 149.8 26.3 155.0 27.0 160.0 27.7 165.0 28.5 169.9 29.2 174.8 29.9 179.6 30.8 184.4 31.9 189.1 33.0 193.8 34.3 198.4 35.7 203.1 37.2 207.7 38.6 212.4 40.1 217.0 41.8 221.6 43.8 226.0 46.1 230.2 48.6 234.4 51.4 238.3 54.4 242.1 57.7 245.8 61.0 249.3 64.5 253.0 68.0 256.8 71.4 260.7 74.8 264.6 78.3 268.5 82.0 272.5 85.8 276.6 89.7 280.8 93.8 285.2 98.1 289.7 102.5 294.3 107.2 299.0 112.1 303.8 117.3 307.7 123.0 307.4 129.3 303.1 135.8 298.4 141.8 294.4 147.4 290.7 152.8 287.0 157.9 283.5 162.7 280.0 167.3 276.5 171.7 272.9 175.8 269.4 179.8 266.0 183.7 262.7 187.4 259.3 190.9 255.8 194.2 252.1 197.3 248.5 200.3 244.9 203.1 241.4 205.9 237.9 208.6 234.6 211.4 231.4 214.2 228.1 217.0 224.8 219.8 221.4 222.4 217.9 224.9 214.4 227.4 211.0 230.1 207.5 233.0 204.0 235.9 200.2 238.6 196.4 241.3 192.4 244.0 188.2 246.5 183.9 248.8 179.4 251.0 174.7 252.9 169.9 254.5 165.0 255.8 160.0 256.7 154.9 257.4 149.7 257.8 144.5 258.0 139.3 257.9 134.0 257.4 128.9 256.4 123.8 255.0 118.9 253.2 114.0 251.1 109.4 248.7 104.9 245.9 100.6 242.8 96.6 239.5 92.7 236.0 89.0 232.3 85.5 228.6 82.0 224.8 78.6 221.0 75.3 217.1 72.1 213.0 69.1 208.9 66.1 204.8 63.0 200.7 59.8 196.5 56.8 192.3 53.8 187.8 51.1 183.3 48.6 178.5 46.0 173.7 43.5 168.7 41.1 163.6 38.8 158.4 36.6 153.0 34.6 147.5Z"/>
<path d="M37.1 141.8 35.7 136.2 34.5 130.4 33.4 124.5 32.5 118.4 32.3 112.4 32.9 106.4 34.3 100.6 36.2 94.9 38.5 89.4 41.3 84.1 44.8 79.2 48.7 74.6 52.7 70.3 56.9 66.1 61.1 62.0 65.2 58.0 69.4 54.2 73.8 50.6 78.3 47.2 82.9 43.9 87.6 40.9 92.6 38.4 97.8 36.3 103.0 34.5 108.3 32.9 113.6 31.6 118.9 30.6 124.3 29.8 129.6 29.4 134.8 29.2 140.1 29.3 145.2 29.6 150.3 30.0 155.3 30.7 160.2 31.4 165.0 32.2 169.8 32.8 174.5 33.6 179.1 34.4 183.8 35.5 188.3 36.6 192.9 37.8 197.4 39.2 201.8 40.6 206.4 42.0 210.9 43.4 215.4 45.1 219.7 47.0 224.0 49.2 228.1 51.7 232.1 54.4 235.9 57.3 239.6 60.4 243.1 63.7 246.6 67.0 250.1 70.4 253.8 73.7 257.6 77.0 261.4 80.4 265.2 84.0 269.0 87.6 273.0 91.4 277.1 95.4 281.3 99.5 285.6 103.8 290.1 108.3 294.6 113.1 299.3 118.1 303.1 123.6 302.8 129.7 298.6 136.0 294.0 141.8 290.2 147.3 286.6 152.4 283.1 157.3 279.7 162.0 276.3 166.5 272.8 170.7 269.4 174.7 266.0 178.6 262.8 182.3 259.5 185.9 256.2 189.3 252.8 192.5 249.3 195.5 245.8 198.4 242.3 201.1 238.9 203.8 235.5 206.4 232.3 209.1 229.2 211.9 226.1 214.6 222.9 217.2 219.6 219.8 216.2 222.2 212.8 224.6 209.5 227.3 206.2 230.0 202.7 232.8 199.1 235.5 195.4 238.1 191.5 240.7 187.5 243.1 183.3 245.4 178.9 247.4 174.4 249.3 169.8 250.9 165.0 252.1 160.1 253.0 155.2 253.6 150.2 254.0 145.2 254.2 140.1 254.1 135.0 253.6 130.0 252.7 125.1 251.3 120.3 249.6 115.7 247.6 111.2 245.2 106.8 242.6 102.7 239.6 98.8 236.3 95.1 233.0 91.5 229.4 88.1 225.8 84.7 222.1 81.4 218.4 78.2 214.6 75.2 210.7 72.2 206.8 69.3 202.8 66.3 198.8 63.3 194.8 60.3 190.6 57.4 186.4 54.8 181.9 52.3 177.3 49.9 172.6 47.5 167.9 45.1 162.9 42.9 157.9 40.8 152.7 38.8 147.3Z"/>
<path d="M41.4 141.8 40.0 136.3 38.8 130.8 37.8 125.0 36.9 119.2 36.7 113.4 37.3 107.6 38.6 102.0 40.5 96.5 42.7 91.2 45.5 86.1 48.8 81.3 52.6 76.9 56.5 72.7 60.5 68.7 64.5 64.7 68.5 60.8 72.6 57.1 76.8 53.6 81.2 50.4 85.6 47.2 90.2 44.3 95.0 41.9 100.0 39.8 105.1 38.1 110.2 36.6 115.3 35.3 120.5 34.3 125.6 33.6 130.8 33.2 135.8 33.0 140.9 33.1 145.9 33.3 150.8 33.8 155.6 34.4 160.3 35.1 165.0 35.8 169.6 36.5 174.2 37.2 178.7 38.0 183.1 39.0 187.5 40.1 191.9 41.3 196.3 42.6 200.6 44.0 205.0 45.3 209.3 46.7 213.7 48.3 217.9 50.2 222.0 52.3 226.0 54.7 229.9 57.3 233.5 60.1 237.1 63.1 240.5 66.3 243.9 69.5 247.3 72.8 250.8 76.0 254.5 79.2 258.1 82.5 261.8 85.9 265.5 89.5 269.4 93.1 273.3 96.9 277.4 100.9 281.6 105.0 285.9 109.4 290.3 114.0 294.8 118.9 298.5 124.2 298.1 130.2 294.1 136.2 289.7 141.8 286.0 147.1 282.5 152.1 279.1 156.8 275.8 161.3 272.5 165.6 269.2 169.7 265.9 173.6 262.6 177.3 259.5 180.9 256.4 184.4 253.2 187.7 249.9 190.8 246.5 193.7 243.1 196.5 239.7 199.1 236.4 201.7 233.1 204.2 230.0 206.8 227.1 209.5 224.0 212.2 220.9 214.7 217.8 217.1 214.5 219.5 211.2 221.9 208.0 224.4 204.8 227.1 201.4 229.8 198.0 232.4 194.3 234.9 190.6 237.3 186.7 239.7 182.6 241.9 178.4 243.9 174.1 245.7 169.6 247.2 165.0 248.4 160.3 249.3 155.5 249.9 150.7 250.3 145.8 250.4 140.9 250.3 136.0 249.9 131.2 248.9 126.5 247.6 121.8 246.0 117.3 244.0 113.0 241.8 108.8 239.2 104.8 236.3 101.0 233.2 97.4 229.9 94.0 226.5 90.7 222.9 87.4 219.4 84.2 215.8 81.1 212.2 78.2 208.4 75.3 204.6 72.5 200.7 69.6 196.9 66.7 193.0 63.8 189.0 61.1 184.9 58.5 180.6 56.1 176.1 53.8 171.6 51.4 167.0 49.2 162.2 47.0 157.3 44.9 152.3 43.0 147.1Z"/>
<path d="M45.7 141.8 44.4 136.5 43.2 131.1 42.2 125.6 41.4 120.0 41.2 114.3 41.8 108.8 43.0 103.3 44.8 98.1 47.0 92.9 49.6 88.0 52.9 83.4 56.5 79.1 60.3 75.1 64.2 71.2 68.0 67.4 71.9 63.6 75.8 60.0 79.9 56.7 84.1 53.5 88.4 50.5 92.8 47.7 97.5 45.3 102.3 43.4 107.2 41.7 112.1 40.2 117.1 39.0 122.0 38.0 127.0 37.4 131.9 36.9 136.9 36.8 141.7 36.8 146.5 37.1 151.3 37.5 155.9 38.1 160.5 38.8 165.0 39.5 169.4 40.1 173.8 40.8 178.2 41.6 182.5 42.6 186.8 43.6 191.0 44.8 195.2 46.1 199.4 47.4 203.6 48.7 207.8 50.0 212.0 51.6 216.0 53.4 220.0 55.4 223.9 57.7 227.6 60.2 231.2 62.9 234.6 65.9 237.9 68.9 241.1 72.0 244.4 75.2 247.8 78.2 251.4 81.3 254.9 84.5 258.5 87.8 262.1 91.3 265.8 94.8 269.5 98.5 273.5 102.3 277.5 106.3 281.7 110.5 285.9 115.0 290.3 119.7 293.8 124.8 293.5 130.6 289.6 136.4 285.4 141.8 281.8 146.9 278.4 151.7 275.2 156.3 272.0 160.7 268.8 164.8 265.6 168.8 262.4 172.5 259.3 176.1 256.2 179.6 253.2 182.9 250.1 186.1 246.9 189.1 243.6 191.9 240.4 194.6 237.1 197.2 233.9 199.6 230.8 202.1 227.8 204.6 224.9 207.2 222.0 209.7 219.0 212.2 215.9 214.5 212.8 216.8 209.6 219.1 206.5 221.5 203.4 224.1 200.2 226.7 196.8 229.2 193.3 231.6 189.7 234.0 185.9 236.3 182.0 238.4 178.0 240.3 173.8 242.1 169.4 243.5 165.0 244.7 160.5 245.5 155.9 246.1 151.2 246.5 146.5 246.7 141.8 246.6 137.1 246.1 132.4 245.2 127.8 244.0 123.3 242.4 119.0 240.5 114.8 238.3 110.7 235.8 106.9 233.0 103.2 230.0 99.8 226.8 96.4 223.5 93.2 220.1 90.1 216.7 87.0 213.3 84.0 209.7 81.2 206.1 78.4 202.4 75.7 198.7 72.9 195.0 70.1 191.2 67.3 187.3 64.7 183.4 62.2 179.2 59.9 174.9 57.6 170.6 55.4 166.1 53.2 161.5 51.1 156.8 49.1 151.9 47.3 146.9Z"/>
<path d="M50.0 141.8 48.7 136.7 47.6 131.5 46.6 126.2 45.8 120.8 45.6 115.3 46.2 110.0 47.4 104.7 49.1 99.6 51.2 94.7 53.8 89.9 56.9 85.5 60.4 81.4 64.0 77.5 67.8 73.7 71.5 70.1 75.2 66.5 79.0 63.0 83.0 59.8 87.0 56.7 91.1 53.8 95.4 51.1 99.9 48.8 104.5 46.9 109.3 45.3 114.0 43.9 118.8 42.7 123.6 41.8 128.4 41.1 133.1 40.7 137.9 40.6 142.6 40.6 147.2 40.9 151.8 41.3 156.3 41.9 160.7 42.5 165.0 43.2 169.3 43.8 173.5 44.5 177.7 45.2 181.9 46.2 186.0 47.2 190.1 48.3 194.1 49.5 198.1 50.8 202.2 52.0 206.3 53.3 210.3 54.8 214.2 56.6 218.0 58.5 221.8 60.7 225.3 63.2 228.8 65.8 232.1 68.6 235.3 71.5 238.4 74.6 241.6 77.6 244.9 80.5 248.3 83.5 251.7 86.6 255.1 89.8 258.6 93.1 262.1 96.5 265.8 100.1 269.6 103.7 273.5 107.6 277.5 111.7 281.6 116.0 285.8 120.5 289.2 125.4 288.9 131.0 285.1 136.6 281.1 141.8 277.6 146.7 274.3 151.4 271.2 155.8 268.1 160.0 265.1 164.0 262.0 167.8 258.9 171.4 255.9 174.9 252.9 178.2 250.0 181.4 247.1 184.5 244.0 187.4 240.8 190.1 237.7 192.7 234.6 195.2 231.4 197.5 228.4 199.9 225.5 202.3 222.7 204.8 219.9 207.3 217.1 209.6 214.1 211.9 211.0 214.1 208.0 216.3 205.0 218.7 202.0 221.2 198.9 223.7 195.7 226.1 192.3 228.4 188.8 230.7 185.2 232.9 181.4 234.9 177.5 236.8 173.5 238.5 169.3 239.9 165.0 241.0 160.6 241.8 156.2 242.4 151.7 242.7 147.2 242.9 142.6 242.8 138.1 242.4 133.6 241.5 129.2 240.3 124.8 238.7 120.6 236.9 116.6 234.8 112.7 232.4 109.0 229.7 105.5 226.8 102.1 223.8 98.9 220.6 95.8 217.3 92.8 214.0 89.8 210.7 87.0 207.3 84.2 203.8 81.6 200.2 78.9 196.6 76.2 193.1 73.5 189.4 70.8 185.7 68.3 181.9 65.9 177.9 63.7 173.7 61.5 169.5 59.3 165.2 57.2 160.8 55.2 156.3 53.3 151.6 51.5 146.8Z"/>
<path d="M54.3 141.8 53.0 136.9 52.0 131.9 51.0 126.8 50.2 121.6 50.1 116.3 50.6 111.2 51.8 106.1 53.5 101.2 55.5 96.4 57.9 91.9 60.9 87.6 64.3 83.7 67.8 79.9 71.4 76.3 75.0 72.7 78.6 69.3 82.2 65.9 86.0 62.8 89.9 59.9 93.9 57.0 98.0 54.5 102.3 52.3 106.8 50.4 111.4 48.9 115.9 47.5 120.5 46.4 125.1 45.5 129.7 44.9 134.3 44.5 138.9 44.3 143.4 44.4 147.9 44.6 152.3 45.0 156.6 45.6 160.8 46.2 165.0 46.9 169.1 47.5 173.2 48.1 177.2 48.9 181.2 49.7 185.2 50.7 189.1 51.8 193.0 53.0 196.9 54.2 200.8 55.4 204.7 56.6 208.6 58.1 212.4 59.7 216.1 61.6 219.6 63.8 223.1 66.1 226.4 68.6 229.6 71.3 232.7 74.1 235.7 77.1 238.7 80.0 241.9 82.8 245.1 85.7 248.4 88.6 251.7 91.7 255.1 94.9 258.5 98.2 262.0 101.6 265.7 105.2 269.5 108.9 273.3 112.8 277.2 116.9 281.3 121.3 284.6 126.1 284.3 131.4 280.7 136.8 276.7 141.8 273.4 146.5 270.3 151.0 267.2 155.3 264.3 159.3 261.3 163.2 258.4 166.8 255.4 170.3 252.5 173.6 249.6 176.9 246.9 180.0 244.0 182.9 241.0 185.7 238.0 188.3 235.0 190.8 232.0 193.2 229.0 195.5 226.0 197.7 223.3 200.1 220.6 202.5 217.9 204.8 215.1 207.1 212.3 209.3 209.3 211.4 206.4 213.5 203.5 215.8 200.6 218.2 197.6 220.6 194.5 222.9 191.3 225.2 187.9 227.4 184.4 229.5 180.8 231.5 177.0 233.3 173.1 234.9 169.1 236.2 165.0 237.3 160.8 238.1 156.5 238.6 152.2 239.0 147.8 239.1 143.4 239.0 139.1 238.6 134.7 237.8 130.5 236.6 126.3 235.1 122.3 233.4 118.4 231.3 114.6 229.0 111.1 226.4 107.7 223.7 104.4 220.7 101.4 217.6 98.4 214.5 95.5 211.3 92.6 208.1 89.9 204.8 87.2 201.5 84.7 198.0 82.1 194.6 79.5 191.1 76.9 187.7 74.3 184.1 71.9 180.4 69.6 176.5 67.5 172.6 65.4 168.5 63.3 164.4 61.2 160.1 59.3 155.7 57.4 151.2 55.7 146.6Z"/>
<path d="M58.6 141.8 57.4 137.1 56.4 132.3 55.4 127.4 54.7 122.3 54.5 117.3 55.1 112.3 56.2 107.5 57.8 102.8 59.7 98.2 62.1 93.8 65.0 89.7 68.2 85.9 71.6 82.3 75.0 78.8 78.5 75.4 81.9 72.1 85.4 68.9 89.1 65.9 92.8 63.0 96.6 60.3 100.6 57.8 104.7 55.7 109.1 54.0 113.4 52.5 117.8 51.2 122.2 50.1 126.7 49.2 131.1 48.6 135.5 48.3 139.9 48.1 144.2 48.2 148.5 48.4 152.8 48.8 156.9 49.3 161.0 49.9 165.0 50.5 169.0 51.1 172.9 51.7 176.8 52.5 180.6 53.3 184.4 54.2 188.2 55.3 191.9 56.4 195.7 57.6 199.4 58.7 203.2 59.9 206.9 61.3 210.5 62.9 214.1 64.7 217.5 66.8 220.8 69.0 224.0 71.5 227.1 74.0 230.0 76.8 232.9 79.6 235.8 82.4 238.9 85.1 242.0 87.9 245.2 90.7 248.4 93.7 251.6 96.7 254.9 99.9 258.3 103.2 261.8 106.6 265.4 110.1 269.1 113.9 272.9 117.9 276.8 122.1 279.9 126.7 279.7 131.8 276.2 136.9 272.4 141.8 269.2 146.3 266.2 150.7 263.3 154.7 260.4 158.6 257.6 162.3 254.8 165.9 251.9 169.2 249.1 172.4 246.4 175.5 243.7 178.5 240.9 181.3 238.1 184.0 235.1 186.5 232.2 188.9 229.4 191.2 226.5 193.4 223.7 195.6 221.0 197.8 218.4 200.1 215.8 202.4 213.2 204.6 210.4 206.7 207.6 208.7 204.8 210.7 202.0 212.9 199.2 215.2 196.4 217.6 193.4 219.8 190.3 222.0 187.0 224.1 183.7 226.1 180.2 228.0 176.6 229.7 172.8 231.3 169.0 232.6 165.0 233.6 161.0 234.3 156.9 234.9 152.7 235.2 148.5 235.4 144.3 235.3 140.1 234.8 135.9 234.1 131.8 232.9 127.8 231.5 124.0 229.8 120.2 227.9 116.6 225.7 113.2 223.2 109.9 220.5 106.8 217.7 103.8 214.7 101.0 211.7 98.2 208.6 95.4 205.5 92.8 202.4 90.2 199.2 87.8 195.9 85.4 192.5 82.8 189.2 80.3 185.9 77.9 182.4 75.5 178.9 73.3 175.2 71.2 171.4 69.2 167.5 67.2 163.5 65.2 159.4 63.4 155.2 61.6 150.8 60.0 146.4Z"/>
</g>
<g fill="none" stroke="#000" stroke-width="0.5" stroke-opacity="0.9">
<path d="M67.3 141.5 66.2 137.2 65.2 132.8 64.4 128.3 63.9 123.8 63.8 119.2 64.3 114.6 65.3 110.2 66.7 105.9 68.4 101.7 70.6 97.7 73.2 94.0 76.0 90.4 79.0 87.1 82.1 83.9 85.3 80.8 88.4 77.8 91.6 74.9 94.9 72.1 98.3 69.5 101.8 67.1 105.4 64.9 109.2 62.9 113.0 61.3 117.0 59.9 121.0 58.7 125.0 57.7 129.0 56.9 133.0 56.4 137.0 56.0 141.0 55.9 144.9 55.9 148.8 56.1 152.6 56.5 156.4 57.0 160.1 57.5 163.7 58.0 167.3 58.6 170.8 59.2 174.4 59.8 177.8 60.6 181.3 61.5 184.7 62.4 188.1 63.4 191.5 64.4 194.9 65.5 198.3 66.7 201.7 68.0 204.9 69.5 208.1 71.1 211.3 73.0 214.3 75.0 217.2 77.2 220.0 79.6 222.7 82.0 225.4 84.5 228.1 87.0 230.9 89.5 233.7 92.0 236.6 94.7 239.5 97.4 242.5 100.1 245.5 103.0 248.6 106.0 251.8 109.2 255.0 112.5 258.0 116.0 260.6 119.8 262.6 123.9 263.7 128.2 263.7 132.7 262.7 137.1 260.9 141.5 258.5 145.7 255.9 149.6 253.2 153.4 250.6 156.9 247.9 160.3 245.3 163.6 242.7 166.6 240.2 169.6 237.6 172.4 235.1 175.1 232.6 177.6 230.0 180.1 227.4 182.4 224.7 184.6 222.1 186.7 219.6 188.8 217.0 190.8 214.6 192.8 212.2 194.9 209.8 196.9 207.4 198.9 204.9 200.8 202.4 202.7 199.8 204.6 197.3 206.6 194.8 208.7 192.1 210.7 189.4 212.8 186.6 214.8 183.7 216.7 180.6 218.5 177.5 220.2 174.2 221.8 170.8 223.2 167.3 224.4 163.7 225.3 160.0 226.0 156.3 226.5 152.6 226.8 148.8 226.9 144.9 226.8 141.1 226.4 137.4 225.7 133.7 224.7 130.1 223.4 126.5 221.9 123.1 220.1 119.9 218.1 116.8 215.8 113.8 213.4 111.0 210.8 108.3 208.1 105.7 205.4 103.1 202.6 100.7 199.8 98.3 196.9 95.9 193.9 93.7 190.9 91.4 187.9 89.2 184.9 86.9 181.8 84.7 178.6 82.6 175.4 80.6 172.0 78.7 168.5 76.8 165.0 75.0 161.3 73.3 157.6 71.6 153.7 70.0 149.8 68.6 145.7Z"/>
<path d="M71.8 141.5 70.7 137.4 69.8 133.2 69.1 129.0 68.8 124.7 68.7 120.3 69.2 116.0 70.0 111.8 71.3 107.7 73.0 103.8 75.1 100.0 77.4 96.4 80.0 93.0 82.8 89.8 85.7 86.7 88.7 83.8 91.7 80.9 94.7 78.2 97.8 75.6 101.1 73.1 104.4 70.9 107.8 68.8 111.3 66.9 115.0 65.4 118.7 64.0 122.4 62.9 126.2 61.9 130.0 61.2 133.8 60.7 137.6 60.3 141.3 60.2 145.0 60.2 148.7 60.4 152.3 60.7 155.8 61.1 159.3 61.6 162.8 62.1 166.2 62.6 169.5 63.2 172.8 63.9 176.1 64.6 179.4 65.4 182.6 66.3 185.8 67.2 189.1 68.2 192.3 69.3 195.4 70.4 198.6 71.7 201.7 73.1 204.7 74.7 207.6 76.5 210.5 78.4 213.3 80.4 215.9 82.6 218.6 84.8 221.2 87.1 223.9 89.5 226.6 91.8 229.3 94.2 232.0 96.7 234.8 99.3 237.6 101.9 240.5 104.7 243.2 107.7 245.9 110.8 248.4 114.1 250.6 117.6 252.3 121.4 253.5 125.3 254.2 129.3 254.3 133.4 253.9 137.5 252.9 141.5 251.4 145.4 249.6 149.2 247.5 152.8 245.2 156.2 242.8 159.5 240.3 162.6 237.8 165.5 235.3 168.3 232.9 171.0 230.4 173.5 228.0 176.0 225.5 178.3 223.1 180.5 220.6 182.6 218.1 184.6 215.7 186.6 213.3 188.5 211.0 190.4 208.7 192.3 206.4 194.2 204.1 196.1 201.7 198.0 199.4 199.8 197.0 201.6 194.6 203.5 192.1 205.4 189.6 207.3 187.1 209.3 184.4 211.1 181.6 213.0 178.8 214.7 175.8 216.3 172.7 217.8 169.5 219.1 166.2 220.2 162.8 221.1 159.3 221.8 155.8 222.2 152.3 222.5 148.7 222.6 145.1 222.5 141.5 222.1 137.9 221.4 134.5 220.5 131.0 219.2 127.7 217.8 124.5 216.1 121.4 214.2 118.5 212.0 115.7 209.8 113.0 207.3 110.4 204.8 107.9 202.2 105.5 199.6 103.2 196.9 101.0 194.1 98.8 191.4 96.6 188.5 94.5 185.7 92.4 182.8 90.3 179.8 88.2 176.8 86.2 173.7 84.3 170.5 82.5 167.2 80.7 163.8 79.0 160.3 77.4 156.8 75.8 153.1 74.3 149.4 73.0 145.5Z"/>
<path d="M76.2 141.5 75.3 137.6 74.5 133.7 73.9 129.7 73.6 125.6 73.6 121.5 74.0 117.4 74.9 113.4 76.1 109.6 77.6 105.8 79.5 102.2 81.7 98.8 84.1 95.6 86.7 92.5 89.4 89.6 92.1 86.8 95.0 84.1 97.9 81.5 100.8 79.0 103.9 76.7 107.0 74.6 110.3 72.6 113.6 70.9 117.0 69.4 120.5 68.1 124.0 67.0 127.6 66.1 131.2 65.4 134.7 64.9 138.3 64.6 141.8 64.4 145.3 64.4 148.8 64.6 152.2 64.8 155.5 65.2 158.8 65.6 162.0 66.1 165.3 66.6 168.4 67.2 171.6 67.8 174.7 68.5 177.7 69.3 180.8 70.1 183.8 71.0 186.9 71.9 189.9 72.9 192.9 74.1 195.8 75.3 198.7 76.7 201.6 78.2 204.4 79.8 207.1 81.6 209.7 83.5 212.3 85.5 214.8 87.6 217.4 89.7 220.0 91.9 222.5 94.1 225.1 96.4 227.7 98.8 230.3 101.3 232.9 103.9 235.4 106.6 237.7 109.5 239.9 112.6 241.8 115.8 243.4 119.2 244.7 122.8 245.5 126.5 246.0 130.2 246.2 134.0 245.9 137.8 245.3 141.5 244.4 145.2 243.1 148.7 241.5 152.2 239.6 155.5 237.6 158.6 235.4 161.6 233.2 164.4 230.9 167.1 228.5 169.6 226.2 172.0 223.9 174.3 221.5 176.5 219.2 178.6 216.8 180.6 214.5 182.6 212.2 184.4 209.9 186.3 207.7 188.1 205.5 189.9 203.3 191.6 201.1 193.4 198.9 195.2 196.6 196.9 194.4 198.6 192.1 200.4 189.8 202.2 187.4 204.0 185.0 205.8 182.5 207.6 179.8 209.3 177.1 210.9 174.3 212.4 171.4 213.8 168.3 215.0 165.2 216.0 162.0 216.9 158.8 217.5 155.5 218.0 152.1 218.3 148.8 218.3 145.4 218.2 142.0 217.8 138.7 217.1 135.4 216.2 132.2 215.1 129.1 213.7 126.0 212.1 123.1 210.3 120.3 208.3 117.7 206.2 115.1 203.9 112.7 201.5 110.3 199.1 108.1 196.6 105.9 194.1 103.7 191.5 101.6 188.8 99.6 186.1 97.6 183.4 95.6 180.7 93.6 177.9 91.7 175.0 89.8 172.0 88.0 169.0 86.3 165.9 84.6 162.7 83.0 159.4 81.5 156.0 80.0 152.5 78.6 148.9 77.4 145.3Z"/>
<path d="M80.9 141.5 80.0 137.8 79.3 134.1 78.8 130.3 78.6 126.5 78.7 122.7 79.1 118.8 79.8 115.1 80.9 111.4 82.4 107.9 84.1 104.5 86.1 101.3 88.3 98.2 90.7 95.2 93.2 92.4 95.8 89.8 98.4 87.2 101.1 84.8 103.9 82.5 106.8 80.4 109.8 78.4 112.8 76.5 116.0 74.9 119.2 73.5 122.4 72.2 125.7 71.2 129.1 70.3 132.4 69.7 135.7 69.2 139.1 68.9 142.4 68.7 145.7 68.7 148.9 68.8 152.1 69.0 155.2 69.4 158.3 69.8 161.4 70.2 164.4 70.7 167.4 71.2 170.3 71.8 173.2 72.5 176.1 73.2 179.0 74.0 181.8 74.8 184.7 75.7 187.5 76.7 190.3 77.8 193.1 78.9 195.8 80.2 198.5 81.7 201.1 83.2 203.7 84.9 206.2 86.7 208.6 88.5 211.1 90.4 213.5 92.4 216.0 94.5 218.4 96.6 220.8 98.8 223.2 101.0 225.6 103.4 227.8 106.0 230.0 108.6 232.0 111.5 233.7 114.5 235.2 117.6 236.5 120.8 237.4 124.2 238.0 127.6 238.4 131.1 238.5 134.6 238.4 138.0 238.0 141.5 237.4 144.9 236.4 148.2 235.2 151.5 233.7 154.6 232.1 157.6 230.2 160.5 228.3 163.2 226.2 165.7 224.1 168.2 221.9 170.5 219.7 172.7 217.5 174.8 215.3 176.8 213.1 178.7 210.9 180.5 208.7 182.3 206.5 184.0 204.4 185.7 202.3 187.4 200.2 189.0 198.1 190.7 196.0 192.3 193.9 194.0 191.8 195.6 189.6 197.3 187.5 199.0 185.2 200.6 182.9 202.3 180.5 203.9 178.1 205.5 175.5 207.0 172.9 208.4 170.1 209.7 167.3 210.8 164.4 211.8 161.4 212.6 158.3 213.2 155.2 213.7 152.1 213.9 148.9 213.9 145.8 213.8 142.6 213.4 139.5 212.8 136.4 211.9 133.4 210.9 130.5 209.6 127.6 208.1 124.9 206.4 122.3 204.5 119.8 202.5 117.3 200.4 115.0 198.2 112.8 195.9 110.7 193.6 108.6 191.2 106.6 188.7 104.6 186.2 102.7 183.7 100.8 181.1 98.9 178.5 97.1 175.9 95.3 173.1 93.6 170.4 91.9 167.5 90.2 164.5 88.7 161.5 87.1 158.4 85.7 155.2 84.3 151.9 83.1 148.5 81.9 145.1Z"/>
<path d="M85.7 141.5 84.9 138.1 84.3 134.6 83.9 131.0 83.8 127.4 83.9 123.8 84.3 120.3 85.0 116.8 86.0 113.3 87.3 110.0 88.9 106.8 90.7 103.7 92.7 100.8 94.9 98.0 97.2 95.4 99.6 92.8 102.0 90.4 104.6 88.2 107.2 86.0 109.9 84.0 112.7 82.1 115.6 80.4 118.5 78.9 121.5 77.6 124.5 76.4 127.6 75.4 130.7 74.6 133.8 74.0 136.9 73.5 140.0 73.2 143.1 73.0 146.1 73.0 149.2 73.1 152.1 73.3 155.1 73.6 157.9 73.9 160.8 74.3 163.6 74.8 166.4 75.3 169.1 75.9 171.9 76.5 174.6 77.2 177.3 77.9 179.9 78.7 182.6 79.5 185.2 80.5 187.8 81.5 190.4 82.6 192.9 83.8 195.5 85.2 197.9 86.6 200.3 88.2 202.7 89.8 205.0 91.5 207.3 93.3 209.6 95.2 211.9 97.1 214.1 99.1 216.4 101.2 218.5 103.4 220.6 105.7 222.6 108.2 224.5 110.8 226.1 113.5 227.6 116.3 228.8 119.3 229.7 122.4 230.5 125.5 231.0 128.7 231.3 131.9 231.4 135.1 231.3 138.3 231.0 141.5 230.6 144.7 229.9 147.8 229.0 150.8 227.8 153.7 226.5 156.6 224.9 159.3 223.2 161.9 221.4 164.4 219.6 166.7 217.6 168.9 215.6 171.0 213.5 173.0 211.4 174.9 209.4 176.7 207.3 178.4 205.2 180.1 203.2 181.7 201.2 183.3 199.2 184.9 197.2 186.4 195.2 188.0 193.3 189.5 191.3 191.0 189.3 192.6 187.3 194.1 185.2 195.7 183.1 197.2 180.9 198.8 178.7 200.3 176.4 201.7 174.0 203.1 171.5 204.4 168.9 205.6 166.3 206.6 163.6 207.5 160.8 208.3 158.0 208.9 155.1 209.3 152.2 209.5 149.2 209.5 146.3 209.4 143.3 209.0 140.4 208.4 137.6 207.6 134.8 206.6 132.0 205.4 129.4 204.0 126.8 202.5 124.4 200.7 122.0 198.9 119.7 196.9 117.6 194.9 115.5 192.7 113.5 190.5 111.5 188.3 109.6 186.0 107.8 183.6 106.0 181.3 104.2 178.9 102.4 176.4 100.7 173.9 99.1 171.3 97.5 168.7 95.9 166.0 94.4 163.2 92.9 160.3 91.5 157.4 90.1 154.4 88.9 151.3 87.7 148.1 86.6 144.9Z"/>
<path d="M90.6 141.5 89.9 138.3 89.4 135.0 89.0 131.7 88.9 128.4 89.1 125.1 89.5 121.7 90.2 118.5 91.1 115.3 92.3 112.2 93.7 109.2 95.3 106.3 97.1 103.5 99.1 100.9 101.2 98.4 103.4 96.1 105.7 93.8 108.1 91.7 110.5 89.7 113.0 87.8 115.6 86.1 118.2 84.5 121.0 83.1 123.7 81.8 126.5 80.7 129.4 79.8 132.2 79.0 135.1 78.4 138.0 78.0 140.9 77.7 143.7 77.5 146.5 77.5 149.3 77.5 152.1 77.7 154.8 77.9 157.5 78.3 160.1 78.6 162.7 79.1 165.3 79.5 167.9 80.1 170.4 80.6 172.9 81.3 175.4 82.0 177.9 82.7 180.3 83.5 182.8 84.4 185.2 85.4 187.6 86.4 190.0 87.6 192.3 88.8 194.6 90.1 196.8 91.6 199.0 93.1 201.2 94.7 203.4 96.4 205.5 98.1 207.6 99.9 209.6 101.8 211.7 103.8 213.6 105.9 215.4 108.2 217.2 110.5 218.7 113.0 220.1 115.5 221.3 118.2 222.3 121.0 223.1 123.9 223.7 126.8 224.1 129.7 224.3 132.7 224.4 135.6 224.4 138.6 224.2 141.5 223.9 144.4 223.4 147.3 222.7 150.1 221.8 152.8 220.7 155.5 219.4 158.1 218.0 160.5 216.4 162.9 214.7 165.1 213.0 167.2 211.1 169.2 209.3 171.1 207.4 172.9 205.4 174.6 203.5 176.2 201.6 177.8 199.7 179.3 197.8 180.8 195.9 182.2 194.0 183.7 192.2 185.1 190.3 186.5 188.5 188.0 186.6 189.4 184.7 190.8 182.8 192.3 180.8 193.7 178.8 195.1 176.7 196.5 174.6 197.8 172.4 199.1 170.1 200.3 167.7 201.3 165.2 202.3 162.7 203.1 160.1 203.8 157.5 204.4 154.8 204.7 152.1 204.9 149.4 204.9 146.7 204.8 144.0 204.4 141.3 203.9 138.6 203.1 136.0 202.2 133.5 201.1 131.1 199.8 128.7 198.4 126.4 196.8 124.2 195.1 122.1 193.3 120.0 191.4 118.1 189.4 116.2 187.4 114.4 185.3 112.6 183.1 110.9 180.9 109.2 178.7 107.6 176.5 105.9 174.2 104.4 171.8 102.8 169.4 101.3 166.9 99.9 164.4 98.5 161.8 97.1 159.1 95.8 156.4 94.6 153.6 93.4 150.7 92.4 147.7 91.4 144.6Z"/>
<path d="M95.0 141.5 94.4 138.5 94.0 135.5 93.8 132.5 93.7 129.4 93.9 126.3 94.2 123.3 94.9 120.2 95.7 117.3 96.8 114.4 98.1 111.6 99.5 108.9 101.2 106.4 102.9 103.9 104.8 101.6 106.8 99.4 108.9 97.3 111.1 95.4 113.4 93.5 115.7 91.8 118.1 90.2 120.5 88.7 123.0 87.4 125.6 86.3 128.1 85.2 130.7 84.4 133.4 83.7 136.0 83.1 138.7 82.7 141.3 82.4 143.9 82.2 146.5 82.1 149.1 82.2 151.6 82.3 154.1 82.5 156.6 82.8 159.1 83.1 161.5 83.5 163.8 84.0 166.2 84.5 168.5 85.0 170.8 85.6 173.1 86.2 175.4 86.9 177.7 87.7 179.9 88.5 182.2 89.4 184.4 90.4 186.5 91.5 188.7 92.7 190.8 93.9 192.9 95.2 194.9 96.6 196.9 98.1 198.9 99.6 200.9 101.2 202.8 102.9 204.7 104.7 206.6 106.5 208.3 108.5 210.0 110.6 211.6 112.8 213.0 115.1 214.3 117.5 215.4 120.0 216.3 122.5 217.0 125.2 217.5 127.9 217.9 130.6 218.1 133.3 218.2 136.1 218.2 138.8 218.0 141.5 217.7 144.2 217.3 146.9 216.6 149.5 215.8 152.0 214.8 154.5 213.6 156.9 212.3 159.2 210.9 161.3 209.4 163.4 207.8 165.4 206.1 167.2 204.4 169.0 202.6 170.7 200.8 172.2 199.1 173.8 197.3 175.2 195.6 176.6 193.8 178.0 192.1 179.4 190.4 180.7 188.7 182.0 187.0 183.4 185.2 184.7 183.5 186.0 181.8 187.3 180.0 188.6 178.2 190.0 176.3 191.2 174.4 192.5 172.4 193.7 170.3 194.9 168.2 195.9 166.0 196.9 163.7 197.8 161.4 198.5 159.1 199.2 156.6 199.7 154.2 200.0 151.7 200.2 149.2 200.2 146.7 200.0 144.2 199.7 141.7 199.2 139.3 198.5 136.9 197.6 134.6 196.6 132.3 195.4 130.1 194.1 128.0 192.7 126.0 191.1 124.0 189.5 122.1 187.7 120.3 185.9 118.6 184.0 116.9 182.1 115.2 180.1 113.6 178.1 112.1 176.1 110.5 174.0 109.1 171.8 107.6 169.6 106.2 167.4 104.8 165.1 103.5 162.8 102.2 160.3 100.9 157.9 99.8 155.3 98.6 152.7 97.6 150.0 96.6 147.2 95.8 144.4Z"/>
<path d="M99.1 141.5 98.6 138.8 98.2 136.0 98.0 133.2 98.0 130.4 98.1 127.6 98.5 124.8 99.1 122.0 99.8 119.3 100.8 116.7 101.9 114.1 103.3 111.7 104.7 109.3 106.3 107.0 108.0 104.9 109.8 102.8 111.7 100.9 113.7 99.1 115.8 97.4 117.9 95.8 120.1 94.4 122.3 93.0 124.6 91.8 126.9 90.8 129.3 89.8 131.7 89.0 134.1 88.4 136.5 87.8 138.9 87.4 141.3 87.1 143.7 87.0 146.1 86.9 148.4 86.9 150.7 87.0 153.0 87.2 155.3 87.4 157.5 87.7 159.7 88.1 161.9 88.5 164.1 89.0 166.2 89.5 168.3 90.0 170.4 90.6 172.5 91.3 174.6 92.0 176.6 92.8 178.7 93.6 180.7 94.5 182.7 95.5 184.6 96.6 186.5 97.7 188.4 98.9 190.3 100.2 192.2 101.5 194.0 103.0 195.8 104.4 197.6 106.0 199.3 107.6 201.0 109.3 202.6 111.1 204.2 113.1 205.6 115.1 206.9 117.2 208.0 119.4 209.0 121.7 209.8 124.1 210.5 126.5 210.9 129.0 211.3 131.5 211.5 134.0 211.6 136.5 211.6 139.0 211.4 141.5 211.1 144.0 210.7 146.4 210.1 148.8 209.4 151.2 208.5 153.4 207.4 155.6 206.3 157.7 205.0 159.7 203.6 161.7 202.1 163.5 200.6 165.2 199.0 166.8 197.4 168.3 195.8 169.8 194.2 171.2 192.6 172.6 191.0 173.9 189.4 175.2 187.8 176.4 186.2 177.7 184.7 178.9 183.1 180.1 181.5 181.3 179.9 182.5 178.3 183.7 176.7 184.9 175.0 186.1 173.3 187.3 171.5 188.4 169.7 189.5 167.8 190.6 165.9 191.5 163.9 192.4 161.8 193.2 159.7 193.9 157.5 194.4 155.3 194.9 153.1 195.2 150.8 195.3 148.5 195.3 146.3 195.1 144.0 194.8 141.7 194.4 139.5 193.7 137.3 193.0 135.2 192.0 133.1 191.0 131.1 189.8 129.2 188.5 127.3 187.1 125.5 185.6 123.8 184.0 122.1 182.4 120.5 180.6 118.9 178.9 117.4 177.1 115.9 175.2 114.5 173.3 113.1 171.4 111.7 169.4 110.4 167.4 109.1 165.4 107.9 163.2 106.6 161.1 105.5 158.8 104.3 156.6 103.3 154.2 102.2 151.8 101.3 149.3 100.5 146.8 99.7 144.2Z"/>
<path d="M102.9 141.5 102.5 139.0 102.2 136.5 102.0 134.0 102.0 131.5 102.2 129.0 102.5 126.4 103.0 123.9 103.7 121.5 104.6 119.1 105.6 116.8 106.7 114.6 108.0 112.4 109.4 110.4 111.0 108.4 112.6 106.5 114.3 104.8 116.1 103.2 117.9 101.6 119.8 100.2 121.8 98.9 123.8 97.7 125.9 96.6 127.9 95.6 130.1 94.8 132.2 94.0 134.4 93.4 136.5 92.9 138.7 92.6 140.9 92.3 143.0 92.1 145.1 92.0 147.3 92.0 149.3 92.1 151.4 92.2 153.5 92.4 155.5 92.7 157.5 93.0 159.4 93.4 161.4 93.8 163.3 94.3 165.2 94.8 167.1 95.3 169.0 95.9 170.9 96.6 172.7 97.3 174.5 98.1 176.3 98.9 178.1 99.8 179.9 100.8 181.6 101.8 183.4 102.9 185.1 104.1 186.7 105.3 188.4 106.5 190.0 107.9 191.6 109.3 193.2 110.8 194.7 112.3 196.1 114.0 197.5 115.7 198.8 117.6 199.9 119.5 200.9 121.5 201.8 123.6 202.5 125.7 203.1 127.9 203.6 130.2 203.9 132.4 204.1 134.7 204.2 137.0 204.2 139.2 204.0 141.5 203.7 143.7 203.4 145.9 202.8 148.1 202.2 150.2 201.4 152.3 200.4 154.3 199.4 156.2 198.2 158.0 197.0 159.8 195.7 161.4 194.3 163.0 192.9 164.5 191.5 165.9 190.0 167.2 188.6 168.5 187.2 169.7 185.7 170.9 184.3 172.1 182.9 173.2 181.4 174.4 180.0 175.5 178.6 176.6 177.2 177.7 175.7 178.8 174.3 179.9 172.8 181.0 171.3 182.0 169.7 183.1 168.1 184.1 166.5 185.0 164.7 185.9 163.0 186.8 161.2 187.6 159.3 188.3 157.4 188.9 155.5 189.3 153.5 189.7 151.5 190.0 149.4 190.1 147.4 190.1 145.4 189.9 143.3 189.7 141.3 189.2 139.3 188.7 137.3 188.0 135.4 187.2 133.6 186.2 131.7 185.2 130.0 184.0 128.3 182.7 126.6 181.4 125.1 180.0 123.5 178.5 122.1 177.0 120.6 175.4 119.3 173.8 117.9 172.1 116.6 170.4 115.4 168.6 114.1 166.9 112.9 165.0 111.8 163.1 110.6 161.2 109.5 159.3 108.5 157.2 107.5 155.2 106.5 153.0 105.6 150.8 104.8 148.6 104.1 146.3 103.4 143.9Z"/>
<path d="M105.8 141.5 105.4 139.3 105.2 137.1 105.1 134.9 105.1 132.6 105.3 130.4 105.6 128.1 106.0 125.9 106.6 123.8 107.4 121.6 108.3 119.6 109.3 117.6 110.4 115.7 111.6 113.8 112.9 112.1 114.4 110.4 115.9 108.9 117.4 107.4 119.1 106.0 120.7 104.8 122.5 103.6 124.3 102.5 126.1 101.6 127.9 100.7 129.8 99.9 131.7 99.3 133.6 98.7 135.5 98.3 137.4 97.9 139.3 97.7 141.2 97.5 143.1 97.4 145.0 97.4 146.8 97.4 148.7 97.6 150.5 97.7 152.3 98.0 154.1 98.3 155.8 98.6 157.5 99.0 159.2 99.4 160.9 99.8 162.6 100.3 164.3 100.9 165.9 101.5 167.6 102.1 169.2 102.8 170.8 103.6 172.4 104.4 173.9 105.2 175.5 106.1 177.0 107.1 178.5 108.1 180.0 109.2 181.5 110.3 182.9 111.5 184.3 112.8 185.7 114.1 187.1 115.5 188.3 117.0 189.5 118.6 190.6 120.2 191.6 121.9 192.5 123.7 193.3 125.6 193.9 127.5 194.5 129.4 194.9 131.4 195.2 133.4 195.3 135.5 195.4 137.5 195.4 139.5 195.3 141.5 195.0 143.5 194.7 145.5 194.2 147.4 193.6 149.3 192.9 151.1 192.1 152.9 191.2 154.6 190.2 156.2 189.1 157.8 187.9 159.2 186.8 160.6 185.5 162.0 184.3 163.2 183.0 164.4 181.7 165.6 180.4 166.7 179.2 167.8 177.9 168.8 176.6 169.9 175.4 170.9 174.1 171.9 172.9 172.9 171.6 173.8 170.3 174.8 169.0 175.8 167.7 176.7 166.3 177.7 164.9 178.6 163.5 179.5 162.0 180.3 160.5 181.1 158.9 181.8 157.3 182.5 155.7 183.1 154.0 183.6 152.3 184.0 150.5 184.3 148.8 184.5 147.0 184.6 145.2 184.6 143.4 184.5 141.6 184.2 139.8 183.9 138.0 183.4 136.3 182.8 134.6 182.0 132.9 181.2 131.3 180.3 129.7 179.3 128.2 178.2 126.7 177.0 125.3 175.8 124.0 174.5 122.6 173.1 121.4 171.7 120.1 170.3 118.9 168.8 117.8 167.3 116.7 165.7 115.6 164.1 114.5 162.5 113.5 160.8 112.5 159.1 111.5 157.3 110.6 155.5 109.7 153.7 108.9 151.8 108.1 149.8 107.4 147.8 106.8 145.8 106.2 143.6Z"/>
<path d="M109.0 141.5 108.7 139.6 108.5 137.7 108.5 135.8 108.5 133.9 108.7 131.9 108.9 130.0 109.3 128.1 109.8 126.3 110.5 124.5 111.2 122.7 112.0 121.0 113.0 119.3 114.0 117.7 115.1 116.2 116.3 114.8 117.6 113.4 118.9 112.1 120.3 111.0 121.7 109.9 123.2 108.8 124.7 107.9 126.3 107.1 127.8 106.3 129.4 105.7 131.0 105.1 132.7 104.6 134.3 104.2 135.9 103.9 137.6 103.7 139.2 103.5 140.8 103.4 142.4 103.4 144.0 103.4 145.5 103.5 147.1 103.7 148.6 103.8 150.1 104.1 151.6 104.4 153.1 104.7 154.6 105.0 156.0 105.4 157.5 105.9 158.9 106.4 160.3 106.9 161.7 107.5 163.1 108.1 164.4 108.7 165.8 109.4 167.1 110.2 168.5 110.9 169.8 111.8 171.1 112.7 172.3 113.6 173.6 114.6 174.8 115.6 176.0 116.7 177.2 117.8 178.3 119.1 179.4 120.3 180.4 121.7 181.3 123.1 182.2 124.6 182.9 126.2 183.6 127.8 184.1 129.4 184.6 131.1 184.9 132.8 185.2 134.5 185.4 136.3 185.4 138.0 185.4 139.8 185.3 141.5 185.1 143.2 184.8 144.9 184.4 146.6 183.9 148.2 183.3 149.8 182.6 151.3 181.8 152.8 181.0 154.2 180.1 155.6 179.1 156.8 178.1 158.1 177.1 159.2 176.0 160.3 174.9 161.4 173.8 162.4 172.8 163.3 171.7 164.3 170.6 165.2 169.5 166.1 168.4 167.0 167.3 167.8 166.3 168.7 165.2 169.5 164.1 170.4 162.9 171.2 161.8 172.0 160.6 172.8 159.4 173.6 158.2 174.3 156.9 175.0 155.6 175.7 154.3 176.3 152.9 176.9 151.5 177.3 150.1 177.8 148.6 178.1 147.1 178.4 145.6 178.5 144.1 178.6 142.5 178.6 141.0 178.5 139.5 178.3 138.0 177.9 136.5 177.5 135.0 177.0 133.5 176.4 132.1 175.7 130.7 174.9 129.4 174.1 128.1 173.1 126.8 172.1 125.6 171.1 124.4 170.0 123.3 168.8 122.2 167.6 121.1 166.4 120.1 165.1 119.1 163.8 118.1 162.5 117.2 161.1 116.3 159.7 115.4 158.2 114.5 156.7 113.7 155.2 112.9 153.6 112.2 152.0 111.5 150.4 110.9 148.7 110.3 146.9 109.8 145.2 109.3 143.4Z"/>
<path d="M112.8 141.5 112.6 139.9 112.5 138.4 112.4 136.8 112.5 135.2 112.6 133.6 112.9 132.0 113.2 130.4 113.6 128.9 114.1 127.3 114.7 125.9 115.4 124.4 116.1 123.1 117.0 121.7 117.9 120.5 118.9 119.3 119.9 118.1 121.0 117.1 122.1 116.1 123.3 115.1 124.5 114.3 125.7 113.5 127.0 112.8 128.3 112.2 129.6 111.6 130.9 111.2 132.2 110.7 133.5 110.4 134.9 110.1 136.2 109.9 137.5 109.8 138.8 109.7 140.2 109.7 141.5 109.7 142.7 109.7 144.0 109.8 145.3 110.0 146.5 110.2 147.8 110.4 149.0 110.7 150.2 111.0 151.4 111.3 152.6 111.7 153.7 112.1 154.9 112.5 156.0 113.0 157.2 113.5 158.3 114.1 159.4 114.7 160.5 115.3 161.6 115.9 162.7 116.6 163.7 117.4 164.8 118.2 165.8 119.0 166.8 119.9 167.8 120.8 168.8 121.7 169.7 122.8 170.5 123.9 171.4 125.0 172.1 126.2 172.8 127.4 173.4 128.7 174.0 130.1 174.4 131.4 174.8 132.8 175.1 134.3 175.3 135.7 175.4 137.1 175.5 138.6 175.5 140.1 175.4 141.5 175.2 142.9 174.9 144.3 174.6 145.7 174.2 147.1 173.7 148.4 173.2 149.7 172.5 150.9 171.9 152.1 171.1 153.2 170.3 154.3 169.5 155.3 168.7 156.3 167.8 157.2 167.0 158.1 166.1 159.0 165.2 159.8 164.3 160.6 163.4 161.4 162.5 162.1 161.6 162.9 160.7 163.6 159.8 164.3 158.9 165.0 158.0 165.7 157.1 166.4 156.1 167.1 155.2 167.7 154.2 168.3 153.2 168.9 152.1 169.5 151.1 170.0 150.0 170.5 148.8 171.0 147.7 171.4 146.5 171.7 145.3 172.0 144.1 172.2 142.8 172.3 141.6 172.4 140.3 172.3 139.1 172.2 137.8 172.1 136.6 171.8 135.3 171.4 134.1 171.0 132.9 170.5 131.8 170.0 130.6 169.3 129.5 168.6 128.4 167.9 127.4 167.0 126.4 166.2 125.4 165.3 124.5 164.3 123.5 163.3 122.7 162.3 121.8 161.3 121.0 160.2 120.2 159.0 119.4 157.9 118.6 156.7 117.9 155.5 117.2 154.2 116.6 153.0 115.9 151.6 115.3 150.3 114.8 148.9 114.3 147.5 113.8 146.0 113.4 144.6 113.1 143.0Z"/>
<path d="M122.7 141.5 122.6 140.4 122.5 139.3 122.5 138.2 122.6 137.1 122.7 136.0 122.9 134.9 123.1 133.8 123.4 132.8 123.7 131.7 124.1 130.7 124.6 129.7 125.1 128.8 125.6 127.8 126.3 127.0 126.9 126.1 127.6 125.3 128.3 124.6 129.1 123.9 129.9 123.2 130.7 122.6 131.6 122.1 132.4 121.6 133.3 121.2 134.2 120.8 135.1 120.4 136.0 120.1 136.9 119.9 137.8 119.7 138.7 119.5 139.7 119.4 140.6 119.3 141.5 119.3 142.4 119.3 143.3 119.3 144.1 119.4 145.0 119.5 145.9 119.6 146.7 119.8 147.6 120.0 148.4 120.2 149.2 120.4 150.0 120.7 150.8 121.0 151.6 121.3 152.4 121.6 153.2 122.0 154.0 122.4 154.8 122.8 155.5 123.2 156.3 123.7 157.0 124.2 157.7 124.7 158.4 125.2 159.2 125.8 159.8 126.4 160.5 127.1 161.2 127.8 161.8 128.5 162.4 129.2 162.9 130.0 163.4 130.9 163.9 131.7 164.3 132.6 164.7 133.6 165.0 134.5 165.3 135.5 165.5 136.5 165.6 137.5 165.7 138.5 165.8 139.5 165.8 140.5 165.7 141.5 165.6 142.5 165.4 143.5 165.2 144.4 164.9 145.4 164.5 146.3 164.2 147.2 163.7 148.0 163.3 148.9 162.8 149.7 162.3 150.4 161.7 151.1 161.2 151.8 160.6 152.5 160.0 153.1 159.4 153.7 158.8 154.3 158.2 154.9 157.6 155.4 157.0 156.0 156.3 156.5 155.7 157.0 155.1 157.5 154.5 158.0 153.8 158.4 153.2 158.9 152.5 159.4 151.8 159.8 151.2 160.2 150.4 160.6 149.7 161.0 149.0 161.4 148.2 161.7 147.4 162.0 146.6 162.2 145.8 162.5 145.0 162.6 144.2 162.8 143.3 162.8 142.5 162.9 141.6 162.8 140.7 162.8 139.9 162.6 139.0 162.5 138.2 162.2 137.4 161.9 136.5 161.6 135.7 161.2 135.0 160.8 134.2 160.3 133.4 159.8 132.7 159.2 132.0 158.7 131.3 158.0 130.7 157.4 130.0 156.7 129.4 156.0 128.8 155.3 128.2 154.5 127.7 153.7 127.1 152.9 126.6 152.1 126.1 151.3 125.6 150.4 125.2 149.5 124.8 148.6 124.4 147.6 124.0 146.7 123.7 145.7 123.4 144.7 123.1 143.6 122.9 142.6Z" stroke-opacity="0.5"/>
<path d="M132.9 141.5 132.8 140.9 132.8 140.3 132.8 139.7 132.8 139.1 132.9 138.5 133.0 137.9 133.1 137.3 133.3 136.7 133.5 136.2 133.7 135.6 133.9 135.1 134.2 134.5 134.5 134.0 134.8 133.6 135.2 133.1 135.6 132.7 136.0 132.2 136.4 131.9 136.8 131.5 137.2 131.2 137.7 130.9 138.2 130.6 138.6 130.3 139.1 130.1 139.6 129.9 140.1 129.8 140.6 129.6 141.1 129.5 141.6 129.4 142.1 129.3 142.6 129.3 143.1 129.3 143.6 129.3 144.0 129.3 144.5 129.3 145.0 129.4 145.5 129.4 145.9 129.5 146.4 129.6 146.9 129.7 147.3 129.9 147.8 130.0 148.2 130.2 148.6 130.3 149.1 130.5 149.5 130.7 149.9 130.9 150.3 131.2 150.8 131.4 151.2 131.7 151.6 131.9 152.0 132.2 152.4 132.5 152.7 132.9 153.1 133.2 153.5 133.6 153.8 133.9 154.2 134.3 154.5 134.8 154.8 135.2 155.0 135.7 155.3 136.1 155.5 136.6 155.7 137.1 155.9 137.7 156.1 138.2 156.2 138.7 156.3 139.3 156.3 139.8 156.3 140.4 156.3 140.9 156.3 141.5 156.2 142.0 156.1 142.6 156.0 143.1 155.8 143.6 155.7 144.1 155.4 144.6 155.2 145.1 155.0 145.6 154.7 146.0 154.4 146.4 154.1 146.8 153.8 147.2 153.5 147.6 153.2 147.9 152.9 148.3 152.6 148.6 152.2 148.9 151.9 149.2 151.6 149.5 151.2 149.8 150.9 150.1 150.6 150.4 150.2 150.6 149.9 150.9 149.5 151.1 149.1 151.4 148.8 151.6 148.4 151.8 148.0 152.1 147.6 152.3 147.2 152.4 146.8 152.6 146.3 152.8 145.9 152.9 145.4 153.0 145.0 153.1 144.5 153.1 144.1 153.2 143.6 153.2 143.2 153.2 142.7 153.1 142.2 153.1 141.8 153.0 141.3 152.8 140.8 152.7 140.4 152.5 140.0 152.3 139.5 152.1 139.1 151.8 138.7 151.5 138.3 151.3 137.9 150.9 137.5 150.6 137.2 150.2 136.8 149.9 136.5 149.5 136.1 149.1 135.8 148.7 135.5 148.2 135.2 147.8 134.9 147.4 134.7 146.9 134.4 146.4 134.2 145.9 133.9 145.4 133.7 144.9 133.5 144.3 133.4 143.8 133.2 143.2 133.1 142.7 133.0 142.1Z" stroke-opacity="0.5"/>
</g>
<path d="M62.9 141.8 61.7 137.3 60.7 132.7 59.9 128.0 59.1 123.1 59.0 118.3 59.5 113.5 60.6 108.9 62.1 104.3 64.0 99.9 66.2 95.7 69.0 91.8 72.1 88.2 75.3 84.7 78.7 81.4 82.0 78.1 85.3 74.9 88.6 71.8 92.1 68.9 95.7 66.2 99.4 63.6 103.2 61.2 107.2 59.2 111.3 57.5 115.5 56.1 119.7 54.8 124.0 53.8 128.2 53.0 132.5 52.4 136.7 52.0 140.9 51.9 145.1 51.9 149.2 52.2 153.2 52.5 157.2 53.0 161.2 53.6 165.0 54.2 168.8 54.8 172.6 55.4 176.3 56.1 180.0 56.9 183.6 57.8 187.3 58.7 190.8 59.8 194.4 61.0 198.0 62.1 201.6 63.2 205.2 64.5 208.7 66.1 212.1 67.9 215.4 69.8 218.6 72.0 221.6 74.3 224.6 76.8 227.4 79.4 230.2 82.1 233.0 84.8 235.9 87.4 238.9 90.0 242.0 92.8 245.0 95.6 248.1 98.5 251.3 101.6 254.5 104.7 257.9 108.0 261.4 111.4 264.9 115.0 268.5 118.8 272.3 122.9 275.3 127.3 275.0 132.2 271.7 137.1 268.1 141.8 265.0 146.2 262.1 150.3 259.3 154.2 256.6 157.9 253.9 161.5 251.1 164.9 248.4 168.1 245.7 171.2 243.1 174.1 240.5 177.0 237.9 179.7 235.1 182.3 232.3 184.7 229.5 187.0 226.8 189.2 224.0 191.3 221.3 193.4 218.8 195.6 216.3 197.8 213.8 200.0 211.2 202.1 208.6 204.1 205.9 206.0 203.2 208.0 200.5 210.1 197.9 212.3 195.1 214.5 192.2 216.6 189.3 218.7 186.2 220.8 182.9 222.7 179.6 224.5 176.1 226.2 172.5 227.7 168.8 228.9 165.0 229.9 161.1 230.6 157.2 231.1 153.2 231.4 149.2 231.6 145.1 231.5 141.1 231.1 137.1 230.3 133.2 229.3 129.3 227.9 125.6 226.3 122.0 224.4 118.5 222.3 115.3 219.9 112.1 217.3 109.1 214.6 106.3 211.8 103.6 208.9 100.9 205.9 98.2 203.0 95.7 200.0 93.2 196.9 90.9 193.7 88.6 190.5 86.2 187.3 83.7 184.1 81.4 180.8 79.1 177.4 77.0 173.8 75.0 170.2 73.1 166.4 71.1 162.6 69.3 158.7 67.5 154.6 65.8 150.5 64.2 146.2Z" fill="none" stroke="#fff" stroke-width="2.8" stroke-linejoin="round"/>
<circle cx="149.8" cy="141.8" r="1.3" fill="#fff"/>
<path d="M42.6 124.0L42.7 137.4" fill="none" stroke="#ffe414" stroke-width="1.40" stroke-linecap="round"/><path d="M42.8 143.0L40.4 136.0L42.7 137.4L45.0 136.0Z" fill="#ffe414" stroke="#ffe414" stroke-width="0.5" stroke-linejoin="round"/>
<path d="M56.6 124.0L57.0 162.0M53.6 151.5L57.0 162.0L60.2 151.5" fill="none" stroke="#ffe414" stroke-width="1.45" stroke-linecap="round" stroke-linejoin="miter"/>
<path d="M68.5 124.5L72.7 160.0M68.2 150.0L72.7 160.0L74.7 149.2" fill="none" stroke="#ffe414" stroke-width="1.45" stroke-linecap="round" stroke-linejoin="miter"/>
<path d="M75.5 125.0L80.6 160.0M75.8 150.1L80.6 160.0L82.4 149.1" fill="none" stroke="#ffe414" stroke-width="1.45" stroke-linecap="round" stroke-linejoin="miter"/>
<path d="M84.0 125.5L89.5 152.5" fill="none" stroke="#ffe414" stroke-width="1.40" stroke-linecap="round"/><path d="M90.6 158.0L87.0 151.6L89.5 152.5L91.5 150.7Z" fill="#ffe414" stroke="#ffe414" stroke-width="0.5" stroke-linejoin="round"/>
<path d="M109.7 124.0L97.2 157.0M97.8 146.0L97.2 157.0L104.0 148.3" fill="none" stroke="#ffe414" stroke-width="1.45" stroke-linecap="round" stroke-linejoin="miter"/>
<path d="M119.5 126.5L112.8 136.8" fill="none" stroke="#ffe414" stroke-width="1.40" stroke-linecap="round"/><path d="M109.7 141.5L111.6 134.4L112.8 136.8L115.5 136.9Z" fill="#ffe414" stroke="#ffe414" stroke-width="0.5" stroke-linejoin="round"/>
<path d="M136.0 123.5L128.8 129.3" fill="none" stroke="#ffe414" stroke-width="1.40" stroke-linecap="round"/><path d="M124.7 132.5L128.4 126.7L128.8 129.3L131.2 130.2Z" fill="#ffe414" stroke="#ffe414" stroke-width="0.5" stroke-linejoin="round"/>
<path d="M148.7 122.7L140.1 120.3" fill="none" stroke="#ffe414" stroke-width="1.40" stroke-linecap="round"/><path d="M135.2 119.0L141.9 118.5L140.1 120.3L140.7 122.8Z" fill="#ffe414" stroke="#ffe414" stroke-width="0.5" stroke-linejoin="round"/>
<path d="M163.0 123.2L152.5 116.7" fill="none" stroke="#ffe414" stroke-width="1.40" stroke-linecap="round"/><path d="M147.7 113.7L154.9 115.4L152.5 116.7L152.4 119.3Z" fill="#ffe414" stroke="#ffe414" stroke-width="0.5" stroke-linejoin="round"/>
<path d="M175.7 123.3L166.8 113.6" fill="none" stroke="#ffe414" stroke-width="1.40" stroke-linecap="round"/><path d="M163.0 109.5L169.4 113.1L166.8 113.6L166.0 116.2Z" fill="#ffe414" stroke="#ffe414" stroke-width="0.5" stroke-linejoin="round"/>
<path d="M190.0 123.4L183.3 108.6" fill="none" stroke="#ffe414" stroke-width="1.40" stroke-linecap="round"/><path d="M181.0 103.5L186.0 108.9L183.3 108.6L181.8 110.8Z" fill="#ffe414" stroke="#ffe414" stroke-width="0.5" stroke-linejoin="round"/>
<path d="M204.2 124.0L198.4 105.8" fill="none" stroke="#ffe414" stroke-width="1.40" stroke-linecap="round"/><path d="M196.7 100.5L201.0 106.5L198.4 105.8L196.6 107.9Z" fill="#ffe414" stroke="#ffe414" stroke-width="0.5" stroke-linejoin="round"/>
<path d="M216.0 123.5L212.2 106.5" fill="none" stroke="#ffe414" stroke-width="1.40" stroke-linecap="round"/><path d="M211.0 101.0L214.8 107.3L212.2 106.5L210.3 108.3Z" fill="#ffe414" stroke="#ffe414" stroke-width="0.5" stroke-linejoin="round"/>
<path d="M229.0 123.5L224.7 98.7" fill="none" stroke="#ffe414" stroke-width="1.40" stroke-linecap="round"/><path d="M223.7 93.2L227.2 99.7L224.7 98.7L222.6 100.5Z" fill="#ffe414" stroke="#ffe414" stroke-width="0.5" stroke-linejoin="round"/>
<path d="M243.5 124.0L236.8 96.7" fill="none" stroke="#ffe414" stroke-width="1.40" stroke-linecap="round"/><path d="M235.5 91.3L239.4 97.6L236.8 96.7L234.9 98.6Z" fill="#ffe414" stroke="#ffe414" stroke-width="0.5" stroke-linejoin="round"/>
<path d="M254.5 123.5L248.9 105.4" fill="none" stroke="#ffe414" stroke-width="1.40" stroke-linecap="round"/><path d="M247.3 100.0L251.5 106.0L248.9 105.4L247.2 107.4Z" fill="#ffe414" stroke="#ffe414" stroke-width="0.5" stroke-linejoin="round"/>
<path d="M270.3 124.0L258.4 106.3" fill="none" stroke="#ffe414" stroke-width="1.40" stroke-linecap="round"/><path d="M255.3 101.7L261.1 106.2L258.4 106.3L257.3 108.8Z" fill="#ffe414" stroke="#ffe414" stroke-width="0.5" stroke-linejoin="round"/>
<path d="M271.0 126.5L260.4 109.3" fill="none" stroke="#ffe414" stroke-width="1.40" stroke-linecap="round"/><path d="M257.5 104.5L263.1 109.3L260.4 109.3L259.2 111.7Z" fill="#ffe414" stroke="#ffe414" stroke-width="0.5" stroke-linejoin="round"/>
<path d="M42.5 123.4L56.4 123.3" fill="none" stroke="#2cc42c" stroke-width="1.50" stroke-linecap="round"/><path d="M62.0 123.2L55.0 125.6L56.4 123.3L55.0 121.0Z" fill="#2cc42c" stroke="#2cc42c" stroke-width="0.5" stroke-linejoin="round"/>
<path d="M50.0 123.3L74.4 123.2" fill="none" stroke="#2cc42c" stroke-width="1.50" stroke-linecap="round"/><path d="M80.0 123.2L73.0 125.5L74.4 123.2L73.0 120.9Z" fill="#2cc42c" stroke="#2cc42c" stroke-width="0.5" stroke-linejoin="round"/>
<path d="M58.0 123.2L79.4 124.0" fill="none" stroke="#2cc42c" stroke-width="1.50" stroke-linecap="round"/><path d="M85.0 124.2L77.9 126.2L79.4 124.0L78.1 121.6Z" fill="#2cc42c" stroke="#2cc42c" stroke-width="0.5" stroke-linejoin="round"/>
<path d="M70.0 123.4L92.3 126.9" fill="none" stroke="#2cc42c" stroke-width="1.50" stroke-linecap="round"/><path d="M97.8 127.8L90.5 129.0L92.3 126.9L91.2 124.4Z" fill="#2cc42c" stroke="#2cc42c" stroke-width="0.5" stroke-linejoin="round"/>
<path d="M88.0 126.0L95.9 126.7" fill="none" stroke="#2cc42c" stroke-width="1.50" stroke-linecap="round"/><path d="M101.5 127.2L94.3 128.9L95.9 126.7L94.7 124.3Z" fill="#2cc42c" stroke="#2cc42c" stroke-width="0.5" stroke-linejoin="round"/>
<path d="M118.0 124.8L111.6 123.1" fill="none" stroke="#2cc42c" stroke-width="1.50" stroke-linecap="round"/><path d="M106.5 121.8L113.4 121.2L111.6 123.1L112.2 125.7Z" fill="#2cc42c" stroke="#2cc42c" stroke-width="0.5" stroke-linejoin="round"/>
<path d="M132.0 127.2L125.6 126.4" fill="none" stroke="#2cc42c" stroke-width="1.50" stroke-linecap="round"/><path d="M120.5 125.8L127.1 124.3L125.6 126.4L126.5 128.9Z" fill="#2cc42c" stroke="#2cc42c" stroke-width="0.5" stroke-linejoin="round"/>
<path d="M146.0 126.5L140.4 126.2" fill="none" stroke="#2cc42c" stroke-width="1.50" stroke-linecap="round"/><path d="M136.0 126.0L141.6 124.0L140.4 126.2L141.4 128.6Z" fill="#2cc42c" stroke="#2cc42c" stroke-width="0.5" stroke-linejoin="round"/>
<path d="M160.0 126.0L151.0 127.4" fill="none" stroke="#2cc42c" stroke-width="1.50" stroke-linecap="round"/><path d="M145.5 128.2L152.1 124.9L151.0 127.4L152.8 129.4Z" fill="#2cc42c" stroke="#2cc42c" stroke-width="0.5" stroke-linejoin="round"/>
<path d="M172.0 123.6L165.3 124.2" fill="none" stroke="#2cc42c" stroke-width="1.50" stroke-linecap="round"/><path d="M160.0 124.6L166.4 121.8L165.3 124.2L166.8 126.3Z" fill="#2cc42c" stroke="#2cc42c" stroke-width="0.5" stroke-linejoin="round"/>
<path d="M190.0 124.0L185.4 125.2" fill="none" stroke="#2cc42c" stroke-width="1.50" stroke-linecap="round"/><path d="M181.7 126.2L185.7 122.8L185.4 125.2L186.9 127.2Z" fill="#2cc42c" stroke="#2cc42c" stroke-width="0.5" stroke-linejoin="round"/>
<path d="M208.0 124.2L205.5 124.8" fill="none" stroke="#2cc42c" stroke-width="1.50" stroke-linecap="round"/><path d="M203.5 125.2L205.6 123.2L205.5 124.8L206.3 126.1Z" fill="#2cc42c" stroke="#2cc42c" stroke-width="0.5" stroke-linejoin="round"/>
<path d="M217.6 123.3L226.4 124.1" fill="none" stroke="#2cc42c" stroke-width="1.50" stroke-linecap="round"/><path d="M232.0 124.6L224.8 126.3L226.4 124.1L225.2 121.7Z" fill="#2cc42c" stroke="#2cc42c" stroke-width="0.5" stroke-linejoin="round"/>
<path d="M226.0 123.8L249.4 126.2" fill="none" stroke="#2cc42c" stroke-width="1.50" stroke-linecap="round"/><path d="M255.0 126.8L247.8 128.4L249.4 126.2L248.3 123.8Z" fill="#2cc42c" stroke="#2cc42c" stroke-width="0.5" stroke-linejoin="round"/>
<path d="M243.0 125.0L265.5 129.7" fill="none" stroke="#2cc42c" stroke-width="1.50" stroke-linecap="round"/><path d="M271.0 130.8L263.7 131.6L265.5 129.7L264.6 127.1Z" fill="#2cc42c" stroke="#2cc42c" stroke-width="0.5" stroke-linejoin="round"/>
<path d="M96.4 16.5L103.5 16.5" fill="none" stroke="#ffe414" stroke-width="1.10" stroke-linecap="round"/><path d="M106.4 16.5L102.8 17.7L103.5 16.5L102.8 15.3Z" fill="#ffe414" stroke="#ffe414" stroke-width="0.5" stroke-linejoin="round"/>
<path d="M96.4 23.0L154.0 23.0M139.0 28.0L154.0 23.0L139.0 18.0" fill="none" stroke="#20a83c" stroke-width="1.25" stroke-linecap="round" stroke-linejoin="miter"/>
<text x="55.8" y="18.4" font-size="5.6" fill="#f4f4f4">200 nT</text>
<text x="56.0" y="24.8" font-size="5.5" fill="#00a0a0">100 km/s</text>
</g>
<rect x="42.4" y="2.4" width="228.8" height="240.2" fill="none" stroke="#000" stroke-width="0.8"/>
<path d="M42.20 242.6v2.6M42.20 2.4v-1.6M44.74 242.6v1.2M44.74 2.4v-0.7M47.29 242.6v1.2M47.29 2.4v-0.7M49.83 242.6v1.2M49.83 2.4v-0.7M52.38 242.6v1.2M52.38 2.4v-0.7M54.92 242.6v1.2M54.92 2.4v-0.7M57.46 242.6v1.2M57.46 2.4v-0.7M60.01 242.6v1.2M60.01 2.4v-0.7M62.55 242.6v1.2M62.55 2.4v-0.7M65.10 242.6v1.2M65.10 2.4v-0.7M67.64 242.6v2.6M67.64 2.4v-1.6M70.18 242.6v1.2M70.18 2.4v-0.7M72.73 242.6v1.2M72.73 2.4v-0.7M75.27 242.6v1.2M75.27 2.4v-0.7M77.82 242.6v1.2M77.82 2.4v-0.7M80.36 242.6v1.2M80.36 2.4v-0.7M82.90 242.6v1.2M82.90 2.4v-0.7M85.45 242.6v1.2M85.45 2.4v-0.7M87.99 242.6v1.2M87.99 2.4v-0.7M90.54 242.6v1.2M90.54 2.4v-0.7M93.08 242.6v2.6M93.08 2.4v-1.6M95.62 242.6v1.2M95.62 2.4v-0.7M98.17 242.6v1.2M98.17 2.4v-0.7M100.71 242.6v1.2M100.71 2.4v-0.7M103.26 242.6v1.2M103.26 2.4v-0.7M105.80 242.6v1.2M105.80 2.4v-0.7M108.34 242.6v1.2M108.34 2.4v-0.7M110.89 242.6v1.2M110.89 2.4v-0.7M113.43 242.6v1.2M113.43 2.4v-0.7M115.98 242.6v1.2M115.98 2.4v-0.7M118.52 242.6v2.6M118.52 2.4v-1.6M121.06 242.6v1.2M121.06 2.4v-0.7M123.61 242.6v1.2M123.61 2.4v-0.7M126.15 242.6v1.2M126.15 2.4v-0.7M128.70 242.6v1.2M128.70 2.4v-0.7M131.24 242.6v1.2M131.24 2.4v-0.7M133.78 242.6v1.2M133.78 2.4v-0.7M136.33 242.6v1.2M136.33 2.4v-0.7M138.87 242.6v1.2M138.87 2.4v-0.7M141.42 242.6v1.2M141.42 2.4v-0.7M143.96 242.6v2.6M143.96 2.4v-1.6M146.50 242.6v1.2M146.50 2.4v-0.7M149.05 242.6v1.2M149.05 2.4v-0.7M151.59 242.6v1.2M151.59 2.4v-0.7M154.14 242.6v1.2M154.14 2.4v-0.7M156.68 242.6v1.2M156.68 2.4v-0.7M159.22 242.6v1.2M159.22 2.4v-0.7M161.77 242.6v1.2M161.77 2.4v-0.7M164.31 242.6v1.2M164.31 2.4v-0.7M166.86 242.6v1.2M166.86 2.4v-0.7M169.40 242.6v2.6M169.40 2.4v-1.6M171.94 242.6v1.2M171.94 2.4v-0.7M174.49 242.6v1.2M174.49 2.4v-0.7M177.03 242.6v1.2M177.03 2.4v-0.7M179.58 242.6v1.2M179.58 2.4v-0.7M182.12 242.6v1.2M182.12 2.4v-0.7M184.66 242.6v1.2M184.66 2.4v-0.7M187.21 242.6v1.2M187.21 2.4v-0.7M189.75 242.6v1.2M189.75 2.4v-0.7M192.30 242.6v1.2M192.30 2.4v-0.7M194.84 242.6v2.6M194.84 2.4v-1.6M197.38 242.6v1.2M197.38 2.4v-0.7M199.93 242.6v1.2M199.93 2.4v-0.7M202.47 242.6v1.2M202.47 2.4v-0.7M205.02 242.6v1.2M205.02 2.4v-0.7M207.56 242.6v1.2M207.56 2.4v-0.7M210.10 242.6v1.2M210.10 2.4v-0.7M212.65 242.6v1.2M212.65 2.4v-0.7M215.19 242.6v1.2M215.19 2.4v-0.7M217.74 242.6v1.2M217.74 2.4v-0.7M220.28 242.6v2.6M220.28 2.4v-1.6M222.82 242.6v1.2M222.82 2.4v-0.7M225.37 242.6v1.2M225.37 2.4v-0.7M227.91 242.6v1.2M227.91 2.4v-0.7M230.46 242.6v1.2M230.46 2.4v-0.7M233.00 242.6v1.2M233.00 2.4v-0.7M235.54 242.6v1.2M235.54 2.4v-0.7M238.09 242.6v1.2M238.09 2.4v-0.7M240.63 242.6v1.2M240.63 2.4v-0.7M243.18 242.6v1.2M243.18 2.4v-0.7M245.72 242.6v2.6M245.72 2.4v-1.6M248.26 242.6v1.2M248.26 2.4v-0.7M250.81 242.6v1.2M250.81 2.4v-0.7M253.35 242.6v1.2M253.35 2.4v-0.7M255.90 242.6v1.2M255.90 2.4v-0.7M258.44 242.6v1.2M258.44 2.4v-0.7M260.98 242.6v1.2M260.98 2.4v-0.7M263.53 242.6v1.2M263.53 2.4v-0.7M266.07 242.6v1.2M266.07 2.4v-0.7M268.62 242.6v1.2M268.62 2.4v-0.7M271.16 242.6v2.6M271.16 2.4v-1.6M42.4 241.10h-1.2M271.2 241.10h0.7M42.4 238.55h-1.2M271.2 238.55h0.7M42.4 236.00h-1.2M271.2 236.00h0.7M42.4 233.45h-1.2M271.2 233.45h0.7M42.4 230.90h-1.2M271.2 230.90h0.7M42.4 228.35h-1.2M271.2 228.35h0.7M42.4 225.80h-2.6M271.2 225.80h1.6M42.4 223.25h-1.2M271.2 223.25h0.7M42.4 220.70h-1.2M271.2 220.70h0.7M42.4 218.15h-1.2M271.2 218.15h0.7M42.4 215.60h-1.2M271.2 215.60h0.7M42.4 213.05h-1.2M271.2 213.05h0.7M42.4 210.50h-1.2M271.2 210.50h0.7M42.4 207.95h-1.2M271.2 207.95h0.7M42.4 205.40h-1.2M271.2 205.40h0.7M42.4 202.85h-1.2M271.2 202.85h0.7M42.4 200.30h-2.6M271.2 200.30h1.6M42.4 197.75h-1.2M271.2 197.75h0.7M42.4 195.20h-1.2M271.2 195.20h0.7M42.4 192.65h-1.2M271.2 192.65h0.7M42.4 190.10h-1.2M271.2 190.10h0.7M42.4 187.55h-1.2M271.2 187.55h0.7M42.4 185.00h-1.2M271.2 185.00h0.7M42.4 182.45h-1.2M271.2 182.45h0.7M42.4 179.90h-1.2M271.2 179.90h0.7M42.4 177.35h-1.2M271.2 177.35h0.7M42.4 174.80h-2.6M271.2 174.80h1.6M42.4 172.25h-1.2M271.2 172.25h0.7M42.4 169.70h-1.2M271.2 169.70h0.7M42.4 167.15h-1.2M271.2 167.15h0.7M42.4 164.60h-1.2M271.2 164.60h0.7M42.4 162.05h-1.2M271.2 162.05h0.7M42.4 159.50h-1.2M271.2 159.50h0.7M42.4 156.95h-1.2M271.2 156.95h0.7M42.4 154.40h-1.2M271.2 154.40h0.7M42.4 151.85h-1.2M271.2 151.85h0.7M42.4 149.30h-2.6M271.2 149.30h1.6M42.4 146.75h-1.2M271.2 146.75h0.7M42.4 144.20h-1.2M271.2 144.20h0.7M42.4 141.65h-1.2M271.2 141.65h0.7M42.4 139.10h-1.2M271.2 139.10h0.7M42.4 136.55h-1.2M271.2 136.55h0.7M42.4 134.00h-1.2M271.2 134.00h0.7M42.4 131.45h-1.2M271.2 131.45h0.7M42.4 128.90h-1.2M271.2 128.90h0.7M42.4 126.35h-1.2M271.2 126.35h0.7M42.4 123.80h-2.6M271.2 123.80h1.6M42.4 121.25h-1.2M271.2 121.25h0.7M42.4 118.70h-1.2M271.2 118.70h0.7M42.4 116.15h-1.2M271.2 116.15h0.7M42.4 113.60h-1.2M271.2 113.60h0.7M42.4 111.05h-1.2M271.2 111.05h0.7M42.4 108.50h-1.2M271.2 108.50h0.7M42.4 105.95h-1.2M271.2 105.95h0.7M42.4 103.40h-1.2M271.2 103.40h0.7M42.4 100.85h-1.2M271.2 100.85h0.7M42.4 98.30h-2.6M271.2 98.30h1.6M42.4 95.75h-1.2M271.2 95.75h0.7M42.4 93.20h-1.2M271.2 93.20h0.7M42.4 90.65h-1.2M271.2 90.65h0.7M42.4 88.10h-1.2M271.2 88.10h0.7M42.4 85.55h-1.2M271.2 85.55h0.7M42.4 83.00h-1.2M271.2 83.00h0.7M42.4 80.45h-1.2M271.2 80.45h0.7M42.4 77.90h-1.2M271.2 77.90h0.7M42.4 75.35h-1.2M271.2 75.35h0.7M42.4 72.80h-2.6M271.2 72.80h1.6M42.4 70.25h-1.2M271.2 70.25h0.7M42.4 67.70h-1.2M271.2 67.70h0.7M42.4 65.15h-1.2M271.2 65.15h0.7M42.4 62.60h-1.2M271.2 62.60h0.7M42.4 60.05h-1.2M271.2 60.05h0.7M42.4 57.50h-1.2M271.2 57.50h0.7M42.4 54.95h-1.2M271.2 54.95h0.7M42.4 52.40h-1.2M271.2 52.40h0.7M42.4 49.85h-1.2M271.2 49.85h0.7M42.4 47.30h-2.6M271.2 47.30h1.6M42.4 44.75h-1.2M271.2 44.75h0.7M42.4 42.20h-1.2M271.2 42.20h0.7M42.4 39.65h-1.2M271.2 39.65h0.7M42.4 37.10h-1.2M271.2 37.10h0.7M42.4 34.55h-1.2M271.2 34.55h0.7M42.4 32.00h-1.2M271.2 32.00h0.7M42.4 29.45h-1.2M271.2 29.45h0.7M42.4 26.90h-1.2M271.2 26.90h0.7M42.4 24.35h-1.2M271.2 24.35h0.7M42.4 21.80h-2.6M271.2 21.80h1.6M42.4 19.25h-1.2M271.2 19.25h0.7M42.4 16.70h-1.2M271.2 16.70h0.7M42.4 14.15h-1.2M271.2 14.15h0.7M42.4 11.60h-1.2M271.2 11.60h0.7M42.4 9.05h-1.2M271.2 9.05h0.7M42.4 6.50h-1.2M271.2 6.50h0.7M42.4 3.95h-1.2M271.2 3.95h0.7" stroke="#000" stroke-width="0.5" fill="none"/>
<g font-size="8.2" fill="#000" stroke="#000" stroke-width="0.2">
<text x="42.2" y="255.4" text-anchor="middle">0</text>
<text x="67.6" y="255.4" text-anchor="middle">0.005</text>
<text x="93.1" y="255.4" text-anchor="middle">0.01</text>
<text x="118.5" y="255.4" text-anchor="middle">0.015</text>
<text x="144.0" y="255.4" text-anchor="middle">0.02</text>
<text x="169.4" y="255.4" text-anchor="middle">0.025</text>
<text x="194.8" y="255.4" text-anchor="middle">0.03</text>
<text x="220.3" y="255.4" text-anchor="middle">0.035</text>
<text x="245.7" y="255.4" text-anchor="middle">0.04</text>
<text x="38.4" y="24.7" text-anchor="end">0.02</text>
<text x="38.4" y="50.2" text-anchor="end">0.015</text>
<text x="38.4" y="75.7" text-anchor="end">0.01</text>
<text x="38.4" y="101.2" text-anchor="end">0.005</text>
<text x="38.4" y="126.7" text-anchor="end">0</text>
<text x="38.4" y="152.2" text-anchor="end">−0.005</text>
<text x="38.4" y="177.7" text-anchor="end">−0.01</text>
<text x="38.4" y="203.2" text-anchor="end">−0.015</text>
<text x="38.4" y="228.7" text-anchor="end">−0.02</text>
</g>
<text x="157" y="265.6" text-anchor="middle" font-size="8.4" font-weight="bold">x´ (AU)</text>
<text transform="translate(7.9 123.3) rotate(-90)" text-anchor="middle" font-size="8.4" font-weight="bold">y´ (AU)</text>
<defs><linearGradient id="jet" x1="0" y1="1" x2="0" y2="0">
<stop offset="0.0000" stop-color="#000080"/>
<stop offset="0.0312" stop-color="#00009f"/>
<stop offset="0.0625" stop-color="#0000bf"/>
<stop offset="0.0938" stop-color="#0000df"/>
<stop offset="0.1250" stop-color="#0000ff"/>
<stop offset="0.1562" stop-color="#0020ff"/>
<stop offset="0.1875" stop-color="#0040ff"/>
<stop offset="0.2188" stop-color="#0060ff"/>
<stop offset="0.2500" stop-color="#0080ff"/>
<stop offset="0.2812" stop-color="#009fff"/>
<stop offset="0.3125" stop-color="#00bfff"/>
<stop offset="0.3438" stop-color="#00dfff"/>
<stop offset="0.3750" stop-color="#00ffff"/>
<stop offset="0.4062" stop-color="#20ffdf"/>
<stop offset="0.4375" stop-color="#40ffbf"/>
<stop offset="0.4688" stop-color="#60ff9f"/>
<stop offset="0.5000" stop-color="#80ff80"/>
<stop offset="0.5312" stop-color="#9fff60"/>
<stop offset="0.5625" stop-color="#bfff40"/>
<stop offset="0.5938" stop-color="#dfff20"/>
<stop offset="0.6250" stop-color="#ffff00"/>
<stop offset="0.6562" stop-color="#ffdf00"/>
<stop offset="0.6875" stop-color="#ffbf00"/>
<stop offset="0.7188" stop-color="#ff9f00"/>
<stop offset="0.7500" stop-color="#ff8000"/>
<stop offset="0.7812" stop-color="#ff6000"/>
<stop offset="0.8125" stop-color="#ff4000"/>
<stop offset="0.8438" stop-color="#ff2000"/>
<stop offset="0.8750" stop-color="#ff0000"/>
<stop offset="0.9062" stop-color="#df0000"/>
<stop offset="0.9375" stop-color="#bf0000"/>
<stop offset="0.9688" stop-color="#9f0000"/>
<stop offset="1.0000" stop-color="#800000"/>
</linearGradient></defs>
<rect x="276.7" y="33.3" width="6.3" height="194.5" fill="url(#jet)"/>
<g font-size="8.1" fill="#000" stroke="#000" stroke-width="0.2">
<text x="284.4" y="230.1">0</text>
<text x="284.4" y="197.7">200</text>
<text x="284.4" y="165.3">400</text>
<text x="284.4" y="132.9">600</text>
<text x="284.4" y="100.4">800</text>
<text x="284.4" y="68.0">1000</text>
<text x="284.4" y="35.6">1200</text>
</g>
<text x="276.2" y="255.2" font-size="6.1" font-weight="bold" font-style="italic">B<tspan font-size="4.2" dy="1.4">z</tspan><tspan dy="-1.4"> (nT)</tspan></text>
<path d="M394.0 63.8V251.5M433.6 63.8V251.5M473.1 63.8V251.5M512.7 63.8V251.5M552.3 63.8V251.5M354.4 228.0H591.9M354.4 204.6H591.9M354.4 181.1H591.9M354.4 157.7H591.9M354.4 134.2H591.9M354.4 110.7H591.9M354.4 87.3H591.9" stroke="#000" stroke-opacity="0.95" stroke-width="0.6" stroke-dasharray="0.7 2.15" fill="none"/>
<path d="M525.5 63.8V251.5" stroke="#5a5a5a" stroke-width="0.9" fill="none"/>
<path d="M358.6 236.7L361.8 236.3L365.1 235.8L368.3 235.3L371.5 234.8L374.7 234.2L378.0 233.6L381.2 232.9L384.4 232.3L387.6 231.6L390.9 230.9L394.1 230.2L397.3 229.4L400.6 228.6L403.8 227.7L407.0 226.8L410.2 225.9L413.5 224.9L416.7 223.8L419.9 222.8L423.1 221.7L426.4 220.6L429.6 219.5L432.8 218.4L436.1 217.2L439.3 216.1L442.5 214.9L445.7 213.6L449.0 212.4L452.2 211.1L455.4 209.7L458.6 208.3L461.9 206.9L465.1 205.4L468.3 203.8L471.5 202.1L474.8 200.3L478.0 198.4L481.2 196.2L484.5 194.0L487.7 191.6L490.9 189.2L494.1 186.7L497.4 184.3L500.6 181.9L503.8 179.4L507.0 177.0L510.3 174.4L513.5 171.7L516.7 169.0L520.0 166.2L523.2 163.4L526.4 160.4L529.6 157.2L532.9 153.9L536.1 150.6L539.3 147.1L542.5 143.3L545.8 139.2L549.0 135.0" fill="none" stroke="#000" stroke-width="2" stroke-dasharray="5 3.2"/>
<path d="M549.0 135.0L551.1 132.3L553.2 129.7L555.3 127.0L557.4 124.3L559.5 121.6L561.6 118.8L563.7 115.9L565.9 112.8L568.0 109.6L570.1 106.3L572.2 102.9L574.3 99.4L576.4 95.8L578.5 92.1L580.6 88.4" fill="none" stroke="#000" stroke-width="2"/>
<path d="M581.5 86.7L583.1 83.8L584.6 80.8L586.2 77.7L587.8 74.6" fill="none" stroke="#000" stroke-width="2" stroke-dasharray="4 2"/>
<path d="M513.3 198.9L523.7 146.0L535.9 152.1L547.3 133.3L560.1 129.5L572.2 107.1L580.0 82.5L584.2 75.3" fill="none" stroke="#3a3ae0" stroke-width="0.5" stroke-dasharray="3 2"/>
<path d="M524.3 139.5L530.6 148.3L539.7 144.3L550.2 143.4L560.0 126.5L567.3 114.4L574.5 101.6L579.0 89.8L582.7 85.3" fill="none" stroke="#3a3ae0" stroke-width="0.5" stroke-dasharray="2.5 2"/>
<g fill="none" stroke="#3a3ae0" stroke-width="0.7">
<circle cx="513.3" cy="198.9" r="2.3"/>
<circle cx="523.7" cy="146.0" r="2.3"/>
<circle cx="535.9" cy="152.1" r="2.3"/>
<circle cx="547.3" cy="133.3" r="2.3"/>
<circle cx="560.1" cy="129.5" r="2.3"/>
<circle cx="572.2" cy="107.1" r="2.3"/>
<circle cx="580.0" cy="82.5" r="2.3"/>
<circle cx="584.2" cy="75.3" r="2.3"/>
<path d="M522.2 139.5L526.4 139.5M522.8 138.0L525.8 141.0M524.3 137.4L524.3 141.6M525.8 138.0L522.8 141.0M528.5 148.3L532.7 148.3M529.1 146.8L532.1 149.8M530.6 146.2L530.6 150.4M532.1 146.8L529.1 149.8M537.6 144.3L541.8 144.3M538.2 142.8L541.2 145.8M539.7 142.2L539.7 146.4M541.2 142.8L538.2 145.8M548.1 143.4L552.3 143.4M548.7 141.9L551.7 144.9M550.2 141.3L550.2 145.5M551.7 141.9L548.7 144.9M557.9 126.5L562.1 126.5M558.5 125.0L561.5 128.0M560.0 124.4L560.0 128.6M561.5 125.0L558.5 128.0M565.2 114.4L569.4 114.4M565.8 112.9L568.8 115.9M567.3 112.3L567.3 116.5M568.8 112.9L565.8 115.9M572.4 101.6L576.6 101.6M573.0 100.1L576.0 103.1M574.5 99.5L574.5 103.7M576.0 100.1L573.0 103.1M576.9 89.8L581.1 89.8M577.5 88.3L580.5 91.3M579.0 87.7L579.0 91.9M580.5 88.3L577.5 91.3M580.6 85.3L584.8 85.3M581.2 83.8L584.2 86.8M582.7 83.2L582.7 87.4M584.2 83.8L581.2 86.8"/>
</g>
<rect x="354.4" y="63.8" width="237.5" height="187.7" fill="none" stroke="#555" stroke-width="0.9"/>
<path d="M354.4 251.5v-2.2M354.4 63.8v2.2M394.0 251.5v-2.2M394.0 63.8v2.2M433.6 251.5v-2.2M433.6 63.8v2.2M473.1 251.5v-2.2M473.1 63.8v2.2M512.7 251.5v-2.2M512.7 63.8v2.2M552.3 251.5v-2.2M552.3 63.8v2.2M591.9 251.5v-2.2M591.9 63.8v2.2M354.4 251.5h2.2M591.9 251.5h-2.2M354.4 228.0h2.2M591.9 228.0h-2.2M354.4 204.6h2.2M591.9 204.6h-2.2M354.4 181.1h2.2M591.9 181.1h-2.2M354.4 157.7h2.2M591.9 157.7h-2.2M354.4 134.2h2.2M591.9 134.2h-2.2M354.4 110.7h2.2M591.9 110.7h-2.2M354.4 87.3h2.2M591.9 87.3h-2.2M354.4 63.8h2.2M591.9 63.8h-2.2" stroke="#555" stroke-width="0.6" fill="none"/>
<g font-size="8.05" fill="#000" stroke="#000" stroke-width="0.2">
<text x="352.9" y="262.2" text-anchor="middle">−4000</text>
<text x="392.5" y="262.2" text-anchor="middle">−3000</text>
<text x="432.1" y="262.2" text-anchor="middle">−2000</text>
<text x="471.6" y="262.2" text-anchor="middle">−1000</text>
<text x="512.7" y="262.2" text-anchor="middle">0</text>
<text x="552.3" y="262.2" text-anchor="middle">1000</text>
<text x="591.9" y="262.2" text-anchor="middle">2000</text>
<text x="351.8" y="254.1" text-anchor="end">0</text>
<text x="351.8" y="230.6" text-anchor="end">200</text>
<text x="351.8" y="207.2" text-anchor="end">400</text>
<text x="351.8" y="183.7" text-anchor="end">600</text>
<text x="351.8" y="160.2" text-anchor="end">800</text>
<text x="351.8" y="136.8" text-anchor="end">1000</text>
<text x="351.8" y="113.3" text-anchor="end">1200</text>
<text x="351.8" y="89.9" text-anchor="end">1400</text>
<text x="351.8" y="66.4" text-anchor="end">1600</text>
</g>
<text x="473" y="272.2" text-anchor="middle" font-size="8.2" font-weight="bold">A (T · m)</text>
<text transform="translate(323.4 158.5) rotate(-90)" text-anchor="middle" font-size="7.9" font-weight="bold">P<tspan font-size="5.5" dy="2">t</tspan><tspan dy="-2"> (nPa)</tspan></text>
<text x="425.6" y="91.8" font-size="9.7" stroke="#000" stroke-width="0.2">R<tspan font-size="7.6" dy="3.2">f</tspan><tspan dy="-3.2">=0.08</tspan></text>
<text x="526" y="100.8" font-size="6.6" fill="#222">A<tspan font-size="4.8" dy="3.9">b</tspan></text>
</svg>
</body></html>
